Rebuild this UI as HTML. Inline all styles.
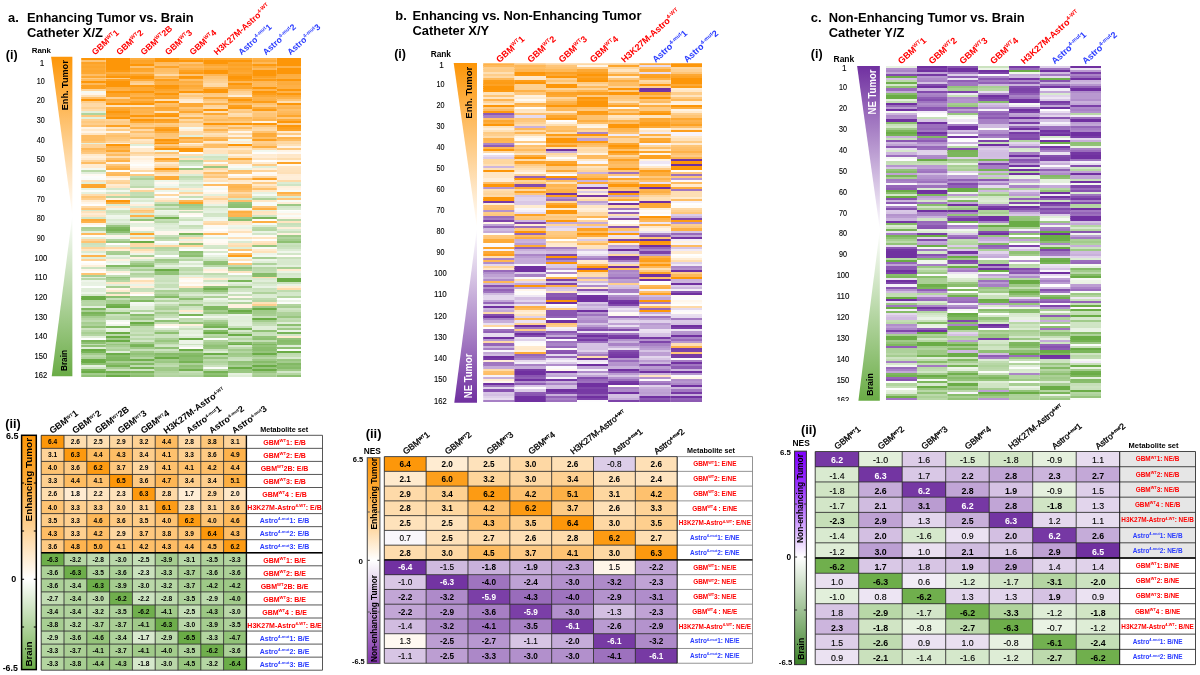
<!DOCTYPE html>
<html><head><meta charset="utf-8"><style>
html,body{margin:0;padding:0;background:#fff;width:1200px;height:675px;overflow:hidden}
#fig{position:absolute;left:0;top:0;filter:blur(0.35px)}
text{font-family:"Liberation Sans", sans-serif;font-weight:bold}
</style></head><body>
<svg id="fig" width="1200" height="675" viewBox="0 0 1200 675">
<svg x="81.20" y="57.80" width="24.67" height="319.20" viewBox="0 0 1 162" preserveAspectRatio="none" shape-rendering="crispEdges"><path d="M0 0h1v1.2H0z" fill="#fd9608"/><path d="M0 1h1v1.2H0z" fill="#fec576"/><path d="M0 2h1v1.2H0z" fill="#fda327"/><path d="M0 3h1v1.2H0z" fill="#fda934"/><path d="M0 4h1v1.2H0z" fill="#fda62d"/><path d="M0 5h1v1.2H0z" fill="#fda934"/><path d="M0 6h1v1.2H0z" fill="#fda62d"/><path d="M0 7h1v1.2H0z" fill="#fda831"/><path d="M0 8h1v1.2H0z" fill="#febd65"/><path d="M0 9h1v1.2H0z" fill="#fda832"/><path d="M0 10h1v1.2H0z" fill="#feca83"/><path d="M0 11h1v1.2H0z" fill="#feba5c"/><path d="M0 12h1v1.2H0z" fill="#fd9608"/><path d="M0 13h1v1.2H0z" fill="#feb95b"/><path d="M0 14h1v1.2H0z" fill="#fda020"/><path d="M0 15h1v1.2H0z" fill="#fda123"/><path d="M0 16h1v1.2H0z" fill="#fed59c"/><path d="M0 17h1v1.2H0z" fill="#f5f9f3"/><path d="M0 18h1v1.2H0z" fill="#fff6eb"/><path d="M0 19h1v1.2H0z" fill="#fee2bb"/><path d="M0 20h1v1.2H0z" fill="#fec06b"/><path d="M0 21h1v1.2H0z" fill="#fd9608"/><path d="M0 22h1v1.2H0z" fill="#fece8b"/><path d="M0 23h1v1.2H0z" fill="#fed9a6"/><path d="M0 24h1v1.2H0z" fill="#fedaa8"/><path d="M0 25h1v1.2H0z" fill="#fed192"/><path d="M0 26h1v1.2H0z" fill="#fedbab"/><path d="M0 27h1v1.2H0z" fill="#e2efdb"/><path d="M0 28h1v1.2H0z" fill="#afd39c"/><path d="M0 29h1v1.2H0z" fill="#fec87e"/><path d="M0 30h1v1.2H0z" fill="#e3f0dd"/><path d="M0 31h1v1.2H0z" fill="#fed192"/><path d="M0 32h1v1.2H0z" fill="#fec97f"/><path d="M0 33h1v1.2H0z" fill="#fece8c"/><path d="M0 34h1v1.2H0z" fill="#fec16e"/><path d="M0 35h1v1.2H0z" fill="#fff4e5"/><path d="M0 36h1v1.2H0z" fill="#ffe9cb"/><path d="M0 37h1v1.2H0z" fill="#fff5e7"/><path d="M0 38h1v1.2H0z" fill="#ffe6c4"/><path d="M0 39h1v1.2H0z" fill="#febd64"/><path d="M0 40h1v1.2H0z" fill="#febe66"/><path d="M0 41h1v1.2H0z" fill="#febd63"/><path d="M0 42h1v1.2H0z" fill="#fec678"/><path d="M0 43h1v1.2H0z" fill="#e4f0de"/><path d="M0 44h1v1.2H0z" fill="#fed49b"/><path d="M0 45h1v1.2H0z" fill="#fed398"/><path d="M0 46h1v1.2H0z" fill="#feb959"/><path d="M0 47h1v1.2H0z" fill="#fec16e"/><path d="M0 48h1v1.2H0z" fill="#fec980"/><path d="M0 49h1v1.2H0z" fill="#ffeacd"/><path d="M0 50h1v1.2H0z" fill="#fff1dd"/><path d="M0 51h1v1.2H0z" fill="#ffeace"/><path d="M0 52h1v1.2H0z" fill="#fed59c"/><path d="M0 53h1v1.2H0z" fill="#febc61"/><path d="M0 54h1v1.2H0z" fill="#ffecd2"/><path d="M0 55h1v1.2H0z" fill="#ffebd1"/><path d="M0 56h1v1.2H0z" fill="#f5f9f2"/><path d="M0 57h1v1.2H0z" fill="#bad9a9"/><path d="M0 58h1v1.2H0z" fill="#e3efdc"/><path d="M0 59h1v1.2H0z" fill="#fffaf3"/><path d="M0 60h1v1.2H0z" fill="#fcfdfc"/><path d="M0 61h1v1.2H0z" fill="#fafcf9"/><path d="M0 62h1v1.2H0z" fill="#fee2bc"/><path d="M0 63h1v1.2H0z" fill="#e1eeda"/><path d="M0 64h1v1.2H0z" fill="#fda62d"/><path d="M0 65h1v1.2H0z" fill="#fda42a"/><path d="M0 66h1v1.2H0z" fill="#e9f3e3"/><path d="M0 67h1v1.2H0z" fill="#fbfdfa"/><path d="M0 68h1v1.2H0z" fill="#e6f1e0"/><path d="M0 69h1v1.2H0z" fill="#fedcac"/><path d="M0 70h1v1.2H0z" fill="#fec678"/><path d="M0 71h1v1.2H0z" fill="#fecf8f"/><path d="M0 72h1v1.2H0z" fill="#ffecd2"/><path d="M0 73h1v1.2H0z" fill="#fff5e8"/><path d="M0 74h1v1.2H0z" fill="#fffefd"/><path d="M0 75h1v1.2H0z" fill="#fedaa7"/><path d="M0 76h1v1.2H0z" fill="#fec679"/><path d="M0 77h1v1.2H0z" fill="#d4e7ca"/><path d="M0 78h1v1.2H0z" fill="#fee1ba"/><path d="M0 79h1v1.2H0z" fill="#ffecd3"/><path d="M0 80h1v1.2H0z" fill="#ffe5c3"/><path d="M0 81h1v1.2H0z" fill="#d3e6c8"/><path d="M0 82h1v1.2H0z" fill="#fdab39"/><path d="M0 83h1v1.2H0z" fill="#feb24b"/><path d="M0 84h1v1.2H0z" fill="#fff4e4"/><path d="M0 85h1v1.2H0z" fill="#fcfdfb"/><path d="M0 86h1v1.2H0z" fill="#a9cf95"/><path d="M0 87h1v1.2H0z" fill="#b0d39d"/><path d="M0 88h1v1.2H0z" fill="#e3f0dd"/><path d="M0 89h1v1.2H0z" fill="#feb95b"/><path d="M0 90h1v1.2H0z" fill="#fffcf8"/><path d="M0 91h1v1.2H0z" fill="#e3efdc"/><path d="M0 92h1v1.2H0z" fill="#fed49b"/><path d="M0 93h1v1.2H0z" fill="#fec372"/><path d="M0 94h1v1.2H0z" fill="#cbe2bf"/><path d="M0 95h1v1.2H0z" fill="#cfe4c4"/><path d="M0 96h1v1.2H0z" fill="#fed59b"/><path d="M0 97h1v1.2H0z" fill="#ffe6c4"/><path d="M0 98h1v1.2H0z" fill="#dbebd2"/><path d="M0 99h1v1.2H0z" fill="#eff6eb"/><path d="M0 100h1v1.2H0z" fill="#feb34d"/><path d="M0 101h1v1.2H0z" fill="#e1eeda"/><path d="M0 102h1v1.2H0z" fill="#fed398"/><path d="M0 103h1v1.2H0z" fill="#fffffe"/><path d="M0 104h1v1.2H0z" fill="#fffbf5"/><path d="M0 105h1v1.2H0z" fill="#fff0db"/><path d="M0 106h1v1.2H0z" fill="#cde3c0"/><path d="M0 107h1v1.2H0z" fill="#fff6ea"/><path d="M0 108h1v1.2H0z" fill="#fffdfa"/><path d="M0 109h1v1.2H0z" fill="#fec473"/><path d="M0 110h1v1.2H0z" fill="#aad096"/><path d="M0 111h1v1.2H0z" fill="#e3efdc"/><path d="M0 112h1v1.2H0z" fill="#b9d8a8"/><path d="M0 113h1v1.2H0z" fill="#eef5ea"/><path d="M0 114h1v1.2H0z" fill="#e7f1e1"/><path d="M0 115h1v1.2H0z" fill="#e8f2e3"/><path d="M0 116h1v1.2H0z" fill="#fdfefc"/><path d="M0 117h1v1.2H0z" fill="#dfedd8"/><path d="M0 118h1v1.2H0z" fill="#dfedd8"/><path d="M0 119h1v1.2H0z" fill="#edf5e8"/><path d="M0 120h1v1.2H0z" fill="#d5e8cb"/><path d="M0 121h1v1.2H0z" fill="#6aac46"/><path d="M0 122h1v1.2H0z" fill="#6aac46"/><path d="M0 123h1v1.2H0z" fill="#b4d5a2"/><path d="M0 124h1v1.2H0z" fill="#b8d7a7"/><path d="M0 125h1v1.2H0z" fill="#b6d6a4"/><path d="M0 126h1v1.2H0z" fill="#e3efdc"/><path d="M0 127h1v1.2H0z" fill="#7cb65d"/><path d="M0 128h1v1.2H0z" fill="#abd097"/><path d="M0 129h1v1.2H0z" fill="#79b458"/><path d="M0 130h1v1.2H0z" fill="#84ba66"/><path d="M0 131h1v1.2H0z" fill="#a6ce91"/><path d="M0 132h1v1.2H0z" fill="#b6d6a4"/><path d="M0 133h1v1.2H0z" fill="#bfdbb0"/><path d="M0 134h1v1.2H0z" fill="#a6ce91"/><path d="M0 135h1v1.2H0z" fill="#aed29b"/><path d="M0 136h1v1.2H0z" fill="#91c176"/><path d="M0 137h1v1.2H0z" fill="#cde3c0"/><path d="M0 138h1v1.2H0z" fill="#b8d7a7"/><path d="M0 139h1v1.2H0z" fill="#a8cf93"/><path d="M0 140h1v1.2H0z" fill="#b4d5a2"/><path d="M0 141h1v1.2H0z" fill="#e1eed9"/><path d="M0 142h1v1.2H0z" fill="#fdfefd"/><path d="M0 143h1v1.2H0z" fill="#7bb55b"/><path d="M0 144h1v1.2H0z" fill="#8ec073"/><path d="M0 145h1v1.2H0z" fill="#c2ddb3"/><path d="M0 146h1v1.2H0z" fill="#92c278"/><path d="M0 147h1v1.2H0z" fill="#e1efda"/><path d="M0 148h1v1.2H0z" fill="#6aac46"/><path d="M0 149h1v1.2H0z" fill="#78b458"/><path d="M0 150h1v1.2H0z" fill="#a2cb8b"/><path d="M0 151h1v1.2H0z" fill="#bbd9aa"/><path d="M0 152h1v1.2H0z" fill="#afd29c"/><path d="M0 153h1v1.2H0z" fill="#6aac46"/><path d="M0 154h1v1.2H0z" fill="#6aac46"/><path d="M0 155h1v1.2H0z" fill="#8dc072"/><path d="M0 156h1v1.2H0z" fill="#e6f1e0"/><path d="M0 157h1v1.2H0z" fill="#cee4c3"/><path d="M0 158h1v1.2H0z" fill="#78b458"/><path d="M0 159h1v1.2H0z" fill="#6aac46"/><path d="M0 160h1v1.2H0z" fill="#a3cc8d"/><path d="M0 161h1v1.2H0z" fill="#91c277"/></svg><svg x="105.62" y="57.80" width="24.67" height="319.20" viewBox="0 0 1 162" preserveAspectRatio="none" shape-rendering="crispEdges"><path d="M0 0h1v1.2H0z" fill="#fd9608"/><path d="M0 1h1v1.2H0z" fill="#fd9608"/><path d="M0 2h1v1.2H0z" fill="#fd9608"/><path d="M0 3h1v1.2H0z" fill="#fd9608"/><path d="M0 4h1v1.2H0z" fill="#fd9608"/><path d="M0 5h1v1.2H0z" fill="#fd9608"/><path d="M0 6h1v1.2H0z" fill="#fd9a11"/><path d="M0 7h1v1.2H0z" fill="#fdae41"/><path d="M0 8h1v1.2H0z" fill="#fda325"/><path d="M0 9h1v1.2H0z" fill="#fd9608"/><path d="M0 10h1v1.2H0z" fill="#fece8c"/><path d="M0 11h1v1.2H0z" fill="#fda123"/><path d="M0 12h1v1.2H0z" fill="#fd9608"/><path d="M0 13h1v1.2H0z" fill="#fd9608"/><path d="M0 14h1v1.2H0z" fill="#fd9608"/><path d="M0 15h1v1.2H0z" fill="#fdaf43"/><path d="M0 16h1v1.2H0z" fill="#feb24b"/><path d="M0 17h1v1.2H0z" fill="#fd9608"/><path d="M0 18h1v1.2H0z" fill="#fda326"/><path d="M0 19h1v1.2H0z" fill="#fda428"/><path d="M0 20h1v1.2H0z" fill="#fed194"/><path d="M0 21h1v1.2H0z" fill="#fdae41"/><path d="M0 22h1v1.2H0z" fill="#feb148"/><path d="M0 23h1v1.2H0z" fill="#fd9608"/><path d="M0 24h1v1.2H0z" fill="#fee4bf"/><path d="M0 25h1v1.2H0z" fill="#fdaa37"/><path d="M0 26h1v1.2H0z" fill="#fda52b"/><path d="M0 27h1v1.2H0z" fill="#fd970a"/><path d="M0 28h1v1.2H0z" fill="#fda122"/><path d="M0 29h1v1.2H0z" fill="#fda62e"/><path d="M0 30h1v1.2H0z" fill="#fd9608"/><path d="M0 31h1v1.2H0z" fill="#fed398"/><path d="M0 32h1v1.2H0z" fill="#fecc87"/><path d="M0 33h1v1.2H0z" fill="#fece8c"/><path d="M0 34h1v1.2H0z" fill="#fda020"/><path d="M0 35h1v1.2H0z" fill="#fee2ba"/><path d="M0 36h1v1.2H0z" fill="#fecc86"/><path d="M0 37h1v1.2H0z" fill="#fff5e8"/><path d="M0 38h1v1.2H0z" fill="#fec97f"/><path d="M0 39h1v1.2H0z" fill="#fec06b"/><path d="M0 40h1v1.2H0z" fill="#fec77a"/><path d="M0 41h1v1.2H0z" fill="#feca82"/><path d="M0 42h1v1.2H0z" fill="#fed69e"/><path d="M0 43h1v1.2H0z" fill="#ffeed7"/><path d="M0 44h1v1.2H0z" fill="#fd970a"/><path d="M0 45h1v1.2H0z" fill="#feb148"/><path d="M0 46h1v1.2H0z" fill="#feb755"/><path d="M0 47h1v1.2H0z" fill="#fda72f"/><path d="M0 48h1v1.2H0z" fill="#fecb86"/><path d="M0 49h1v1.2H0z" fill="#febb60"/><path d="M0 50h1v1.2H0z" fill="#fedeb2"/><path d="M0 51h1v1.2H0z" fill="#fec06c"/><path d="M0 52h1v1.2H0z" fill="#feb148"/><path d="M0 53h1v1.2H0z" fill="#fff3e4"/><path d="M0 54h1v1.2H0z" fill="#fec87e"/><path d="M0 55h1v1.2H0z" fill="#feb857"/><path d="M0 56h1v1.2H0z" fill="#fdae40"/><path d="M0 57h1v1.2H0z" fill="#fffdfa"/><path d="M0 58h1v1.2H0z" fill="#febd64"/><path d="M0 59h1v1.2H0z" fill="#feb858"/><path d="M0 60h1v1.2H0z" fill="#ffecd2"/><path d="M0 61h1v1.2H0z" fill="#fff6eb"/><path d="M0 62h1v1.2H0z" fill="#fed7a0"/><path d="M0 63h1v1.2H0z" fill="#fed295"/><path d="M0 64h1v1.2H0z" fill="#ffecd2"/><path d="M0 65h1v1.2H0z" fill="#ffe6c5"/><path d="M0 66h1v1.2H0z" fill="#d5e8cb"/><path d="M0 67h1v1.2H0z" fill="#f2f8ef"/><path d="M0 68h1v1.2H0z" fill="#d2e6c7"/><path d="M0 69h1v1.2H0z" fill="#fedfb3"/><path d="M0 70h1v1.2H0z" fill="#b5d6a3"/><path d="M0 71h1v1.2H0z" fill="#fff4e4"/><path d="M0 72h1v1.2H0z" fill="#fd9608"/><path d="M0 73h1v1.2H0z" fill="#fdac3b"/><path d="M0 74h1v1.2H0z" fill="#daebd1"/><path d="M0 75h1v1.2H0z" fill="#ffe7c7"/><path d="M0 76h1v1.2H0z" fill="#eef6ea"/><path d="M0 77h1v1.2H0z" fill="#cbe2be"/><path d="M0 78h1v1.2H0z" fill="#c8e0ba"/><path d="M0 79h1v1.2H0z" fill="#d6e8cc"/><path d="M0 80h1v1.2H0z" fill="#f0f7ec"/><path d="M0 81h1v1.2H0z" fill="#edf5e9"/><path d="M0 82h1v1.2H0z" fill="#dbebd3"/><path d="M0 83h1v1.2H0z" fill="#e4f0de"/><path d="M0 84h1v1.2H0z" fill="#d1e5c6"/><path d="M0 85h1v1.2H0z" fill="#99c681"/><path d="M0 86h1v1.2H0z" fill="#7eb75f"/><path d="M0 87h1v1.2H0z" fill="#77b356"/><path d="M0 88h1v1.2H0z" fill="#8dc072"/><path d="M0 89h1v1.2H0z" fill="#c1ddb3"/><path d="M0 90h1v1.2H0z" fill="#fff6eb"/><path d="M0 91h1v1.2H0z" fill="#f1f7ed"/><path d="M0 92h1v1.2H0z" fill="#b4d5a2"/><path d="M0 93h1v1.2H0z" fill="#99c680"/><path d="M0 94h1v1.2H0z" fill="#ffffff"/><path d="M0 95h1v1.2H0z" fill="#ddecd4"/><path d="M0 96h1v1.2H0z" fill="#fedaa9"/><path d="M0 97h1v1.2H0z" fill="#ffefd9"/><path d="M0 98h1v1.2H0z" fill="#a9cf94"/><path d="M0 99h1v1.2H0z" fill="#a5cd8f"/><path d="M0 100h1v1.2H0z" fill="#eaf3e5"/><path d="M0 101h1v1.2H0z" fill="#d9ead0"/><path d="M0 102h1v1.2H0z" fill="#fff0dc"/><path d="M0 103h1v1.2H0z" fill="#ecf5e8"/><path d="M0 104h1v1.2H0z" fill="#f5faf3"/><path d="M0 105h1v1.2H0z" fill="#84bb66"/><path d="M0 106h1v1.2H0z" fill="#b2d49f"/><path d="M0 107h1v1.2H0z" fill="#cbe2bf"/><path d="M0 108h1v1.2H0z" fill="#fff0db"/><path d="M0 109h1v1.2H0z" fill="#fffbf6"/><path d="M0 110h1v1.2H0z" fill="#c2ddb3"/><path d="M0 111h1v1.2H0z" fill="#98c67f"/><path d="M0 112h1v1.2H0z" fill="#a7ce92"/><path d="M0 113h1v1.2H0z" fill="#b7d7a6"/><path d="M0 114h1v1.2H0z" fill="#ffe7c6"/><path d="M0 115h1v1.2H0z" fill="#e2efdb"/><path d="M0 116h1v1.2H0z" fill="#a5cd8f"/><path d="M0 117h1v1.2H0z" fill="#fff5e8"/><path d="M0 118h1v1.2H0z" fill="#ffebd1"/><path d="M0 119h1v1.2H0z" fill="#afd29c"/><path d="M0 120h1v1.2H0z" fill="#ffeacd"/><path d="M0 121h1v1.2H0z" fill="#8abe6e"/><path d="M0 122h1v1.2H0z" fill="#c7e0ba"/><path d="M0 123h1v1.2H0z" fill="#a7ce92"/><path d="M0 124h1v1.2H0z" fill="#a7ce92"/><path d="M0 125h1v1.2H0z" fill="#75b253"/><path d="M0 126h1v1.2H0z" fill="#6aac46"/><path d="M0 127h1v1.2H0z" fill="#d5e8cb"/><path d="M0 128h1v1.2H0z" fill="#cde3c0"/><path d="M0 129h1v1.2H0z" fill="#84bb67"/><path d="M0 130h1v1.2H0z" fill="#cbe2be"/><path d="M0 131h1v1.2H0z" fill="#bddaad"/><path d="M0 132h1v1.2H0z" fill="#bbd9ab"/><path d="M0 133h1v1.2H0z" fill="#f3f8f0"/><path d="M0 134h1v1.2H0z" fill="#fffdfa"/><path d="M0 135h1v1.2H0z" fill="#edf5e9"/><path d="M0 136h1v1.2H0z" fill="#79b559"/><path d="M0 137h1v1.2H0z" fill="#ebf4e6"/><path d="M0 138h1v1.2H0z" fill="#e7f2e1"/><path d="M0 139h1v1.2H0z" fill="#6aac46"/><path d="M0 140h1v1.2H0z" fill="#bcd9ab"/><path d="M0 141h1v1.2H0z" fill="#6aac46"/><path d="M0 142h1v1.2H0z" fill="#a2cb8c"/><path d="M0 143h1v1.2H0z" fill="#6aac46"/><path d="M0 144h1v1.2H0z" fill="#aed29a"/><path d="M0 145h1v1.2H0z" fill="#97c57e"/><path d="M0 146h1v1.2H0z" fill="#a8ce93"/><path d="M0 147h1v1.2H0z" fill="#b8d8a7"/><path d="M0 148h1v1.2H0z" fill="#acd198"/><path d="M0 149h1v1.2H0z" fill="#e1eeda"/><path d="M0 150h1v1.2H0z" fill="#6cad49"/><path d="M0 151h1v1.2H0z" fill="#87bc6a"/><path d="M0 152h1v1.2H0z" fill="#7fb860"/><path d="M0 153h1v1.2H0z" fill="#7cb65d"/><path d="M0 154h1v1.2H0z" fill="#a6ce91"/><path d="M0 155h1v1.2H0z" fill="#8dbf71"/><path d="M0 156h1v1.2H0z" fill="#77b356"/><path d="M0 157h1v1.2H0z" fill="#a9cf95"/><path d="M0 158h1v1.2H0z" fill="#cce2bf"/><path d="M0 159h1v1.2H0z" fill="#71b04e"/><path d="M0 160h1v1.2H0z" fill="#8fc174"/><path d="M0 161h1v1.2H0z" fill="#6aac46"/></svg><svg x="130.04" y="57.80" width="24.67" height="319.20" viewBox="0 0 1 162" preserveAspectRatio="none" shape-rendering="crispEdges"><path d="M0 0h1v1.2H0z" fill="#fdae40"/><path d="M0 1h1v1.2H0z" fill="#fda428"/><path d="M0 2h1v1.2H0z" fill="#fda52c"/><path d="M0 3h1v1.2H0z" fill="#fd9608"/><path d="M0 4h1v1.2H0z" fill="#fec372"/><path d="M0 5h1v1.2H0z" fill="#fda428"/><path d="M0 6h1v1.2H0z" fill="#fda72f"/><path d="M0 7h1v1.2H0z" fill="#feba5d"/><path d="M0 8h1v1.2H0z" fill="#fda428"/><path d="M0 9h1v1.2H0z" fill="#fd9608"/><path d="M0 10h1v1.2H0z" fill="#fd9608"/><path d="M0 11h1v1.2H0z" fill="#fdaa38"/><path d="M0 12h1v1.2H0z" fill="#feca83"/><path d="M0 13h1v1.2H0z" fill="#fed49b"/><path d="M0 14h1v1.2H0z" fill="#fd9b14"/><path d="M0 15h1v1.2H0z" fill="#fda833"/><path d="M0 16h1v1.2H0z" fill="#fda935"/><path d="M0 17h1v1.2H0z" fill="#fd9608"/><path d="M0 18h1v1.2H0z" fill="#fdae40"/><path d="M0 19h1v1.2H0z" fill="#feb34d"/><path d="M0 20h1v1.2H0z" fill="#fda224"/><path d="M0 21h1v1.2H0z" fill="#feb34d"/><path d="M0 22h1v1.2H0z" fill="#fda52b"/><path d="M0 23h1v1.2H0z" fill="#fd9608"/><path d="M0 24h1v1.2H0z" fill="#fee4bf"/><path d="M0 25h1v1.2H0z" fill="#fdae41"/><path d="M0 26h1v1.2H0z" fill="#feb551"/><path d="M0 27h1v1.2H0z" fill="#feb34b"/><path d="M0 28h1v1.2H0z" fill="#feb757"/><path d="M0 29h1v1.2H0z" fill="#fd9608"/><path d="M0 30h1v1.2H0z" fill="#febc62"/><path d="M0 31h1v1.2H0z" fill="#fd9608"/><path d="M0 32h1v1.2H0z" fill="#fda62d"/><path d="M0 33h1v1.2H0z" fill="#fec77a"/><path d="M0 34h1v1.2H0z" fill="#fecd89"/><path d="M0 35h1v1.2H0z" fill="#feb148"/><path d="M0 36h1v1.2H0z" fill="#fedaa9"/><path d="M0 37h1v1.2H0z" fill="#fec06c"/><path d="M0 38h1v1.2H0z" fill="#fed499"/><path d="M0 39h1v1.2H0z" fill="#fed090"/><path d="M0 40h1v1.2H0z" fill="#febc62"/><path d="M0 41h1v1.2H0z" fill="#ffe8c9"/><path d="M0 42h1v1.2H0z" fill="#fee2bb"/><path d="M0 43h1v1.2H0z" fill="#fedaa9"/><path d="M0 44h1v1.2H0z" fill="#e0eed9"/><path d="M0 45h1v1.2H0z" fill="#fffbf5"/><path d="M0 46h1v1.2H0z" fill="#ffeace"/><path d="M0 47h1v1.2H0z" fill="#ffeacd"/><path d="M0 48h1v1.2H0z" fill="#fed398"/><path d="M0 49h1v1.2H0z" fill="#fedeb2"/><path d="M0 50h1v1.2H0z" fill="#fff6e9"/><path d="M0 51h1v1.2H0z" fill="#fff0dc"/><path d="M0 52h1v1.2H0z" fill="#fff5e8"/><path d="M0 53h1v1.2H0z" fill="#fff9f0"/><path d="M0 54h1v1.2H0z" fill="#fdfefc"/><path d="M0 55h1v1.2H0z" fill="#fff7ed"/><path d="M0 56h1v1.2H0z" fill="#ffefda"/><path d="M0 57h1v1.2H0z" fill="#fed8a3"/><path d="M0 58h1v1.2H0z" fill="#fefffe"/><path d="M0 59h1v1.2H0z" fill="#fec97f"/><path d="M0 60h1v1.2H0z" fill="#bfdbb0"/><path d="M0 61h1v1.2H0z" fill="#add199"/><path d="M0 62h1v1.2H0z" fill="#cee4c3"/><path d="M0 63h1v1.2H0z" fill="#cfe5c4"/><path d="M0 64h1v1.2H0z" fill="#cde3c1"/><path d="M0 65h1v1.2H0z" fill="#bddaad"/><path d="M0 66h1v1.2H0z" fill="#fff6ea"/><path d="M0 67h1v1.2H0z" fill="#fed59c"/><path d="M0 68h1v1.2H0z" fill="#c1ddb2"/><path d="M0 69h1v1.2H0z" fill="#c4deb6"/><path d="M0 70h1v1.2H0z" fill="#b4d5a2"/><path d="M0 71h1v1.2H0z" fill="#e6f1e0"/><path d="M0 72h1v1.2H0z" fill="#daead1"/><path d="M0 73h1v1.2H0z" fill="#f3f8f0"/><path d="M0 74h1v1.2H0z" fill="#ffefda"/><path d="M0 75h1v1.2H0z" fill="#dbebd3"/><path d="M0 76h1v1.2H0z" fill="#fedba9"/><path d="M0 77h1v1.2H0z" fill="#fec372"/><path d="M0 78h1v1.2H0z" fill="#fecb85"/><path d="M0 79h1v1.2H0z" fill="#d9ead0"/><path d="M0 80h1v1.2H0z" fill="#feb147"/><path d="M0 81h1v1.2H0z" fill="#cde3c1"/><path d="M0 82h1v1.2H0z" fill="#93c378"/><path d="M0 83h1v1.2H0z" fill="#fff7ed"/><path d="M0 84h1v1.2H0z" fill="#e2efdb"/><path d="M0 85h1v1.2H0z" fill="#e4f0dd"/><path d="M0 86h1v1.2H0z" fill="#fffaf2"/><path d="M0 87h1v1.2H0z" fill="#fff8ee"/><path d="M0 88h1v1.2H0z" fill="#d4e7c9"/><path d="M0 89h1v1.2H0z" fill="#fda429"/><path d="M0 90h1v1.2H0z" fill="#e7f1e1"/><path d="M0 91h1v1.2H0z" fill="#fed090"/><path d="M0 92h1v1.2H0z" fill="#f3f8f0"/><path d="M0 93h1v1.2H0z" fill="#6bac47"/><path d="M0 94h1v1.2H0z" fill="#fedaa8"/><path d="M0 95h1v1.2H0z" fill="#fedaa9"/><path d="M0 96h1v1.2H0z" fill="#bedbae"/><path d="M0 97h1v1.2H0z" fill="#feddae"/><path d="M0 98h1v1.2H0z" fill="#ffebd0"/><path d="M0 99h1v1.2H0z" fill="#edf5e8"/><path d="M0 100h1v1.2H0z" fill="#a7ce92"/><path d="M0 101h1v1.2H0z" fill="#fff2e1"/><path d="M0 102h1v1.2H0z" fill="#deedd6"/><path d="M0 103h1v1.2H0z" fill="#b3d5a1"/><path d="M0 104h1v1.2H0z" fill="#9dc885"/><path d="M0 105h1v1.2H0z" fill="#84bb67"/><path d="M0 106h1v1.2H0z" fill="#c4deb6"/><path d="M0 107h1v1.2H0z" fill="#aad096"/><path d="M0 108h1v1.2H0z" fill="#d7e9cd"/><path d="M0 109h1v1.2H0z" fill="#b1d39e"/><path d="M0 110h1v1.2H0z" fill="#bbd9aa"/><path d="M0 111h1v1.2H0z" fill="#d4e7c9"/><path d="M0 112h1v1.2H0z" fill="#fff6ea"/><path d="M0 113h1v1.2H0z" fill="#fedfb4"/><path d="M0 114h1v1.2H0z" fill="#ffedd6"/><path d="M0 115h1v1.2H0z" fill="#ebf4e7"/><path d="M0 116h1v1.2H0z" fill="#ffeed7"/><path d="M0 117h1v1.2H0z" fill="#c6dfb8"/><path d="M0 118h1v1.2H0z" fill="#c9e1bc"/><path d="M0 119h1v1.2H0z" fill="#fff1dd"/><path d="M0 120h1v1.2H0z" fill="#fffefc"/><path d="M0 121h1v1.2H0z" fill="#a7ce92"/><path d="M0 122h1v1.2H0z" fill="#aed29a"/><path d="M0 123h1v1.2H0z" fill="#80b861"/><path d="M0 124h1v1.2H0z" fill="#f4f9f2"/><path d="M0 125h1v1.2H0z" fill="#eff6ec"/><path d="M0 126h1v1.2H0z" fill="#e2efda"/><path d="M0 127h1v1.2H0z" fill="#e0eed8"/><path d="M0 128h1v1.2H0z" fill="#b3d5a1"/><path d="M0 129h1v1.2H0z" fill="#e7f1e1"/><path d="M0 130h1v1.2H0z" fill="#88bd6c"/><path d="M0 131h1v1.2H0z" fill="#abd096"/><path d="M0 132h1v1.2H0z" fill="#9dc885"/><path d="M0 133h1v1.2H0z" fill="#cae2bd"/><path d="M0 134h1v1.2H0z" fill="#6aac46"/><path d="M0 135h1v1.2H0z" fill="#8cbf70"/><path d="M0 136h1v1.2H0z" fill="#c0dcb0"/><path d="M0 137h1v1.2H0z" fill="#c4deb6"/><path d="M0 138h1v1.2H0z" fill="#c0dcb1"/><path d="M0 139h1v1.2H0z" fill="#cae1bd"/><path d="M0 140h1v1.2H0z" fill="#b7d7a5"/><path d="M0 141h1v1.2H0z" fill="#d1e5c6"/><path d="M0 142h1v1.2H0z" fill="#bad9aa"/><path d="M0 143h1v1.2H0z" fill="#d2e6c7"/><path d="M0 144h1v1.2H0z" fill="#a5cd8f"/><path d="M0 145h1v1.2H0z" fill="#7eb75f"/><path d="M0 146h1v1.2H0z" fill="#77b357"/><path d="M0 147h1v1.2H0z" fill="#a0ca89"/><path d="M0 148h1v1.2H0z" fill="#c8e0bb"/><path d="M0 149h1v1.2H0z" fill="#a0ca88"/><path d="M0 150h1v1.2H0z" fill="#91c277"/><path d="M0 151h1v1.2H0z" fill="#9dc986"/><path d="M0 152h1v1.2H0z" fill="#b4d5a2"/><path d="M0 153h1v1.2H0z" fill="#70af4d"/><path d="M0 154h1v1.2H0z" fill="#afd29c"/><path d="M0 155h1v1.2H0z" fill="#81b963"/><path d="M0 156h1v1.2H0z" fill="#bfdbb0"/><path d="M0 157h1v1.2H0z" fill="#73b151"/><path d="M0 158h1v1.2H0z" fill="#d0e5c5"/><path d="M0 159h1v1.2H0z" fill="#7db65d"/><path d="M0 160h1v1.2H0z" fill="#98c67f"/><path d="M0 161h1v1.2H0z" fill="#8bbe6e"/></svg><svg x="154.47" y="57.80" width="24.67" height="319.20" viewBox="0 0 1 162" preserveAspectRatio="none" shape-rendering="crispEdges"><path d="M0 0h1v1.2H0z" fill="#fd9a12"/><path d="M0 1h1v1.2H0z" fill="#fd9608"/><path d="M0 2h1v1.2H0z" fill="#febb60"/><path d="M0 3h1v1.2H0z" fill="#febf69"/><path d="M0 4h1v1.2H0z" fill="#fda327"/><path d="M0 5h1v1.2H0z" fill="#febd64"/><path d="M0 6h1v1.2H0z" fill="#febe65"/><path d="M0 7h1v1.2H0z" fill="#fec371"/><path d="M0 8h1v1.2H0z" fill="#fedaa8"/><path d="M0 9h1v1.2H0z" fill="#feb550"/><path d="M0 10h1v1.2H0z" fill="#febf68"/><path d="M0 11h1v1.2H0z" fill="#fd9e1a"/><path d="M0 12h1v1.2H0z" fill="#fdad3e"/><path d="M0 13h1v1.2H0z" fill="#fdae40"/><path d="M0 14h1v1.2H0z" fill="#fd9608"/><path d="M0 15h1v1.2H0z" fill="#fd990e"/><path d="M0 16h1v1.2H0z" fill="#fda52b"/><path d="M0 17h1v1.2H0z" fill="#fdac3b"/><path d="M0 18h1v1.2H0z" fill="#fd9608"/><path d="M0 19h1v1.2H0z" fill="#fda832"/><path d="M0 20h1v1.2H0z" fill="#fda327"/><path d="M0 21h1v1.2H0z" fill="#fee0b6"/><path d="M0 22h1v1.2H0z" fill="#fd9608"/><path d="M0 23h1v1.2H0z" fill="#fec16d"/><path d="M0 24h1v1.2H0z" fill="#febb5f"/><path d="M0 25h1v1.2H0z" fill="#fda833"/><path d="M0 26h1v1.2H0z" fill="#fdab3a"/><path d="M0 27h1v1.2H0z" fill="#fee1b8"/><path d="M0 28h1v1.2H0z" fill="#fd9c16"/><path d="M0 29h1v1.2H0z" fill="#fd9608"/><path d="M0 30h1v1.2H0z" fill="#fecc86"/><path d="M0 31h1v1.2H0z" fill="#fd9d1a"/><path d="M0 32h1v1.2H0z" fill="#fda52c"/><path d="M0 33h1v1.2H0z" fill="#fecd88"/><path d="M0 34h1v1.2H0z" fill="#fec77a"/><path d="M0 35h1v1.2H0z" fill="#fda327"/><path d="M0 36h1v1.2H0z" fill="#fd9a12"/><path d="M0 37h1v1.2H0z" fill="#fdac3c"/><path d="M0 38h1v1.2H0z" fill="#fec371"/><path d="M0 39h1v1.2H0z" fill="#fec576"/><path d="M0 40h1v1.2H0z" fill="#fec87e"/><path d="M0 41h1v1.2H0z" fill="#fd9608"/><path d="M0 42h1v1.2H0z" fill="#fda42a"/><path d="M0 43h1v1.2H0z" fill="#fd9608"/><path d="M0 44h1v1.2H0z" fill="#fecb85"/><path d="M0 45h1v1.2H0z" fill="#feb653"/><path d="M0 46h1v1.2H0z" fill="#fd9608"/><path d="M0 47h1v1.2H0z" fill="#f0f7ec"/><path d="M0 48h1v1.2H0z" fill="#fec473"/><path d="M0 49h1v1.2H0z" fill="#fedcad"/><path d="M0 50h1v1.2H0z" fill="#ffe5c3"/><path d="M0 51h1v1.2H0z" fill="#fda121"/><path d="M0 52h1v1.2H0z" fill="#febb5e"/><path d="M0 53h1v1.2H0z" fill="#ffecd2"/><path d="M0 54h1v1.2H0z" fill="#fee0b7"/><path d="M0 55h1v1.2H0z" fill="#fed49a"/><path d="M0 56h1v1.2H0z" fill="#fd9608"/><path d="M0 57h1v1.2H0z" fill="#fec06a"/><path d="M0 58h1v1.2H0z" fill="#feddb0"/><path d="M0 59h1v1.2H0z" fill="#ffe8c8"/><path d="M0 60h1v1.2H0z" fill="#fdaa37"/><path d="M0 61h1v1.2H0z" fill="#fda934"/><path d="M0 62h1v1.2H0z" fill="#eef6ea"/><path d="M0 63h1v1.2H0z" fill="#fff9f1"/><path d="M0 64h1v1.2H0z" fill="#f3f9f1"/><path d="M0 65h1v1.2H0z" fill="#eaf3e5"/><path d="M0 66h1v1.2H0z" fill="#fed296"/><path d="M0 67h1v1.2H0z" fill="#edf5e9"/><path d="M0 68h1v1.2H0z" fill="#fffdfb"/><path d="M0 69h1v1.2H0z" fill="#fed7a0"/><path d="M0 70h1v1.2H0z" fill="#fafcf9"/><path d="M0 71h1v1.2H0z" fill="#ffecd3"/><path d="M0 72h1v1.2H0z" fill="#fee0b6"/><path d="M0 73h1v1.2H0z" fill="#c6dfb8"/><path d="M0 74h1v1.2H0z" fill="#a1cb8a"/><path d="M0 75h1v1.2H0z" fill="#cfe4c4"/><path d="M0 76h1v1.2H0z" fill="#b4d5a2"/><path d="M0 77h1v1.2H0z" fill="#f0f6ec"/><path d="M0 78h1v1.2H0z" fill="#e9f3e3"/><path d="M0 79h1v1.2H0z" fill="#e8f2e2"/><path d="M0 80h1v1.2H0z" fill="#c6dfb8"/><path d="M0 81h1v1.2H0z" fill="#73b151"/><path d="M0 82h1v1.2H0z" fill="#c5dfb7"/><path d="M0 83h1v1.2H0z" fill="#bad8a9"/><path d="M0 84h1v1.2H0z" fill="#d9ead0"/><path d="M0 85h1v1.2H0z" fill="#e1eeda"/><path d="M0 86h1v1.2H0z" fill="#ddecd5"/><path d="M0 87h1v1.2H0z" fill="#e4f0de"/><path d="M0 88h1v1.2H0z" fill="#fff7ed"/><path d="M0 89h1v1.2H0z" fill="#fff7ec"/><path d="M0 90h1v1.2H0z" fill="#c8e0bb"/><path d="M0 91h1v1.2H0z" fill="#b2d4a0"/><path d="M0 92h1v1.2H0z" fill="#c1dcb2"/><path d="M0 93h1v1.2H0z" fill="#fefefe"/><path d="M0 94h1v1.2H0z" fill="#eff6ec"/><path d="M0 95h1v1.2H0z" fill="#fed8a2"/><path d="M0 96h1v1.2H0z" fill="#b2d49f"/><path d="M0 97h1v1.2H0z" fill="#b9d8a8"/><path d="M0 98h1v1.2H0z" fill="#cfe4c4"/><path d="M0 99h1v1.2H0z" fill="#cce3c0"/><path d="M0 100h1v1.2H0z" fill="#fdfefd"/><path d="M0 101h1v1.2H0z" fill="#d9ead0"/><path d="M0 102h1v1.2H0z" fill="#9dc885"/><path d="M0 103h1v1.2H0z" fill="#a9cf95"/><path d="M0 104h1v1.2H0z" fill="#cae2bd"/><path d="M0 105h1v1.2H0z" fill="#e5f1df"/><path d="M0 106h1v1.2H0z" fill="#cfe5c4"/><path d="M0 107h1v1.2H0z" fill="#6aac46"/><path d="M0 108h1v1.2H0z" fill="#93c379"/><path d="M0 109h1v1.2H0z" fill="#91c277"/><path d="M0 110h1v1.2H0z" fill="#cee3c2"/><path d="M0 111h1v1.2H0z" fill="#cee4c2"/><path d="M0 112h1v1.2H0z" fill="#cde3c1"/><path d="M0 113h1v1.2H0z" fill="#c8e0bb"/><path d="M0 114h1v1.2H0z" fill="#d4e7ca"/><path d="M0 115h1v1.2H0z" fill="#c5dfb7"/><path d="M0 116h1v1.2H0z" fill="#c6dfb8"/><path d="M0 117h1v1.2H0z" fill="#e1eeda"/><path d="M0 118h1v1.2H0z" fill="#aad095"/><path d="M0 119h1v1.2H0z" fill="#bad8a9"/><path d="M0 120h1v1.2H0z" fill="#a6ce91"/><path d="M0 121h1v1.2H0z" fill="#83ba65"/><path d="M0 122h1v1.2H0z" fill="#d8e9ce"/><path d="M0 123h1v1.2H0z" fill="#b4d5a2"/><path d="M0 124h1v1.2H0z" fill="#e0eed8"/><path d="M0 125h1v1.2H0z" fill="#c6dfb8"/><path d="M0 126h1v1.2H0z" fill="#b0d39d"/><path d="M0 127h1v1.2H0z" fill="#a9cf94"/><path d="M0 128h1v1.2H0z" fill="#c8e0ba"/><path d="M0 129h1v1.2H0z" fill="#a4cc8e"/><path d="M0 130h1v1.2H0z" fill="#bcdaac"/><path d="M0 131h1v1.2H0z" fill="#c7e0ba"/><path d="M0 132h1v1.2H0z" fill="#eaf3e5"/><path d="M0 133h1v1.2H0z" fill="#8dc072"/><path d="M0 134h1v1.2H0z" fill="#bfdbaf"/><path d="M0 135h1v1.2H0z" fill="#fff4e4"/><path d="M0 136h1v1.2H0z" fill="#fffefc"/><path d="M0 137h1v1.2H0z" fill="#dbebd2"/><path d="M0 138h1v1.2H0z" fill="#b8d7a7"/><path d="M0 139h1v1.2H0z" fill="#8cbf70"/><path d="M0 140h1v1.2H0z" fill="#cae2bd"/><path d="M0 141h1v1.2H0z" fill="#cbe2bf"/><path d="M0 142h1v1.2H0z" fill="#abd097"/><path d="M0 143h1v1.2H0z" fill="#98c67f"/><path d="M0 144h1v1.2H0z" fill="#aed29a"/><path d="M0 145h1v1.2H0z" fill="#c8e0bb"/><path d="M0 146h1v1.2H0z" fill="#d2e6c7"/><path d="M0 147h1v1.2H0z" fill="#8fc175"/><path d="M0 148h1v1.2H0z" fill="#cee4c2"/><path d="M0 149h1v1.2H0z" fill="#b7d7a6"/><path d="M0 150h1v1.2H0z" fill="#85bb67"/><path d="M0 151h1v1.2H0z" fill="#8fc174"/><path d="M0 152h1v1.2H0z" fill="#6aac46"/><path d="M0 153h1v1.2H0z" fill="#a3cc8d"/><path d="M0 154h1v1.2H0z" fill="#9bc883"/><path d="M0 155h1v1.2H0z" fill="#b7d7a5"/><path d="M0 156h1v1.2H0z" fill="#c0dcb1"/><path d="M0 157h1v1.2H0z" fill="#a0ca89"/><path d="M0 158h1v1.2H0z" fill="#9ec986"/><path d="M0 159h1v1.2H0z" fill="#afd39c"/><path d="M0 160h1v1.2H0z" fill="#b7d7a6"/><path d="M0 161h1v1.2H0z" fill="#b2d49f"/></svg><svg x="178.89" y="57.80" width="24.67" height="319.20" viewBox="0 0 1 162" preserveAspectRatio="none" shape-rendering="crispEdges"><path d="M0 0h1v1.2H0z" fill="#fda833"/><path d="M0 1h1v1.2H0z" fill="#fd970a"/><path d="M0 2h1v1.2H0z" fill="#fec372"/><path d="M0 3h1v1.2H0z" fill="#feb249"/><path d="M0 4h1v1.2H0z" fill="#feba5e"/><path d="M0 5h1v1.2H0z" fill="#fdb045"/><path d="M0 6h1v1.2H0z" fill="#fda223"/><path d="M0 7h1v1.2H0z" fill="#fd9b14"/><path d="M0 8h1v1.2H0z" fill="#fec474"/><path d="M0 9h1v1.2H0z" fill="#fd9608"/><path d="M0 10h1v1.2H0z" fill="#fd9b14"/><path d="M0 11h1v1.2H0z" fill="#febf68"/><path d="M0 12h1v1.2H0z" fill="#fdae41"/><path d="M0 13h1v1.2H0z" fill="#feb44f"/><path d="M0 14h1v1.2H0z" fill="#fda935"/><path d="M0 15h1v1.2H0z" fill="#fdae40"/><path d="M0 16h1v1.2H0z" fill="#feb755"/><path d="M0 17h1v1.2H0z" fill="#fd9608"/><path d="M0 18h1v1.2H0z" fill="#fed59b"/><path d="M0 19h1v1.2H0z" fill="#fec87d"/><path d="M0 20h1v1.2H0z" fill="#fed59d"/><path d="M0 21h1v1.2H0z" fill="#ffeace"/><path d="M0 22h1v1.2H0z" fill="#ffefda"/><path d="M0 23h1v1.2H0z" fill="#fda935"/><path d="M0 24h1v1.2H0z" fill="#fda935"/><path d="M0 25h1v1.2H0z" fill="#fec77c"/><path d="M0 26h1v1.2H0z" fill="#febb60"/><path d="M0 27h1v1.2H0z" fill="#fda730"/><path d="M0 28h1v1.2H0z" fill="#fecd8a"/><path d="M0 29h1v1.2H0z" fill="#fed9a5"/><path d="M0 30h1v1.2H0z" fill="#fdaf42"/><path d="M0 31h1v1.2H0z" fill="#fed8a3"/><path d="M0 32h1v1.2H0z" fill="#fec77a"/><path d="M0 33h1v1.2H0z" fill="#fedaa9"/><path d="M0 34h1v1.2H0z" fill="#fed9a6"/><path d="M0 35h1v1.2H0z" fill="#f5f9f3"/><path d="M0 36h1v1.2H0z" fill="#fff0db"/><path d="M0 37h1v1.2H0z" fill="#fedcac"/><path d="M0 38h1v1.2H0z" fill="#fedbab"/><path d="M0 39h1v1.2H0z" fill="#e4f0dd"/><path d="M0 40h1v1.2H0z" fill="#fda935"/><path d="M0 41h1v1.2H0z" fill="#febe67"/><path d="M0 42h1v1.2H0z" fill="#feb551"/><path d="M0 43h1v1.2H0z" fill="#fff2e0"/><path d="M0 44h1v1.2H0z" fill="#fee1b7"/><path d="M0 45h1v1.2H0z" fill="#fec77b"/><path d="M0 46h1v1.2H0z" fill="#fd9608"/><path d="M0 47h1v1.2H0z" fill="#fd990f"/><path d="M0 48h1v1.2H0z" fill="#fffdfb"/><path d="M0 49h1v1.2H0z" fill="#fedeb0"/><path d="M0 50h1v1.2H0z" fill="#d4e7ca"/><path d="M0 51h1v1.2H0z" fill="#fee4bf"/><path d="M0 52h1v1.2H0z" fill="#b1d49e"/><path d="M0 53h1v1.2H0z" fill="#cbe2bf"/><path d="M0 54h1v1.2H0z" fill="#d4e7ca"/><path d="M0 55h1v1.2H0z" fill="#fbfdfa"/><path d="M0 56h1v1.2H0z" fill="#98c67f"/><path d="M0 57h1v1.2H0z" fill="#ffe5c3"/><path d="M0 58h1v1.2H0z" fill="#ffe6c5"/><path d="M0 59h1v1.2H0z" fill="#deedd7"/><path d="M0 60h1v1.2H0z" fill="#bddaad"/><path d="M0 61h1v1.2H0z" fill="#c8e0bb"/><path d="M0 62h1v1.2H0z" fill="#dcebd3"/><path d="M0 63h1v1.2H0z" fill="#e9f3e4"/><path d="M0 64h1v1.2H0z" fill="#d4e7c9"/><path d="M0 65h1v1.2H0z" fill="#ddecd5"/><path d="M0 66h1v1.2H0z" fill="#ffecd3"/><path d="M0 67h1v1.2H0z" fill="#e5f1df"/><path d="M0 68h1v1.2H0z" fill="#fed69f"/><path d="M0 69h1v1.2H0z" fill="#fff0dd"/><path d="M0 70h1v1.2H0z" fill="#c4deb6"/><path d="M0 71h1v1.2H0z" fill="#f4f9f1"/><path d="M0 72h1v1.2H0z" fill="#feb857"/><path d="M0 73h1v1.2H0z" fill="#fda225"/><path d="M0 74h1v1.2H0z" fill="#9dc986"/><path d="M0 75h1v1.2H0z" fill="#a8ce93"/><path d="M0 76h1v1.2H0z" fill="#b1d49f"/><path d="M0 77h1v1.2H0z" fill="#fff1de"/><path d="M0 78h1v1.2H0z" fill="#c7e0ba"/><path d="M0 79h1v1.2H0z" fill="#fff8ee"/><path d="M0 80h1v1.2H0z" fill="#fffdfa"/><path d="M0 81h1v1.2H0z" fill="#dbebd2"/><path d="M0 82h1v1.2H0z" fill="#cbe2be"/><path d="M0 83h1v1.2H0z" fill="#eff6ec"/><path d="M0 84h1v1.2H0z" fill="#f0f7ed"/><path d="M0 85h1v1.2H0z" fill="#c5dfb7"/><path d="M0 86h1v1.2H0z" fill="#cfe4c3"/><path d="M0 87h1v1.2H0z" fill="#edf5e8"/><path d="M0 88h1v1.2H0z" fill="#fff5e8"/><path d="M0 89h1v1.2H0z" fill="#7ab55a"/><path d="M0 90h1v1.2H0z" fill="#c2ddb3"/><path d="M0 91h1v1.2H0z" fill="#fedeb2"/><path d="M0 92h1v1.2H0z" fill="#e8f2e3"/><path d="M0 93h1v1.2H0z" fill="#ffedd5"/><path d="M0 94h1v1.2H0z" fill="#93c379"/><path d="M0 95h1v1.2H0z" fill="#fed499"/><path d="M0 96h1v1.2H0z" fill="#eff6eb"/><path d="M0 97h1v1.2H0z" fill="#fdfefc"/><path d="M0 98h1v1.2H0z" fill="#8cbf70"/><path d="M0 99h1v1.2H0z" fill="#99c680"/><path d="M0 100h1v1.2H0z" fill="#8cbf70"/><path d="M0 101h1v1.2H0z" fill="#cbe2be"/><path d="M0 102h1v1.2H0z" fill="#b6d7a5"/><path d="M0 103h1v1.2H0z" fill="#eff6eb"/><path d="M0 104h1v1.2H0z" fill="#dbebd3"/><path d="M0 105h1v1.2H0z" fill="#f0f7ec"/><path d="M0 106h1v1.2H0z" fill="#bfdbaf"/><path d="M0 107h1v1.2H0z" fill="#bad9a9"/><path d="M0 108h1v1.2H0z" fill="#cde3c1"/><path d="M0 109h1v1.2H0z" fill="#bedbae"/><path d="M0 110h1v1.2H0z" fill="#e4f0de"/><path d="M0 111h1v1.2H0z" fill="#ffe9cb"/><path d="M0 112h1v1.2H0z" fill="#fff9f0"/><path d="M0 113h1v1.2H0z" fill="#fffcf8"/><path d="M0 114h1v1.2H0z" fill="#fff4e4"/><path d="M0 115h1v1.2H0z" fill="#fffbf5"/><path d="M0 116h1v1.2H0z" fill="#fee4c0"/><path d="M0 117h1v1.2H0z" fill="#aad096"/><path d="M0 118h1v1.2H0z" fill="#a8cf94"/><path d="M0 119h1v1.2H0z" fill="#cde3c1"/><path d="M0 120h1v1.2H0z" fill="#dcebd3"/><path d="M0 121h1v1.2H0z" fill="#bddaad"/><path d="M0 122h1v1.2H0z" fill="#8bbe6f"/><path d="M0 123h1v1.2H0z" fill="#c5dfb7"/><path d="M0 124h1v1.2H0z" fill="#cde3c0"/><path d="M0 125h1v1.2H0z" fill="#99c681"/><path d="M0 126h1v1.2H0z" fill="#cce2bf"/><path d="M0 127h1v1.2H0z" fill="#d5e7ca"/><path d="M0 128h1v1.2H0z" fill="#ffe9cb"/><path d="M0 129h1v1.2H0z" fill="#e8f2e3"/><path d="M0 130h1v1.2H0z" fill="#79b458"/><path d="M0 131h1v1.2H0z" fill="#fbfdfa"/><path d="M0 132h1v1.2H0z" fill="#bedbae"/><path d="M0 133h1v1.2H0z" fill="#c3deb5"/><path d="M0 134h1v1.2H0z" fill="#95c47b"/><path d="M0 135h1v1.2H0z" fill="#fff0dc"/><path d="M0 136h1v1.2H0z" fill="#e0eed9"/><path d="M0 137h1v1.2H0z" fill="#c8e0bb"/><path d="M0 138h1v1.2H0z" fill="#e5f1df"/><path d="M0 139h1v1.2H0z" fill="#e2efdb"/><path d="M0 140h1v1.2H0z" fill="#edf5e9"/><path d="M0 141h1v1.2H0z" fill="#dcecd4"/><path d="M0 142h1v1.2H0z" fill="#6aac46"/><path d="M0 143h1v1.2H0z" fill="#ecf4e7"/><path d="M0 144h1v1.2H0z" fill="#ebf4e6"/><path d="M0 145h1v1.2H0z" fill="#cbe2bf"/><path d="M0 146h1v1.2H0z" fill="#eaf3e5"/><path d="M0 147h1v1.2H0z" fill="#fffdfa"/><path d="M0 148h1v1.2H0z" fill="#6aac46"/><path d="M0 149h1v1.2H0z" fill="#a7ce92"/><path d="M0 150h1v1.2H0z" fill="#87bc69"/><path d="M0 151h1v1.2H0z" fill="#80b861"/><path d="M0 152h1v1.2H0z" fill="#8abe6e"/><path d="M0 153h1v1.2H0z" fill="#8bbe6f"/><path d="M0 154h1v1.2H0z" fill="#76b355"/><path d="M0 155h1v1.2H0z" fill="#add199"/><path d="M0 156h1v1.2H0z" fill="#90c175"/><path d="M0 157h1v1.2H0z" fill="#99c680"/><path d="M0 158h1v1.2H0z" fill="#72b04f"/><path d="M0 159h1v1.2H0z" fill="#c5dfb7"/><path d="M0 160h1v1.2H0z" fill="#bad9aa"/><path d="M0 161h1v1.2H0z" fill="#aed29b"/></svg><svg x="203.31" y="57.80" width="24.67" height="319.20" viewBox="0 0 1 162" preserveAspectRatio="none" shape-rendering="crispEdges"><path d="M0 0h1v1.2H0z" fill="#fda833"/><path d="M0 1h1v1.2H0z" fill="#fd9608"/><path d="M0 2h1v1.2H0z" fill="#fd9608"/><path d="M0 3h1v1.2H0z" fill="#fda730"/><path d="M0 4h1v1.2H0z" fill="#feb147"/><path d="M0 5h1v1.2H0z" fill="#fdaa36"/><path d="M0 6h1v1.2H0z" fill="#fd9608"/><path d="M0 7h1v1.2H0z" fill="#fd9608"/><path d="M0 8h1v1.2H0z" fill="#feb654"/><path d="M0 9h1v1.2H0z" fill="#fec577"/><path d="M0 10h1v1.2H0z" fill="#fec67a"/><path d="M0 11h1v1.2H0z" fill="#fecd88"/><path d="M0 12h1v1.2H0z" fill="#fed194"/><path d="M0 13h1v1.2H0z" fill="#fedcac"/><path d="M0 14h1v1.2H0z" fill="#fed9a5"/><path d="M0 15h1v1.2H0z" fill="#feb046"/><path d="M0 16h1v1.2H0z" fill="#fd970b"/><path d="M0 17h1v1.2H0z" fill="#fd9608"/><path d="M0 18h1v1.2H0z" fill="#fec87e"/><path d="M0 19h1v1.2H0z" fill="#fecc87"/><path d="M0 20h1v1.2H0z" fill="#fda935"/><path d="M0 21h1v1.2H0z" fill="#fec578"/><path d="M0 22h1v1.2H0z" fill="#fed192"/><path d="M0 23h1v1.2H0z" fill="#feb148"/><path d="M0 24h1v1.2H0z" fill="#fed59c"/><path d="M0 25h1v1.2H0z" fill="#fedaa9"/><path d="M0 26h1v1.2H0z" fill="#fd9608"/><path d="M0 27h1v1.2H0z" fill="#fee1b9"/><path d="M0 28h1v1.2H0z" fill="#fda832"/><path d="M0 29h1v1.2H0z" fill="#fec980"/><path d="M0 30h1v1.2H0z" fill="#fec576"/><path d="M0 31h1v1.2H0z" fill="#febb5e"/><path d="M0 32h1v1.2H0z" fill="#fecb85"/><path d="M0 33h1v1.2H0z" fill="#fd9608"/><path d="M0 34h1v1.2H0z" fill="#fec475"/><path d="M0 35h1v1.2H0z" fill="#fed090"/><path d="M0 36h1v1.2H0z" fill="#feb44f"/><path d="M0 37h1v1.2H0z" fill="#fecb85"/><path d="M0 38h1v1.2H0z" fill="#fee2ba"/><path d="M0 39h1v1.2H0z" fill="#fedcac"/><path d="M0 40h1v1.2H0z" fill="#feba5d"/><path d="M0 41h1v1.2H0z" fill="#fdaf43"/><path d="M0 42h1v1.2H0z" fill="#ffe9ca"/><path d="M0 43h1v1.2H0z" fill="#fed7a2"/><path d="M0 44h1v1.2H0z" fill="#febd63"/><path d="M0 45h1v1.2H0z" fill="#febe66"/><path d="M0 46h1v1.2H0z" fill="#ffe8c8"/><path d="M0 47h1v1.2H0z" fill="#fee3be"/><path d="M0 48h1v1.2H0z" fill="#fee4c0"/><path d="M0 49h1v1.2H0z" fill="#e3f0dd"/><path d="M0 50h1v1.2H0z" fill="#cee4c3"/><path d="M0 51h1v1.2H0z" fill="#d3e7c9"/><path d="M0 52h1v1.2H0z" fill="#fed499"/><path d="M0 53h1v1.2H0z" fill="#f8fbf6"/><path d="M0 54h1v1.2H0z" fill="#fedaa8"/><path d="M0 55h1v1.2H0z" fill="#9bc782"/><path d="M0 56h1v1.2H0z" fill="#fedbaa"/><path d="M0 57h1v1.2H0z" fill="#ffe7c6"/><path d="M0 58h1v1.2H0z" fill="#febe66"/><path d="M0 59h1v1.2H0z" fill="#fed295"/><path d="M0 60h1v1.2H0z" fill="#fec77c"/><path d="M0 61h1v1.2H0z" fill="#ffe6c4"/><path d="M0 62h1v1.2H0z" fill="#fee2ba"/><path d="M0 63h1v1.2H0z" fill="#f7faf4"/><path d="M0 64h1v1.2H0z" fill="#febc61"/><path d="M0 65h1v1.2H0z" fill="#fff9f2"/><path d="M0 66h1v1.2H0z" fill="#f5faf3"/><path d="M0 67h1v1.2H0z" fill="#fffcf9"/><path d="M0 68h1v1.2H0z" fill="#fff5e7"/><path d="M0 69h1v1.2H0z" fill="#e4f0dd"/><path d="M0 70h1v1.2H0z" fill="#fee2bb"/><path d="M0 71h1v1.2H0z" fill="#fed193"/><path d="M0 72h1v1.2H0z" fill="#ffe8c9"/><path d="M0 73h1v1.2H0z" fill="#ffedd5"/><path d="M0 74h1v1.2H0z" fill="#e9f3e4"/><path d="M0 75h1v1.2H0z" fill="#c8e0bb"/><path d="M0 76h1v1.2H0z" fill="#e1eed9"/><path d="M0 77h1v1.2H0z" fill="#e3f0dd"/><path d="M0 78h1v1.2H0z" fill="#e7f2e2"/><path d="M0 79h1v1.2H0z" fill="#d1e5c6"/><path d="M0 80h1v1.2H0z" fill="#d3e6c8"/><path d="M0 81h1v1.2H0z" fill="#eef6ea"/><path d="M0 82h1v1.2H0z" fill="#f3f8f0"/><path d="M0 83h1v1.2H0z" fill="#fedfb3"/><path d="M0 84h1v1.2H0z" fill="#fed8a3"/><path d="M0 85h1v1.2H0z" fill="#fffaf3"/><path d="M0 86h1v1.2H0z" fill="#f8fbf6"/><path d="M0 87h1v1.2H0z" fill="#fffefd"/><path d="M0 88h1v1.2H0z" fill="#fff5e7"/><path d="M0 89h1v1.2H0z" fill="#febb5f"/><path d="M0 90h1v1.2H0z" fill="#f8fbf7"/><path d="M0 91h1v1.2H0z" fill="#e7f2e1"/><path d="M0 92h1v1.2H0z" fill="#fffbf6"/><path d="M0 93h1v1.2H0z" fill="#fffbf5"/><path d="M0 94h1v1.2H0z" fill="#fff6eb"/><path d="M0 95h1v1.2H0z" fill="#d5e8cb"/><path d="M0 96h1v1.2H0z" fill="#d2e6c8"/><path d="M0 97h1v1.2H0z" fill="#fffbf5"/><path d="M0 98h1v1.2H0z" fill="#d6e8cc"/><path d="M0 99h1v1.2H0z" fill="#fafcf9"/><path d="M0 100h1v1.2H0z" fill="#e9f3e4"/><path d="M0 101h1v1.2H0z" fill="#daead1"/><path d="M0 102h1v1.2H0z" fill="#cde3c1"/><path d="M0 103h1v1.2H0z" fill="#92c277"/><path d="M0 104h1v1.2H0z" fill="#8ec073"/><path d="M0 105h1v1.2H0z" fill="#b9d8a8"/><path d="M0 106h1v1.2H0z" fill="#ebf4e6"/><path d="M0 107h1v1.2H0z" fill="#ffeed8"/><path d="M0 108h1v1.2H0z" fill="#fff6e9"/><path d="M0 109h1v1.2H0z" fill="#bedbaf"/><path d="M0 110h1v1.2H0z" fill="#d0e5c4"/><path d="M0 111h1v1.2H0z" fill="#daebd2"/><path d="M0 112h1v1.2H0z" fill="#ffebcf"/><path d="M0 113h1v1.2H0z" fill="#cee3c2"/><path d="M0 114h1v1.2H0z" fill="#ebf4e6"/><path d="M0 115h1v1.2H0z" fill="#fff4e4"/><path d="M0 116h1v1.2H0z" fill="#90c176"/><path d="M0 117h1v1.2H0z" fill="#71b04f"/><path d="M0 118h1v1.2H0z" fill="#93c379"/><path d="M0 119h1v1.2H0z" fill="#b9d8a9"/><path d="M0 120h1v1.2H0z" fill="#e2efdb"/><path d="M0 121h1v1.2H0z" fill="#abd096"/><path d="M0 122h1v1.2H0z" fill="#edf5e9"/><path d="M0 123h1v1.2H0z" fill="#e0eed8"/><path d="M0 124h1v1.2H0z" fill="#cbe2bf"/><path d="M0 125h1v1.2H0z" fill="#d7e9cd"/><path d="M0 126h1v1.2H0z" fill="#81b962"/><path d="M0 127h1v1.2H0z" fill="#80b862"/><path d="M0 128h1v1.2H0z" fill="#a5cd8f"/><path d="M0 129h1v1.2H0z" fill="#95c47c"/><path d="M0 130h1v1.2H0z" fill="#d5e8cb"/><path d="M0 131h1v1.2H0z" fill="#eef5e9"/><path d="M0 132h1v1.2H0z" fill="#d5e7ca"/><path d="M0 133h1v1.2H0z" fill="#acd198"/><path d="M0 134h1v1.2H0z" fill="#9ac781"/><path d="M0 135h1v1.2H0z" fill="#87bc6a"/><path d="M0 136h1v1.2H0z" fill="#75b254"/><path d="M0 137h1v1.2H0z" fill="#dcecd4"/><path d="M0 138h1v1.2H0z" fill="#86bc69"/><path d="M0 139h1v1.2H0z" fill="#6aac46"/><path d="M0 140h1v1.2H0z" fill="#b8d7a6"/><path d="M0 141h1v1.2H0z" fill="#acd198"/><path d="M0 142h1v1.2H0z" fill="#fcfdfb"/><path d="M0 143h1v1.2H0z" fill="#b1d39e"/><path d="M0 144h1v1.2H0z" fill="#a4cc8e"/><path d="M0 145h1v1.2H0z" fill="#9dc885"/><path d="M0 146h1v1.2H0z" fill="#90c176"/><path d="M0 147h1v1.2H0z" fill="#97c57e"/><path d="M0 148h1v1.2H0z" fill="#c8e0ba"/><path d="M0 149h1v1.2H0z" fill="#deedd6"/><path d="M0 150h1v1.2H0z" fill="#6aac46"/><path d="M0 151h1v1.2H0z" fill="#b8d8a7"/><path d="M0 152h1v1.2H0z" fill="#97c57e"/><path d="M0 153h1v1.2H0z" fill="#bcd9ab"/><path d="M0 154h1v1.2H0z" fill="#add29a"/><path d="M0 155h1v1.2H0z" fill="#b9d8a8"/><path d="M0 156h1v1.2H0z" fill="#cce2bf"/><path d="M0 157h1v1.2H0z" fill="#fafcf8"/><path d="M0 158h1v1.2H0z" fill="#b6d7a5"/><path d="M0 159h1v1.2H0z" fill="#75b254"/><path d="M0 160h1v1.2H0z" fill="#8fc174"/><path d="M0 161h1v1.2H0z" fill="#83ba65"/></svg><svg x="227.73" y="57.80" width="24.67" height="319.20" viewBox="0 0 1 162" preserveAspectRatio="none" shape-rendering="crispEdges"><path d="M0 0h1v1.2H0z" fill="#fdaa36"/><path d="M0 1h1v1.2H0z" fill="#fd9608"/><path d="M0 2h1v1.2H0z" fill="#fda62d"/><path d="M0 3h1v1.2H0z" fill="#fda224"/><path d="M0 4h1v1.2H0z" fill="#fda831"/><path d="M0 5h1v1.2H0z" fill="#fda225"/><path d="M0 6h1v1.2H0z" fill="#fda52b"/><path d="M0 7h1v1.2H0z" fill="#fda935"/><path d="M0 8h1v1.2H0z" fill="#fda01f"/><path d="M0 9h1v1.2H0z" fill="#fd9608"/><path d="M0 10h1v1.2H0z" fill="#fd9608"/><path d="M0 11h1v1.2H0z" fill="#fd9b13"/><path d="M0 12h1v1.2H0z" fill="#feb858"/><path d="M0 13h1v1.2H0z" fill="#fd9609"/><path d="M0 14h1v1.2H0z" fill="#fda62e"/><path d="M0 15h1v1.2H0z" fill="#fda52c"/><path d="M0 16h1v1.2H0z" fill="#fec16e"/><path d="M0 17h1v1.2H0z" fill="#fed194"/><path d="M0 18h1v1.2H0z" fill="#fed69f"/><path d="M0 19h1v1.2H0z" fill="#ffeed6"/><path d="M0 20h1v1.2H0z" fill="#fdad3e"/><path d="M0 21h1v1.2H0z" fill="#fd9608"/><path d="M0 22h1v1.2H0z" fill="#fdab39"/><path d="M0 23h1v1.2H0z" fill="#febf69"/><path d="M0 24h1v1.2H0z" fill="#fd9f1d"/><path d="M0 25h1v1.2H0z" fill="#fd9a10"/><path d="M0 26h1v1.2H0z" fill="#fecf8f"/><path d="M0 27h1v1.2H0z" fill="#fec87f"/><path d="M0 28h1v1.2H0z" fill="#fedfb4"/><path d="M0 29h1v1.2H0z" fill="#fedbaa"/><path d="M0 30h1v1.2H0z" fill="#feb858"/><path d="M0 31h1v1.2H0z" fill="#febf69"/><path d="M0 32h1v1.2H0z" fill="#fecc86"/><path d="M0 33h1v1.2H0z" fill="#fd9608"/><path d="M0 34h1v1.2H0z" fill="#fed69e"/><path d="M0 35h1v1.2H0z" fill="#feb95b"/><path d="M0 36h1v1.2H0z" fill="#fed59c"/><path d="M0 37h1v1.2H0z" fill="#fff6ea"/><path d="M0 38h1v1.2H0z" fill="#fedaa8"/><path d="M0 39h1v1.2H0z" fill="#fff1df"/><path d="M0 40h1v1.2H0z" fill="#fec87e"/><path d="M0 41h1v1.2H0z" fill="#f2f8ef"/><path d="M0 42h1v1.2H0z" fill="#ffecd2"/><path d="M0 43h1v1.2H0z" fill="#f0f7ed"/><path d="M0 44h1v1.2H0z" fill="#fd9608"/><path d="M0 45h1v1.2H0z" fill="#fed7a1"/><path d="M0 46h1v1.2H0z" fill="#ffe8c9"/><path d="M0 47h1v1.2H0z" fill="#fedaa7"/><path d="M0 48h1v1.2H0z" fill="#fed69f"/><path d="M0 49h1v1.2H0z" fill="#fff2e1"/><path d="M0 50h1v1.2H0z" fill="#fee2ba"/><path d="M0 51h1v1.2H0z" fill="#fdab39"/><path d="M0 52h1v1.2H0z" fill="#fed396"/><path d="M0 53h1v1.2H0z" fill="#fece8d"/><path d="M0 54h1v1.2H0z" fill="#fff5e8"/><path d="M0 55h1v1.2H0z" fill="#f8fbf6"/><path d="M0 56h1v1.2H0z" fill="#e9f3e4"/><path d="M0 57h1v1.2H0z" fill="#febf68"/><path d="M0 58h1v1.2H0z" fill="#fec678"/><path d="M0 59h1v1.2H0z" fill="#fffcf8"/><path d="M0 60h1v1.2H0z" fill="#ffeed8"/><path d="M0 61h1v1.2H0z" fill="#fec474"/><path d="M0 62h1v1.2H0z" fill="#ffe9cb"/><path d="M0 63h1v1.2H0z" fill="#ffedd4"/><path d="M0 64h1v1.2H0z" fill="#feb858"/><path d="M0 65h1v1.2H0z" fill="#feb44e"/><path d="M0 66h1v1.2H0z" fill="#feb95a"/><path d="M0 67h1v1.2H0z" fill="#fec16e"/><path d="M0 68h1v1.2H0z" fill="#fed9a5"/><path d="M0 69h1v1.2H0z" fill="#feca83"/><path d="M0 70h1v1.2H0z" fill="#fec475"/><path d="M0 71h1v1.2H0z" fill="#d3e7c9"/><path d="M0 72h1v1.2H0z" fill="#fec06c"/><path d="M0 73h1v1.2H0z" fill="#97c57e"/><path d="M0 74h1v1.2H0z" fill="#90c175"/><path d="M0 75h1v1.2H0z" fill="#8cbf71"/><path d="M0 76h1v1.2H0z" fill="#f5f9f3"/><path d="M0 77h1v1.2H0z" fill="#fedcac"/><path d="M0 78h1v1.2H0z" fill="#fdaf42"/><path d="M0 79h1v1.2H0z" fill="#feb654"/><path d="M0 80h1v1.2H0z" fill="#feb44f"/><path d="M0 81h1v1.2H0z" fill="#a2cb8c"/><path d="M0 82h1v1.2H0z" fill="#8abe6e"/><path d="M0 83h1v1.2H0z" fill="#fee5c1"/><path d="M0 84h1v1.2H0z" fill="#ffebcf"/><path d="M0 85h1v1.2H0z" fill="#eff6eb"/><path d="M0 86h1v1.2H0z" fill="#e9f3e4"/><path d="M0 87h1v1.2H0z" fill="#fff1de"/><path d="M0 88h1v1.2H0z" fill="#fee2bb"/><path d="M0 89h1v1.2H0z" fill="#fff9f0"/><path d="M0 90h1v1.2H0z" fill="#f9fcf8"/><path d="M0 91h1v1.2H0z" fill="#fee0b7"/><path d="M0 92h1v1.2H0z" fill="#f6faf4"/><path d="M0 93h1v1.2H0z" fill="#daead1"/><path d="M0 94h1v1.2H0z" fill="#fee4bf"/><path d="M0 95h1v1.2H0z" fill="#feddae"/><path d="M0 96h1v1.2H0z" fill="#deedd6"/><path d="M0 97h1v1.2H0z" fill="#fec475"/><path d="M0 98h1v1.2H0z" fill="#fefffe"/><path d="M0 99h1v1.2H0z" fill="#febc60"/><path d="M0 100h1v1.2H0z" fill="#fd9e1b"/><path d="M0 101h1v1.2H0z" fill="#eff6eb"/><path d="M0 102h1v1.2H0z" fill="#fee3bc"/><path d="M0 103h1v1.2H0z" fill="#fffefd"/><path d="M0 104h1v1.2H0z" fill="#fec679"/><path d="M0 105h1v1.2H0z" fill="#bddaad"/><path d="M0 106h1v1.2H0z" fill="#95c47c"/><path d="M0 107h1v1.2H0z" fill="#add199"/><path d="M0 108h1v1.2H0z" fill="#fee4bf"/><path d="M0 109h1v1.2H0z" fill="#fcfdfb"/><path d="M0 110h1v1.2H0z" fill="#cfe4c4"/><path d="M0 111h1v1.2H0z" fill="#dcebd3"/><path d="M0 112h1v1.2H0z" fill="#ddecd4"/><path d="M0 113h1v1.2H0z" fill="#79b559"/><path d="M0 114h1v1.2H0z" fill="#e5f0df"/><path d="M0 115h1v1.2H0z" fill="#d6e8cc"/><path d="M0 116h1v1.2H0z" fill="#99c680"/><path d="M0 117h1v1.2H0z" fill="#cbe2be"/><path d="M0 118h1v1.2H0z" fill="#d1e5c6"/><path d="M0 119h1v1.2H0z" fill="#eff6eb"/><path d="M0 120h1v1.2H0z" fill="#c6dfb9"/><path d="M0 121h1v1.2H0z" fill="#fff7ed"/><path d="M0 122h1v1.2H0z" fill="#bedbaf"/><path d="M0 123h1v1.2H0z" fill="#ecf5e8"/><path d="M0 124h1v1.2H0z" fill="#afd39c"/><path d="M0 125h1v1.2H0z" fill="#fff1de"/><path d="M0 126h1v1.2H0z" fill="#fff1df"/><path d="M0 127h1v1.2H0z" fill="#a0ca89"/><path d="M0 128h1v1.2H0z" fill="#6aac46"/><path d="M0 129h1v1.2H0z" fill="#81b963"/><path d="M0 130h1v1.2H0z" fill="#ebf4e6"/><path d="M0 131h1v1.2H0z" fill="#e1eed9"/><path d="M0 132h1v1.2H0z" fill="#e1efda"/><path d="M0 133h1v1.2H0z" fill="#e0edd8"/><path d="M0 134h1v1.2H0z" fill="#e4f0dd"/><path d="M0 135h1v1.2H0z" fill="#e6f1e0"/><path d="M0 136h1v1.2H0z" fill="#c6dfb8"/><path d="M0 137h1v1.2H0z" fill="#79b559"/><path d="M0 138h1v1.2H0z" fill="#d8e9ce"/><path d="M0 139h1v1.2H0z" fill="#b8d7a7"/><path d="M0 140h1v1.2H0z" fill="#6aac46"/><path d="M0 141h1v1.2H0z" fill="#cee4c2"/><path d="M0 142h1v1.2H0z" fill="#b7d7a6"/><path d="M0 143h1v1.2H0z" fill="#cce3c0"/><path d="M0 144h1v1.2H0z" fill="#7fb860"/><path d="M0 145h1v1.2H0z" fill="#6cad49"/><path d="M0 146h1v1.2H0z" fill="#d8e9ce"/><path d="M0 147h1v1.2H0z" fill="#bddaad"/><path d="M0 148h1v1.2H0z" fill="#a2cb8c"/><path d="M0 149h1v1.2H0z" fill="#b3d5a1"/><path d="M0 150h1v1.2H0z" fill="#9ec987"/><path d="M0 151h1v1.2H0z" fill="#a4cc8e"/><path d="M0 152h1v1.2H0z" fill="#c6dfb9"/><path d="M0 153h1v1.2H0z" fill="#cbe2bf"/><path d="M0 154h1v1.2H0z" fill="#92c278"/><path d="M0 155h1v1.2H0z" fill="#98c67f"/><path d="M0 156h1v1.2H0z" fill="#a9cf94"/><path d="M0 157h1v1.2H0z" fill="#6aac46"/><path d="M0 158h1v1.2H0z" fill="#98c67f"/><path d="M0 159h1v1.2H0z" fill="#9ac782"/><path d="M0 160h1v1.2H0z" fill="#e6f1df"/><path d="M0 161h1v1.2H0z" fill="#deedd6"/></svg><svg x="252.16" y="57.80" width="24.67" height="319.20" viewBox="0 0 1 162" preserveAspectRatio="none" shape-rendering="crispEdges"><path d="M0 0h1v1.2H0z" fill="#feb24a"/><path d="M0 1h1v1.2H0z" fill="#fdaa37"/><path d="M0 2h1v1.2H0z" fill="#feb95a"/><path d="M0 3h1v1.2H0z" fill="#fd990e"/><path d="M0 4h1v1.2H0z" fill="#fdac3b"/><path d="M0 5h1v1.2H0z" fill="#feb757"/><path d="M0 6h1v1.2H0z" fill="#fd9608"/><path d="M0 7h1v1.2H0z" fill="#fd9608"/><path d="M0 8h1v1.2H0z" fill="#fd9608"/><path d="M0 9h1v1.2H0z" fill="#fda224"/><path d="M0 10h1v1.2H0z" fill="#fdac3c"/><path d="M0 11h1v1.2H0z" fill="#fd9b14"/><path d="M0 12h1v1.2H0z" fill="#feb756"/><path d="M0 13h1v1.2H0z" fill="#feba5d"/><path d="M0 14h1v1.2H0z" fill="#feb95a"/><path d="M0 15h1v1.2H0z" fill="#fd9608"/><path d="M0 16h1v1.2H0z" fill="#feb552"/><path d="M0 17h1v1.2H0z" fill="#fd9608"/><path d="M0 18h1v1.2H0z" fill="#fd9d19"/><path d="M0 19h1v1.2H0z" fill="#fda934"/><path d="M0 20h1v1.2H0z" fill="#feb24a"/><path d="M0 21h1v1.2H0z" fill="#fdb045"/><path d="M0 22h1v1.2H0z" fill="#fd9d18"/><path d="M0 23h1v1.2H0z" fill="#fec371"/><path d="M0 24h1v1.2H0z" fill="#fecc88"/><path d="M0 25h1v1.2H0z" fill="#fdac3b"/><path d="M0 26h1v1.2H0z" fill="#fd9b13"/><path d="M0 27h1v1.2H0z" fill="#fecb85"/><path d="M0 28h1v1.2H0z" fill="#fec577"/><path d="M0 29h1v1.2H0z" fill="#fec577"/><path d="M0 30h1v1.2H0z" fill="#febc61"/><path d="M0 31h1v1.2H0z" fill="#feb34d"/><path d="M0 32h1v1.2H0z" fill="#fff2e1"/><path d="M0 33h1v1.2H0z" fill="#fd9608"/><path d="M0 34h1v1.2H0z" fill="#fec372"/><path d="M0 35h1v1.2H0z" fill="#fed59d"/><path d="M0 36h1v1.2H0z" fill="#fedaa9"/><path d="M0 37h1v1.2H0z" fill="#fec372"/><path d="M0 38h1v1.2H0z" fill="#fdaa38"/><path d="M0 39h1v1.2H0z" fill="#fdab39"/><path d="M0 40h1v1.2H0z" fill="#febe66"/><path d="M0 41h1v1.2H0z" fill="#fd9f1e"/><path d="M0 42h1v1.2H0z" fill="#fecf8f"/><path d="M0 43h1v1.2H0z" fill="#fecc88"/><path d="M0 44h1v1.2H0z" fill="#fec87d"/><path d="M0 45h1v1.2H0z" fill="#fdaf43"/><path d="M0 46h1v1.2H0z" fill="#fedba9"/><path d="M0 47h1v1.2H0z" fill="#f2f8ef"/><path d="M0 48h1v1.2H0z" fill="#fffdfb"/><path d="M0 49h1v1.2H0z" fill="#ffecd1"/><path d="M0 50h1v1.2H0z" fill="#ffedd6"/><path d="M0 51h1v1.2H0z" fill="#fee3be"/><path d="M0 52h1v1.2H0z" fill="#fffefd"/><path d="M0 53h1v1.2H0z" fill="#ffecd2"/><path d="M0 54h1v1.2H0z" fill="#fecb84"/><path d="M0 55h1v1.2H0z" fill="#e0eed8"/><path d="M0 56h1v1.2H0z" fill="#fff0db"/><path d="M0 57h1v1.2H0z" fill="#fed398"/><path d="M0 58h1v1.2H0z" fill="#fffaf3"/><path d="M0 59h1v1.2H0z" fill="#fff7ec"/><path d="M0 60h1v1.2H0z" fill="#fed69e"/><path d="M0 61h1v1.2H0z" fill="#fda225"/><path d="M0 62h1v1.2H0z" fill="#fff3e2"/><path d="M0 63h1v1.2H0z" fill="#fecb85"/><path d="M0 64h1v1.2H0z" fill="#ffe9cb"/><path d="M0 65h1v1.2H0z" fill="#fed9a5"/><path d="M0 66h1v1.2H0z" fill="#fec06a"/><path d="M0 67h1v1.2H0z" fill="#ffe8c8"/><path d="M0 68h1v1.2H0z" fill="#e7f2e2"/><path d="M0 69h1v1.2H0z" fill="#f6faf3"/><path d="M0 70h1v1.2H0z" fill="#d5e8cb"/><path d="M0 71h1v1.2H0z" fill="#add199"/><path d="M0 72h1v1.2H0z" fill="#ffe6c4"/><path d="M0 73h1v1.2H0z" fill="#f8fbf6"/><path d="M0 74h1v1.2H0z" fill="#f7fbf5"/><path d="M0 75h1v1.2H0z" fill="#fec67a"/><path d="M0 76h1v1.2H0z" fill="#fdb044"/><path d="M0 77h1v1.2H0z" fill="#e2efdb"/><path d="M0 78h1v1.2H0z" fill="#fee4bf"/><path d="M0 79h1v1.2H0z" fill="#ffe6c4"/><path d="M0 80h1v1.2H0z" fill="#d0e5c5"/><path d="M0 81h1v1.2H0z" fill="#7bb65c"/><path d="M0 82h1v1.2H0z" fill="#fffcf8"/><path d="M0 83h1v1.2H0z" fill="#fdaf43"/><path d="M0 84h1v1.2H0z" fill="#f6faf4"/><path d="M0 85h1v1.2H0z" fill="#ddecd5"/><path d="M0 86h1v1.2H0z" fill="#b8d8a7"/><path d="M0 87h1v1.2H0z" fill="#b4d5a1"/><path d="M0 88h1v1.2H0z" fill="#e9f3e4"/><path d="M0 89h1v1.2H0z" fill="#d2e6c7"/><path d="M0 90h1v1.2H0z" fill="#fffbf5"/><path d="M0 91h1v1.2H0z" fill="#fee4c0"/><path d="M0 92h1v1.2H0z" fill="#fdfefc"/><path d="M0 93h1v1.2H0z" fill="#ffe5c3"/><path d="M0 94h1v1.2H0z" fill="#fedfb4"/><path d="M0 95h1v1.2H0z" fill="#95c47b"/><path d="M0 96h1v1.2H0z" fill="#f7fbf6"/><path d="M0 97h1v1.2H0z" fill="#ffeacd"/><path d="M0 98h1v1.2H0z" fill="#fee2ba"/><path d="M0 99h1v1.2H0z" fill="#edf5e9"/><path d="M0 100h1v1.2H0z" fill="#f4f9f1"/><path d="M0 101h1v1.2H0z" fill="#a7ce92"/><path d="M0 102h1v1.2H0z" fill="#ecf4e7"/><path d="M0 103h1v1.2H0z" fill="#dfedd7"/><path d="M0 104h1v1.2H0z" fill="#add29a"/><path d="M0 105h1v1.2H0z" fill="#e0eed9"/><path d="M0 106h1v1.2H0z" fill="#b7d7a6"/><path d="M0 107h1v1.2H0z" fill="#bddaad"/><path d="M0 108h1v1.2H0z" fill="#c2ddb3"/><path d="M0 109h1v1.2H0z" fill="#87bc6a"/><path d="M0 110h1v1.2H0z" fill="#89bd6c"/><path d="M0 111h1v1.2H0z" fill="#feddae"/><path d="M0 112h1v1.2H0z" fill="#d9ead0"/><path d="M0 113h1v1.2H0z" fill="#e1eeda"/><path d="M0 114h1v1.2H0z" fill="#cee3c2"/><path d="M0 115h1v1.2H0z" fill="#daebd1"/><path d="M0 116h1v1.2H0z" fill="#e8f2e3"/><path d="M0 117h1v1.2H0z" fill="#c7e0ba"/><path d="M0 118h1v1.2H0z" fill="#cbe2be"/><path d="M0 119h1v1.2H0z" fill="#afd29b"/><path d="M0 120h1v1.2H0z" fill="#dbebd2"/><path d="M0 121h1v1.2H0z" fill="#ddecd4"/><path d="M0 122h1v1.2H0z" fill="#bedbae"/><path d="M0 123h1v1.2H0z" fill="#b6d6a4"/><path d="M0 124h1v1.2H0z" fill="#fee2ba"/><path d="M0 125h1v1.2H0z" fill="#fecf8f"/><path d="M0 126h1v1.2H0z" fill="#a2cb8b"/><path d="M0 127h1v1.2H0z" fill="#6aac46"/><path d="M0 128h1v1.2H0z" fill="#a0ca89"/><path d="M0 129h1v1.2H0z" fill="#a2cb8b"/><path d="M0 130h1v1.2H0z" fill="#a8ce93"/><path d="M0 131h1v1.2H0z" fill="#c7e0b9"/><path d="M0 132h1v1.2H0z" fill="#6aac46"/><path d="M0 133h1v1.2H0z" fill="#a3cc8d"/><path d="M0 134h1v1.2H0z" fill="#bddaad"/><path d="M0 135h1v1.2H0z" fill="#c6dfb8"/><path d="M0 136h1v1.2H0z" fill="#e0eed8"/><path d="M0 137h1v1.2H0z" fill="#e0edd8"/><path d="M0 138h1v1.2H0z" fill="#90c175"/><path d="M0 139h1v1.2H0z" fill="#c7e0b9"/><path d="M0 140h1v1.2H0z" fill="#cae2be"/><path d="M0 141h1v1.2H0z" fill="#93c379"/><path d="M0 142h1v1.2H0z" fill="#8dc072"/><path d="M0 143h1v1.2H0z" fill="#c1ddb2"/><path d="M0 144h1v1.2H0z" fill="#97c57e"/><path d="M0 145h1v1.2H0z" fill="#7fb860"/><path d="M0 146h1v1.2H0z" fill="#94c37a"/><path d="M0 147h1v1.2H0z" fill="#8abe6d"/><path d="M0 148h1v1.2H0z" fill="#88bd6c"/><path d="M0 149h1v1.2H0z" fill="#96c47d"/><path d="M0 150h1v1.2H0z" fill="#6aac46"/><path d="M0 151h1v1.2H0z" fill="#a0ca89"/><path d="M0 152h1v1.2H0z" fill="#b5d6a3"/><path d="M0 153h1v1.2H0z" fill="#9dc885"/><path d="M0 154h1v1.2H0z" fill="#87bc6a"/><path d="M0 155h1v1.2H0z" fill="#9ac781"/><path d="M0 156h1v1.2H0z" fill="#6aac46"/><path d="M0 157h1v1.2H0z" fill="#95c47b"/><path d="M0 158h1v1.2H0z" fill="#6aac46"/><path d="M0 159h1v1.2H0z" fill="#98c57f"/><path d="M0 160h1v1.2H0z" fill="#aed29a"/><path d="M0 161h1v1.2H0z" fill="#a6cd90"/></svg><svg x="276.58" y="57.80" width="24.67" height="319.20" viewBox="0 0 1 162" preserveAspectRatio="none" shape-rendering="crispEdges"><path d="M0 0h1v1.2H0z" fill="#fd9608"/><path d="M0 1h1v1.2H0z" fill="#fd9608"/><path d="M0 2h1v1.2H0z" fill="#fd9608"/><path d="M0 3h1v1.2H0z" fill="#fd9608"/><path d="M0 4h1v1.2H0z" fill="#feb147"/><path d="M0 5h1v1.2H0z" fill="#fd9608"/><path d="M0 6h1v1.2H0z" fill="#fd9608"/><path d="M0 7h1v1.2H0z" fill="#fd9608"/><path d="M0 8h1v1.2H0z" fill="#fdad3f"/><path d="M0 9h1v1.2H0z" fill="#fdaf42"/><path d="M0 10h1v1.2H0z" fill="#fdb045"/><path d="M0 11h1v1.2H0z" fill="#fd9608"/><path d="M0 12h1v1.2H0z" fill="#fdad3f"/><path d="M0 13h1v1.2H0z" fill="#fdac3c"/><path d="M0 14h1v1.2H0z" fill="#feb046"/><path d="M0 15h1v1.2H0z" fill="#feb147"/><path d="M0 16h1v1.2H0z" fill="#fd9608"/><path d="M0 17h1v1.2H0z" fill="#feb34c"/><path d="M0 18h1v1.2H0z" fill="#fd970b"/><path d="M0 19h1v1.2H0z" fill="#fda934"/><path d="M0 20h1v1.2H0z" fill="#feb249"/><path d="M0 21h1v1.2H0z" fill="#fec474"/><path d="M0 22h1v1.2H0z" fill="#fee0b6"/><path d="M0 23h1v1.2H0z" fill="#fd9608"/><path d="M0 24h1v1.2H0z" fill="#feb95b"/><path d="M0 25h1v1.2H0z" fill="#feb44f"/><path d="M0 26h1v1.2H0z" fill="#fec06b"/><path d="M0 27h1v1.2H0z" fill="#feba5d"/><path d="M0 28h1v1.2H0z" fill="#feb654"/><path d="M0 29h1v1.2H0z" fill="#fda62d"/><path d="M0 30h1v1.2H0z" fill="#fec981"/><path d="M0 31h1v1.2H0z" fill="#fdaa37"/><path d="M0 32h1v1.2H0z" fill="#fd9608"/><path d="M0 33h1v1.2H0z" fill="#fed296"/><path d="M0 34h1v1.2H0z" fill="#fd9608"/><path d="M0 35h1v1.2H0z" fill="#fd9e1a"/><path d="M0 36h1v1.2H0z" fill="#fda326"/><path d="M0 37h1v1.2H0z" fill="#ffe9cc"/><path d="M0 38h1v1.2H0z" fill="#feca83"/><path d="M0 39h1v1.2H0z" fill="#fff1df"/><path d="M0 40h1v1.2H0z" fill="#feb249"/><path d="M0 41h1v1.2H0z" fill="#febc60"/><path d="M0 42h1v1.2H0z" fill="#fed8a2"/><path d="M0 43h1v1.2H0z" fill="#fed69e"/><path d="M0 44h1v1.2H0z" fill="#fee0b5"/><path d="M0 45h1v1.2H0z" fill="#fff4e6"/><path d="M0 46h1v1.2H0z" fill="#fec87d"/><path d="M0 47h1v1.2H0z" fill="#fff4e5"/><path d="M0 48h1v1.2H0z" fill="#fffaf4"/><path d="M0 49h1v1.2H0z" fill="#ffe7c8"/><path d="M0 50h1v1.2H0z" fill="#ffe8c9"/><path d="M0 51h1v1.2H0z" fill="#feddaf"/><path d="M0 52h1v1.2H0z" fill="#fff6eb"/><path d="M0 53h1v1.2H0z" fill="#fda428"/><path d="M0 54h1v1.2H0z" fill="#fffaf3"/><path d="M0 55h1v1.2H0z" fill="#ffe6c5"/><path d="M0 56h1v1.2H0z" fill="#fee4c0"/><path d="M0 57h1v1.2H0z" fill="#fee2bb"/><path d="M0 58h1v1.2H0z" fill="#fee0b7"/><path d="M0 59h1v1.2H0z" fill="#ffedd6"/><path d="M0 60h1v1.2H0z" fill="#ffefd9"/><path d="M0 61h1v1.2H0z" fill="#ffeed8"/><path d="M0 62h1v1.2H0z" fill="#fedaa7"/><path d="M0 63h1v1.2H0z" fill="#dcecd4"/><path d="M0 64h1v1.2H0z" fill="#cfe4c4"/><path d="M0 65h1v1.2H0z" fill="#fff0db"/><path d="M0 66h1v1.2H0z" fill="#fff3e4"/><path d="M0 67h1v1.2H0z" fill="#f8fbf6"/><path d="M0 68h1v1.2H0z" fill="#feb147"/><path d="M0 69h1v1.2H0z" fill="#fec372"/><path d="M0 70h1v1.2H0z" fill="#dcebd4"/><path d="M0 71h1v1.2H0z" fill="#fec77a"/><path d="M0 72h1v1.2H0z" fill="#f7fbf5"/><path d="M0 73h1v1.2H0z" fill="#ffeed8"/><path d="M0 74h1v1.2H0z" fill="#9cc884"/><path d="M0 75h1v1.2H0z" fill="#d3e6c8"/><path d="M0 76h1v1.2H0z" fill="#d9eacf"/><path d="M0 77h1v1.2H0z" fill="#fffefc"/><path d="M0 78h1v1.2H0z" fill="#f8fbf6"/><path d="M0 79h1v1.2H0z" fill="#fff3e3"/><path d="M0 80h1v1.2H0z" fill="#f9fcf8"/><path d="M0 81h1v1.2H0z" fill="#fff5e8"/><path d="M0 82h1v1.2H0z" fill="#b7d7a6"/><path d="M0 83h1v1.2H0z" fill="#ffe5c1"/><path d="M0 84h1v1.2H0z" fill="#c7e0b9"/><path d="M0 85h1v1.2H0z" fill="#cce3c0"/><path d="M0 86h1v1.2H0z" fill="#ffefd9"/><path d="M0 87h1v1.2H0z" fill="#dcecd4"/><path d="M0 88h1v1.2H0z" fill="#c9e1bb"/><path d="M0 89h1v1.2H0z" fill="#fff1df"/><path d="M0 90h1v1.2H0z" fill="#9dc986"/><path d="M0 91h1v1.2H0z" fill="#b1d49f"/><path d="M0 92h1v1.2H0z" fill="#a3cc8d"/><path d="M0 93h1v1.2H0z" fill="#8ec072"/><path d="M0 94h1v1.2H0z" fill="#cae2be"/><path d="M0 95h1v1.2H0z" fill="#c4deb6"/><path d="M0 96h1v1.2H0z" fill="#cbe2bf"/><path d="M0 97h1v1.2H0z" fill="#dcebd3"/><path d="M0 98h1v1.2H0z" fill="#eff6eb"/><path d="M0 99h1v1.2H0z" fill="#d2e6c7"/><path d="M0 100h1v1.2H0z" fill="#fffbf6"/><path d="M0 101h1v1.2H0z" fill="#c8e0ba"/><path d="M0 102h1v1.2H0z" fill="#d8e9cf"/><path d="M0 103h1v1.2H0z" fill="#d7e8cd"/><path d="M0 104h1v1.2H0z" fill="#d7e9cd"/><path d="M0 105h1v1.2H0z" fill="#e4f0dd"/><path d="M0 106h1v1.2H0z" fill="#a7ce91"/><path d="M0 107h1v1.2H0z" fill="#ffeace"/><path d="M0 108h1v1.2H0z" fill="#e9f3e3"/><path d="M0 109h1v1.2H0z" fill="#d3e7c9"/><path d="M0 110h1v1.2H0z" fill="#d8eacf"/><path d="M0 111h1v1.2H0z" fill="#dbebd2"/><path d="M0 112h1v1.2H0z" fill="#6aac46"/><path d="M0 113h1v1.2H0z" fill="#6aac46"/><path d="M0 114h1v1.2H0z" fill="#cbe2bf"/><path d="M0 115h1v1.2H0z" fill="#eaf3e4"/><path d="M0 116h1v1.2H0z" fill="#ffeed7"/><path d="M0 117h1v1.2H0z" fill="#fedbab"/><path d="M0 118h1v1.2H0z" fill="#bedbaf"/><path d="M0 119h1v1.2H0z" fill="#d4e7ca"/><path d="M0 120h1v1.2H0z" fill="#d5e8cb"/><path d="M0 121h1v1.2H0z" fill="#b3d5a0"/><path d="M0 122h1v1.2H0z" fill="#fcfdfb"/><path d="M0 123h1v1.2H0z" fill="#eaf3e5"/><path d="M0 124h1v1.2H0z" fill="#fcfdfb"/><path d="M0 125h1v1.2H0z" fill="#b2d49f"/><path d="M0 126h1v1.2H0z" fill="#a6cd91"/><path d="M0 127h1v1.2H0z" fill="#d0e5c5"/><path d="M0 128h1v1.2H0z" fill="#c8e0ba"/><path d="M0 129h1v1.2H0z" fill="#afd29b"/><path d="M0 130h1v1.2H0z" fill="#add19a"/><path d="M0 131h1v1.2H0z" fill="#99c680"/><path d="M0 132h1v1.2H0z" fill="#c2ddb3"/><path d="M0 133h1v1.2H0z" fill="#bbd9aa"/><path d="M0 134h1v1.2H0z" fill="#dfedd8"/><path d="M0 135h1v1.2H0z" fill="#8cbf70"/><path d="M0 136h1v1.2H0z" fill="#cee4c2"/><path d="M0 137h1v1.2H0z" fill="#9fca88"/><path d="M0 138h1v1.2H0z" fill="#ebf4e6"/><path d="M0 139h1v1.2H0z" fill="#78b458"/><path d="M0 140h1v1.2H0z" fill="#d3e6c8"/><path d="M0 141h1v1.2H0z" fill="#ffebcf"/><path d="M0 142h1v1.2H0z" fill="#94c37a"/><path d="M0 143h1v1.2H0z" fill="#87bc6a"/><path d="M0 144h1v1.2H0z" fill="#8abe6e"/><path d="M0 145h1v1.2H0z" fill="#92c278"/><path d="M0 146h1v1.2H0z" fill="#dfedd7"/><path d="M0 147h1v1.2H0z" fill="#8ec073"/><path d="M0 148h1v1.2H0z" fill="#f8fbf6"/><path d="M0 149h1v1.2H0z" fill="#6aac46"/><path d="M0 150h1v1.2H0z" fill="#bedbaf"/><path d="M0 151h1v1.2H0z" fill="#c4deb5"/><path d="M0 152h1v1.2H0z" fill="#d9ead0"/><path d="M0 153h1v1.2H0z" fill="#98c67f"/><path d="M0 154h1v1.2H0z" fill="#a4cc8e"/><path d="M0 155h1v1.2H0z" fill="#82b964"/><path d="M0 156h1v1.2H0z" fill="#8dbf71"/><path d="M0 157h1v1.2H0z" fill="#86bc69"/><path d="M0 158h1v1.2H0z" fill="#9ec986"/><path d="M0 159h1v1.2H0z" fill="#d3e7c9"/><path d="M0 160h1v1.2H0z" fill="#b5d6a3"/><path d="M0 161h1v1.2H0z" fill="#8ec073"/></svg>
<svg x="483.20" y="63.20" width="31.48" height="338.80" viewBox="0 0 1 162" preserveAspectRatio="none" shape-rendering="crispEdges"><path d="M0 0h1v1.2H0z" fill="#feb149"/><path d="M0 1h1v1.2H0z" fill="#feb95b"/><path d="M0 2h1v1.2H0z" fill="#fece8c"/><path d="M0 3h1v1.2H0z" fill="#fecc87"/><path d="M0 4h1v1.2H0z" fill="#fedfb3"/><path d="M0 5h1v1.2H0z" fill="#fecd8a"/><path d="M0 6h1v1.2H0z" fill="#fed8a3"/><path d="M0 7h1v1.2H0z" fill="#feb858"/><path d="M0 8h1v1.2H0z" fill="#fd9e1a"/><path d="M0 9h1v1.2H0z" fill="#fd9c16"/><path d="M0 10h1v1.2H0z" fill="#fda225"/><path d="M0 11h1v1.2H0z" fill="#fd9608"/><path d="M0 12h1v1.2H0z" fill="#fd9608"/><path d="M0 13h1v1.2H0z" fill="#fd9a11"/><path d="M0 14h1v1.2H0z" fill="#fee2ba"/><path d="M0 15h1v1.2H0z" fill="#fec576"/><path d="M0 16h1v1.2H0z" fill="#ffe5c3"/><path d="M0 17h1v1.2H0z" fill="#feb44f"/><path d="M0 18h1v1.2H0z" fill="#fed398"/><path d="M0 19h1v1.2H0z" fill="#fee5c1"/><path d="M0 20h1v1.2H0z" fill="#fd9608"/><path d="M0 21h1v1.2H0z" fill="#fecb85"/><path d="M0 22h1v1.2H0z" fill="#febc62"/><path d="M0 23h1v1.2H0z" fill="#fd9910"/><path d="M0 24h1v1.2H0z" fill="#8d5ab3"/><path d="M0 25h1v1.2H0z" fill="#a780c5"/><path d="M0 26h1v1.2H0z" fill="#fec06c"/><path d="M0 27h1v1.2H0z" fill="#fda730"/><path d="M0 28h1v1.2H0z" fill="#fdae40"/><path d="M0 29h1v1.2H0z" fill="#fd9608"/><path d="M0 30h1v1.2H0z" fill="#fee3bc"/><path d="M0 31h1v1.2H0z" fill="#ffeed8"/><path d="M0 32h1v1.2H0z" fill="#fee2ba"/><path d="M0 33h1v1.2H0z" fill="#fecb84"/><path d="M0 34h1v1.2H0z" fill="#fecf8e"/><path d="M0 35h1v1.2H0z" fill="#fedba9"/><path d="M0 36h1v1.2H0z" fill="#feb44f"/><path d="M0 37h1v1.2H0z" fill="#feb756"/><path d="M0 38h1v1.2H0z" fill="#ab86c7"/><path d="M0 39h1v1.2H0z" fill="#8f5db5"/><path d="M0 40h1v1.2H0z" fill="#feb755"/><path d="M0 41h1v1.2H0z" fill="#fd9608"/><path d="M0 42h1v1.2H0z" fill="#fed9a6"/><path d="M0 43h1v1.2H0z" fill="#fdfcfe"/><path d="M0 44h1v1.2H0z" fill="#e6dbee"/><path d="M0 45h1v1.2H0z" fill="#dbcbe7"/><path d="M0 46h1v1.2H0z" fill="#fed7a0"/><path d="M0 47h1v1.2H0z" fill="#fed69e"/><path d="M0 48h1v1.2H0z" fill="#fedfb5"/><path d="M0 49h1v1.2H0z" fill="#cdb6de"/><path d="M0 50h1v1.2H0z" fill="#fee2bb"/><path d="M0 51h1v1.2H0z" fill="#fd9608"/><path d="M0 52h1v1.2H0z" fill="#ffe6c4"/><path d="M0 53h1v1.2H0z" fill="#ffe6c5"/><path d="M0 54h1v1.2H0z" fill="#ffe6c5"/><path d="M0 55h1v1.2H0z" fill="#ffefda"/><path d="M0 56h1v1.2H0z" fill="#ffeed8"/><path d="M0 57h1v1.2H0z" fill="#febe66"/><path d="M0 58h1v1.2H0z" fill="#fd9608"/><path d="M0 59h1v1.2H0z" fill="#b695ce"/><path d="M0 60h1v1.2H0z" fill="#fedfb5"/><path d="M0 61h1v1.2H0z" fill="#fed8a3"/><path d="M0 62h1v1.2H0z" fill="#fed49a"/><path d="M0 63h1v1.2H0z" fill="#fedaa9"/><path d="M0 64h1v1.2H0z" fill="#fd9608"/><path d="M0 65h1v1.2H0z" fill="#fd9608"/><path d="M0 66h1v1.2H0z" fill="#783ba5"/><path d="M0 67h1v1.2H0z" fill="#ffefda"/><path d="M0 68h1v1.2H0z" fill="#fec475"/><path d="M0 69h1v1.2H0z" fill="#fec16d"/><path d="M0 70h1v1.2H0z" fill="#b493cd"/><path d="M0 71h1v1.2H0z" fill="#fecc86"/><path d="M0 72h1v1.2H0z" fill="#fec87d"/><path d="M0 73h1v1.2H0z" fill="#9a6dbc"/><path d="M0 74h1v1.2H0z" fill="#a67ec4"/><path d="M0 75h1v1.2H0z" fill="#7c41a8"/><path d="M0 76h1v1.2H0z" fill="#fff5e6"/><path d="M0 77h1v1.2H0z" fill="#bea1d4"/><path d="M0 78h1v1.2H0z" fill="#9464b8"/><path d="M0 79h1v1.2H0z" fill="#cfbadf"/><path d="M0 80h1v1.2H0z" fill="#c3a8d7"/><path d="M0 81h1v1.2H0z" fill="#fffcf8"/><path d="M0 82h1v1.2H0z" fill="#fec87e"/><path d="M0 83h1v1.2H0z" fill="#fec678"/><path d="M0 84h1v1.2H0z" fill="#fdac3b"/><path d="M0 85h1v1.2H0z" fill="#fdab39"/><path d="M0 86h1v1.2H0z" fill="#fffcf8"/><path d="M0 87h1v1.2H0z" fill="#fbf9fc"/><path d="M0 88h1v1.2H0z" fill="#fda225"/><path d="M0 89h1v1.2H0z" fill="#f5f1f8"/><path d="M0 90h1v1.2H0z" fill="#fda935"/><path d="M0 91h1v1.2H0z" fill="#fd9e1c"/><path d="M0 92h1v1.2H0z" fill="#fee2bb"/><path d="M0 93h1v1.2H0z" fill="#a983c6"/><path d="M0 94h1v1.2H0z" fill="#feb552"/><path d="M0 95h1v1.2H0z" fill="#af8cca"/><path d="M0 96h1v1.2H0z" fill="#e4d8ed"/><path d="M0 97h1v1.2H0z" fill="#fed49a"/><path d="M0 98h1v1.2H0z" fill="#ffe7c7"/><path d="M0 99h1v1.2H0z" fill="#9769ba"/><path d="M0 100h1v1.2H0z" fill="#b18fcb"/><path d="M0 101h1v1.2H0z" fill="#bfa2d4"/><path d="M0 102h1v1.2H0z" fill="#cab3dc"/><path d="M0 103h1v1.2H0z" fill="#af8cca"/><path d="M0 104h1v1.2H0z" fill="#feb858"/><path d="M0 105h1v1.2H0z" fill="#cbb3dc"/><path d="M0 106h1v1.2H0z" fill="#8751af"/><path d="M0 107h1v1.2H0z" fill="#b290cc"/><path d="M0 108h1v1.2H0z" fill="#9261b6"/><path d="M0 109h1v1.2H0z" fill="#9f74bf"/><path d="M0 110h1v1.2H0z" fill="#cfbadf"/><path d="M0 111h1v1.2H0z" fill="#e3d7ed"/><path d="M0 112h1v1.2H0z" fill="#e4d7ed"/><path d="M0 113h1v1.2H0z" fill="#c1a5d6"/><path d="M0 114h1v1.2H0z" fill="#9566b9"/><path d="M0 115h1v1.2H0z" fill="#decfe9"/><path d="M0 116h1v1.2H0z" fill="#7030a0"/><path d="M0 117h1v1.2H0z" fill="#ceb8de"/><path d="M0 118h1v1.2H0z" fill="#c4a9d8"/><path d="M0 119h1v1.2H0z" fill="#fedbab"/><path d="M0 120h1v1.2H0z" fill="#864fae"/><path d="M0 121h1v1.2H0z" fill="#7030a0"/><path d="M0 122h1v1.2H0z" fill="#a982c6"/><path d="M0 123h1v1.2H0z" fill="#c6add9"/><path d="M0 124h1v1.2H0z" fill="#eae0f1"/><path d="M0 125h1v1.2H0z" fill="#fed7a1"/><path d="M0 126h1v1.2H0z" fill="#ffffff"/><path d="M0 127h1v1.2H0z" fill="#9c70bd"/><path d="M0 128h1v1.2H0z" fill="#9261b7"/><path d="M0 129h1v1.2H0z" fill="#e8ddf0"/><path d="M0 130h1v1.2H0z" fill="#e6daee"/><path d="M0 131h1v1.2H0z" fill="#7030a0"/><path d="M0 132h1v1.2H0z" fill="#b99ad1"/><path d="M0 133h1v1.2H0z" fill="#fed9a6"/><path d="M0 134h1v1.2H0z" fill="#9565b8"/><path d="M0 135h1v1.2H0z" fill="#c9b2db"/><path d="M0 136h1v1.2H0z" fill="#a67ec4"/><path d="M0 137h1v1.2H0z" fill="#fbf9fc"/><path d="M0 138h1v1.2H0z" fill="#c3a9d7"/><path d="M0 139h1v1.2H0z" fill="#d0bbe0"/><path d="M0 140h1v1.2H0z" fill="#7030a0"/><path d="M0 141h1v1.2H0z" fill="#7538a4"/><path d="M0 142h1v1.2H0z" fill="#ffeed8"/><path d="M0 143h1v1.2H0z" fill="#9f75bf"/><path d="M0 144h1v1.2H0z" fill="#a177c1"/><path d="M0 145h1v1.2H0z" fill="#c5aad8"/><path d="M0 146h1v1.2H0z" fill="#fedbaa"/><path d="M0 147h1v1.2H0z" fill="#fec16c"/><path d="M0 148h1v1.2H0z" fill="#febe66"/><path d="M0 149h1v1.2H0z" fill="#f6f2f9"/><path d="M0 150h1v1.2H0z" fill="#c8afda"/><path d="M0 151h1v1.2H0z" fill="#ffedd4"/><path d="M0 152h1v1.2H0z" fill="#fff8ef"/><path d="M0 153h1v1.2H0z" fill="#7030a0"/><path d="M0 154h1v1.2H0z" fill="#a075c0"/><path d="M0 155h1v1.2H0z" fill="#e1d3eb"/><path d="M0 156h1v1.2H0z" fill="#8853b0"/><path d="M0 157h1v1.2H0z" fill="#d8c6e5"/><path d="M0 158h1v1.2H0z" fill="#d3bfe2"/><path d="M0 159h1v1.2H0z" fill="#decfe9"/><path d="M0 160h1v1.2H0z" fill="#e7dcef"/><path d="M0 161h1v1.2H0z" fill="#a780c5"/></svg><svg x="514.43" y="63.20" width="31.48" height="338.80" viewBox="0 0 1 162" preserveAspectRatio="none" shape-rendering="crispEdges"><path d="M0 0h1v1.2H0z" fill="#fecd8a"/><path d="M0 1h1v1.2H0z" fill="#feb858"/><path d="M0 2h1v1.2H0z" fill="#febd63"/><path d="M0 3h1v1.2H0z" fill="#feb654"/><path d="M0 4h1v1.2H0z" fill="#fd9608"/><path d="M0 5h1v1.2H0z" fill="#fd9910"/><path d="M0 6h1v1.2H0z" fill="#ffe9cb"/><path d="M0 7h1v1.2H0z" fill="#ffe7c7"/><path d="M0 8h1v1.2H0z" fill="#fd9d19"/><path d="M0 9h1v1.2H0z" fill="#fd9608"/><path d="M0 10h1v1.2H0z" fill="#fed192"/><path d="M0 11h1v1.2H0z" fill="#fed192"/><path d="M0 12h1v1.2H0z" fill="#fed08f"/><path d="M0 13h1v1.2H0z" fill="#feb148"/><path d="M0 14h1v1.2H0z" fill="#fec578"/><path d="M0 15h1v1.2H0z" fill="#fff2e0"/><path d="M0 16h1v1.2H0z" fill="#ffebcf"/><path d="M0 17h1v1.2H0z" fill="#fffaf3"/><path d="M0 18h1v1.2H0z" fill="#ffebd0"/><path d="M0 19h1v1.2H0z" fill="#fdb045"/><path d="M0 20h1v1.2H0z" fill="#feb95b"/><path d="M0 21h1v1.2H0z" fill="#fffcf8"/><path d="M0 22h1v1.2H0z" fill="#fee4c0"/><path d="M0 23h1v1.2H0z" fill="#ffe7c7"/><path d="M0 24h1v1.2H0z" fill="#fec06c"/><path d="M0 25h1v1.2H0z" fill="#e5daee"/><path d="M0 26h1v1.2H0z" fill="#fec577"/><path d="M0 27h1v1.2H0z" fill="#fec77c"/><path d="M0 28h1v1.2H0z" fill="#fed194"/><path d="M0 29h1v1.2H0z" fill="#feddb0"/><path d="M0 30h1v1.2H0z" fill="#c9b1db"/><path d="M0 31h1v1.2H0z" fill="#feb858"/><path d="M0 32h1v1.2H0z" fill="#fedaa7"/><path d="M0 33h1v1.2H0z" fill="#feb552"/><path d="M0 34h1v1.2H0z" fill="#fedba9"/><path d="M0 35h1v1.2H0z" fill="#fff4e4"/><path d="M0 36h1v1.2H0z" fill="#fffcf8"/><path d="M0 37h1v1.2H0z" fill="#fec981"/><path d="M0 38h1v1.2H0z" fill="#fff7ed"/><path d="M0 39h1v1.2H0z" fill="#fec16e"/><path d="M0 40h1v1.2H0z" fill="#fec981"/><path d="M0 41h1v1.2H0z" fill="#febb5f"/><path d="M0 42h1v1.2H0z" fill="#fecf8d"/><path d="M0 43h1v1.2H0z" fill="#fee4c0"/><path d="M0 44h1v1.2H0z" fill="#fdae40"/><path d="M0 45h1v1.2H0z" fill="#fd9608"/><path d="M0 46h1v1.2H0z" fill="#fedcac"/><path d="M0 47h1v1.2H0z" fill="#fda42a"/><path d="M0 48h1v1.2H0z" fill="#feca82"/><path d="M0 49h1v1.2H0z" fill="#fed7a1"/><path d="M0 50h1v1.2H0z" fill="#fee1b8"/><path d="M0 51h1v1.2H0z" fill="#ffe8ca"/><path d="M0 52h1v1.2H0z" fill="#fff6eb"/><path d="M0 53h1v1.2H0z" fill="#fed193"/><path d="M0 54h1v1.2H0z" fill="#9362b7"/><path d="M0 55h1v1.2H0z" fill="#fd9608"/><path d="M0 56h1v1.2H0z" fill="#fed49a"/><path d="M0 57h1v1.2H0z" fill="#fec97f"/><path d="M0 58h1v1.2H0z" fill="#834bac"/><path d="M0 59h1v1.2H0z" fill="#fda833"/><path d="M0 60h1v1.2H0z" fill="#fed69e"/><path d="M0 61h1v1.2H0z" fill="#fda123"/><path d="M0 62h1v1.2H0z" fill="#fec67a"/><path d="M0 63h1v1.2H0z" fill="#d7c5e4"/><path d="M0 64h1v1.2H0z" fill="#e1d3eb"/><path d="M0 65h1v1.2H0z" fill="#e2d4eb"/><path d="M0 66h1v1.2H0z" fill="#d9c7e5"/><path d="M0 67h1v1.2H0z" fill="#dac9e6"/><path d="M0 68h1v1.2H0z" fill="#ffecd1"/><path d="M0 69h1v1.2H0z" fill="#f9f6fb"/><path d="M0 70h1v1.2H0z" fill="#f4eff8"/><path d="M0 71h1v1.2H0z" fill="#e4d8ed"/><path d="M0 72h1v1.2H0z" fill="#fda225"/><path d="M0 73h1v1.2H0z" fill="#fec87e"/><path d="M0 74h1v1.2H0z" fill="#fec578"/><path d="M0 75h1v1.2H0z" fill="#ceb8df"/><path d="M0 76h1v1.2H0z" fill="#8047aa"/><path d="M0 77h1v1.2H0z" fill="#ffedd5"/><path d="M0 78h1v1.2H0z" fill="#9b6fbd"/><path d="M0 79h1v1.2H0z" fill="#fec77c"/><path d="M0 80h1v1.2H0z" fill="#fd9608"/><path d="M0 81h1v1.2H0z" fill="#9667b9"/><path d="M0 82h1v1.2H0z" fill="#febd63"/><path d="M0 83h1v1.2H0z" fill="#fdae41"/><path d="M0 84h1v1.2H0z" fill="#c7afda"/><path d="M0 85h1v1.2H0z" fill="#cbb4dd"/><path d="M0 86h1v1.2H0z" fill="#bb9cd2"/><path d="M0 87h1v1.2H0z" fill="#fda935"/><path d="M0 88h1v1.2H0z" fill="#9363b7"/><path d="M0 89h1v1.2H0z" fill="#c8afda"/><path d="M0 90h1v1.2H0z" fill="#d4c1e3"/><path d="M0 91h1v1.2H0z" fill="#ab86c7"/><path d="M0 92h1v1.2H0z" fill="#bb9dd2"/><path d="M0 93h1v1.2H0z" fill="#c6acd9"/><path d="M0 94h1v1.2H0z" fill="#c4a9d8"/><path d="M0 95h1v1.2H0z" fill="#c5abd8"/><path d="M0 96h1v1.2H0z" fill="#f9f6fb"/><path d="M0 97h1v1.2H0z" fill="#7030a0"/><path d="M0 98h1v1.2H0z" fill="#7030a0"/><path d="M0 99h1v1.2H0z" fill="#7030a0"/><path d="M0 100h1v1.2H0z" fill="#ddcee8"/><path d="M0 101h1v1.2H0z" fill="#a77fc4"/><path d="M0 102h1v1.2H0z" fill="#fbf9fc"/><path d="M0 103h1v1.2H0z" fill="#fedeb1"/><path d="M0 104h1v1.2H0z" fill="#e4d8ed"/><path d="M0 105h1v1.2H0z" fill="#c1a5d6"/><path d="M0 106h1v1.2H0z" fill="#fd9608"/><path d="M0 107h1v1.2H0z" fill="#c0a4d5"/><path d="M0 108h1v1.2H0z" fill="#fff6e9"/><path d="M0 109h1v1.2H0z" fill="#fdfcfd"/><path d="M0 110h1v1.2H0z" fill="#fffcf8"/><path d="M0 111h1v1.2H0z" fill="#eee7f4"/><path d="M0 112h1v1.2H0z" fill="#d4c0e2"/><path d="M0 113h1v1.2H0z" fill="#e2d5ec"/><path d="M0 114h1v1.2H0z" fill="#bfa3d5"/><path d="M0 115h1v1.2H0z" fill="#ebe3f2"/><path d="M0 116h1v1.2H0z" fill="#fdb045"/><path d="M0 117h1v1.2H0z" fill="#feba5c"/><path d="M0 118h1v1.2H0z" fill="#ffe9ca"/><path d="M0 119h1v1.2H0z" fill="#ffefda"/><path d="M0 120h1v1.2H0z" fill="#fee1b8"/><path d="M0 121h1v1.2H0z" fill="#dfd1ea"/><path d="M0 122h1v1.2H0z" fill="#feb857"/><path d="M0 123h1v1.2H0z" fill="#ebe2f2"/><path d="M0 124h1v1.2H0z" fill="#fed194"/><path d="M0 125h1v1.2H0z" fill="#7030a0"/><path d="M0 126h1v1.2H0z" fill="#a278c1"/><path d="M0 127h1v1.2H0z" fill="#fecc88"/><path d="M0 128h1v1.2H0z" fill="#9d72be"/><path d="M0 129h1v1.2H0z" fill="#7030a0"/><path d="M0 130h1v1.2H0z" fill="#844dad"/><path d="M0 131h1v1.2H0z" fill="#eae1f1"/><path d="M0 132h1v1.2H0z" fill="#ded0e9"/><path d="M0 133h1v1.2H0z" fill="#fbf9fc"/><path d="M0 134h1v1.2H0z" fill="#fffdfb"/><path d="M0 135h1v1.2H0z" fill="#ffeace"/><path d="M0 136h1v1.2H0z" fill="#ffe9cb"/><path d="M0 137h1v1.2H0z" fill="#fff1de"/><path d="M0 138h1v1.2H0z" fill="#fdab38"/><path d="M0 139h1v1.2H0z" fill="#9667b9"/><path d="M0 140h1v1.2H0z" fill="#a076c0"/><path d="M0 141h1v1.2H0z" fill="#ad89c9"/><path d="M0 142h1v1.2H0z" fill="#e5d9ed"/><path d="M0 143h1v1.2H0z" fill="#f4f0f8"/><path d="M0 144h1v1.2H0z" fill="#a982c6"/><path d="M0 145h1v1.2H0z" fill="#c4aad8"/><path d="M0 146h1v1.2H0z" fill="#793da6"/><path d="M0 147h1v1.2H0z" fill="#7030a0"/><path d="M0 148h1v1.2H0z" fill="#7030a0"/><path d="M0 149h1v1.2H0z" fill="#8a55b1"/><path d="M0 150h1v1.2H0z" fill="#9160b6"/><path d="M0 151h1v1.2H0z" fill="#7030a0"/><path d="M0 152h1v1.2H0z" fill="#b28fcc"/><path d="M0 153h1v1.2H0z" fill="#8e5cb4"/><path d="M0 154h1v1.2H0z" fill="#d9c7e6"/><path d="M0 155h1v1.2H0z" fill="#fcfbfd"/><path d="M0 156h1v1.2H0z" fill="#dbcbe7"/><path d="M0 157h1v1.2H0z" fill="#8d5ab3"/><path d="M0 158h1v1.2H0z" fill="#8955b1"/><path d="M0 159h1v1.2H0z" fill="#7030a0"/><path d="M0 160h1v1.2H0z" fill="#7030a0"/><path d="M0 161h1v1.2H0z" fill="#7030a0"/></svg><svg x="545.66" y="63.20" width="31.48" height="338.80" viewBox="0 0 1 162" preserveAspectRatio="none" shape-rendering="crispEdges"><path d="M0 0h1v1.2H0z" fill="#fedaa8"/><path d="M0 1h1v1.2H0z" fill="#fec67a"/><path d="M0 2h1v1.2H0z" fill="#fec371"/><path d="M0 3h1v1.2H0z" fill="#feb959"/><path d="M0 4h1v1.2H0z" fill="#fda021"/><path d="M0 5h1v1.2H0z" fill="#fda833"/><path d="M0 6h1v1.2H0z" fill="#fd9608"/><path d="M0 7h1v1.2H0z" fill="#fed192"/><path d="M0 8h1v1.2H0z" fill="#fec473"/><path d="M0 9h1v1.2H0z" fill="#fed49a"/><path d="M0 10h1v1.2H0z" fill="#fd9608"/><path d="M0 11h1v1.2H0z" fill="#fd9608"/><path d="M0 12h1v1.2H0z" fill="#fed49a"/><path d="M0 13h1v1.2H0z" fill="#fec270"/><path d="M0 14h1v1.2H0z" fill="#fda328"/><path d="M0 15h1v1.2H0z" fill="#fda934"/><path d="M0 16h1v1.2H0z" fill="#fed6a0"/><path d="M0 17h1v1.2H0z" fill="#fec97f"/><path d="M0 18h1v1.2H0z" fill="#feb44f"/><path d="M0 19h1v1.2H0z" fill="#fdae40"/><path d="M0 20h1v1.2H0z" fill="#fd9608"/><path d="M0 21h1v1.2H0z" fill="#febc62"/><path d="M0 22h1v1.2H0z" fill="#feb95a"/><path d="M0 23h1v1.2H0z" fill="#ffe7c6"/><path d="M0 24h1v1.2H0z" fill="#fec16d"/><path d="M0 25h1v1.2H0z" fill="#fda730"/><path d="M0 26h1v1.2H0z" fill="#fd9a11"/><path d="M0 27h1v1.2H0z" fill="#fefdfe"/><path d="M0 28h1v1.2H0z" fill="#fff3e2"/><path d="M0 29h1v1.2H0z" fill="#fedeb0"/><path d="M0 30h1v1.2H0z" fill="#fec16c"/><path d="M0 31h1v1.2H0z" fill="#fec26f"/><path d="M0 32h1v1.2H0z" fill="#feba5d"/><path d="M0 33h1v1.2H0z" fill="#fedeb0"/><path d="M0 34h1v1.2H0z" fill="#fd9d17"/><path d="M0 35h1v1.2H0z" fill="#fec16e"/><path d="M0 36h1v1.2H0z" fill="#fd9608"/><path d="M0 37h1v1.2H0z" fill="#fd9608"/><path d="M0 38h1v1.2H0z" fill="#feb44e"/><path d="M0 39h1v1.2H0z" fill="#fd9e1a"/><path d="M0 40h1v1.2H0z" fill="#fee1b8"/><path d="M0 41h1v1.2H0z" fill="#7030a0"/><path d="M0 42h1v1.2H0z" fill="#c7aeda"/><path d="M0 43h1v1.2H0z" fill="#fed8a4"/><path d="M0 44h1v1.2H0z" fill="#fee2ba"/><path d="M0 45h1v1.2H0z" fill="#fffdfb"/><path d="M0 46h1v1.2H0z" fill="#ffecd3"/><path d="M0 47h1v1.2H0z" fill="#fda62f"/><path d="M0 48h1v1.2H0z" fill="#fd9b14"/><path d="M0 49h1v1.2H0z" fill="#feca82"/><path d="M0 50h1v1.2H0z" fill="#fecc87"/><path d="M0 51h1v1.2H0z" fill="#fda833"/><path d="M0 52h1v1.2H0z" fill="#fee5c1"/><path d="M0 53h1v1.2H0z" fill="#fffdfa"/><path d="M0 54h1v1.2H0z" fill="#fd9608"/><path d="M0 55h1v1.2H0z" fill="#9f74bf"/><path d="M0 56h1v1.2H0z" fill="#febc61"/><path d="M0 57h1v1.2H0z" fill="#fee2ba"/><path d="M0 58h1v1.2H0z" fill="#feb551"/><path d="M0 59h1v1.2H0z" fill="#febd64"/><path d="M0 60h1v1.2H0z" fill="#feb24a"/><path d="M0 61h1v1.2H0z" fill="#feb046"/><path d="M0 62h1v1.2H0z" fill="#7537a3"/><path d="M0 63h1v1.2H0z" fill="#fda122"/><path d="M0 64h1v1.2H0z" fill="#b28fcc"/><path d="M0 65h1v1.2H0z" fill="#9d71be"/><path d="M0 66h1v1.2H0z" fill="#fed9a5"/><path d="M0 67h1v1.2H0z" fill="#fda832"/><path d="M0 68h1v1.2H0z" fill="#fd9a10"/><path d="M0 69h1v1.2H0z" fill="#ffedd4"/><path d="M0 70h1v1.2H0z" fill="#fd980e"/><path d="M0 71h1v1.2H0z" fill="#fd980d"/><path d="M0 72h1v1.2H0z" fill="#fed192"/><path d="M0 73h1v1.2H0z" fill="#fec77b"/><path d="M0 74h1v1.2H0z" fill="#fecc87"/><path d="M0 75h1v1.2H0z" fill="#fd9608"/><path d="M0 76h1v1.2H0z" fill="#c5abd8"/><path d="M0 77h1v1.2H0z" fill="#fed59b"/><path d="M0 78h1v1.2H0z" fill="#ddcee9"/><path d="M0 79h1v1.2H0z" fill="#e9dff0"/><path d="M0 80h1v1.2H0z" fill="#feca82"/><path d="M0 81h1v1.2H0z" fill="#feca82"/><path d="M0 82h1v1.2H0z" fill="#fec577"/><path d="M0 83h1v1.2H0z" fill="#febc61"/><path d="M0 84h1v1.2H0z" fill="#fffffe"/><path d="M0 85h1v1.2H0z" fill="#fed8a2"/><path d="M0 86h1v1.2H0z" fill="#ffe9cc"/><path d="M0 87h1v1.2H0z" fill="#ffebd1"/><path d="M0 88h1v1.2H0z" fill="#a57cc3"/><path d="M0 89h1v1.2H0z" fill="#c1a5d6"/><path d="M0 90h1v1.2H0z" fill="#d2bde1"/><path d="M0 91h1v1.2H0z" fill="#834bac"/><path d="M0 92h1v1.2H0z" fill="#fd9608"/><path d="M0 93h1v1.2H0z" fill="#8b57b2"/><path d="M0 94h1v1.2H0z" fill="#af8bca"/><path d="M0 95h1v1.2H0z" fill="#fd9608"/><path d="M0 96h1v1.2H0z" fill="#dccde8"/><path d="M0 97h1v1.2H0z" fill="#d9c7e5"/><path d="M0 98h1v1.2H0z" fill="#bc9ed3"/><path d="M0 99h1v1.2H0z" fill="#fbf9fc"/><path d="M0 100h1v1.2H0z" fill="#ae8aca"/><path d="M0 101h1v1.2H0z" fill="#fffaf2"/><path d="M0 102h1v1.2H0z" fill="#feb34b"/><path d="M0 103h1v1.2H0z" fill="#7c42a8"/><path d="M0 104h1v1.2H0z" fill="#cfbadf"/><path d="M0 105h1v1.2H0z" fill="#7e45aa"/><path d="M0 106h1v1.2H0z" fill="#feb046"/><path d="M0 107h1v1.2H0z" fill="#d2bee1"/><path d="M0 108h1v1.2H0z" fill="#dac9e6"/><path d="M0 109h1v1.2H0z" fill="#ffe6c5"/><path d="M0 110h1v1.2H0z" fill="#8c59b3"/><path d="M0 111h1v1.2H0z" fill="#8e5cb4"/><path d="M0 112h1v1.2H0z" fill="#854eae"/><path d="M0 113h1v1.2H0z" fill="#fd9608"/><path d="M0 114h1v1.2H0z" fill="#7030a0"/><path d="M0 115h1v1.2H0z" fill="#fffdfa"/><path d="M0 116h1v1.2H0z" fill="#f3edf7"/><path d="M0 117h1v1.2H0z" fill="#fec87e"/><path d="M0 118h1v1.2H0z" fill="#8b57b2"/><path d="M0 119h1v1.2H0z" fill="#8b57b2"/><path d="M0 120h1v1.2H0z" fill="#8a56b1"/><path d="M0 121h1v1.2H0z" fill="#9362b7"/><path d="M0 122h1v1.2H0z" fill="#fffffe"/><path d="M0 123h1v1.2H0z" fill="#7030a0"/><path d="M0 124h1v1.2H0z" fill="#fec578"/><path d="M0 125h1v1.2H0z" fill="#fecd8a"/><path d="M0 126h1v1.2H0z" fill="#f4f0f8"/><path d="M0 127h1v1.2H0z" fill="#eee7f4"/><path d="M0 128h1v1.2H0z" fill="#8b57b2"/><path d="M0 129h1v1.2H0z" fill="#a075c0"/><path d="M0 130h1v1.2H0z" fill="#c4aad8"/><path d="M0 131h1v1.2H0z" fill="#834bac"/><path d="M0 132h1v1.2H0z" fill="#fbf9fc"/><path d="M0 133h1v1.2H0z" fill="#a075c0"/><path d="M0 134h1v1.2H0z" fill="#aa85c7"/><path d="M0 135h1v1.2H0z" fill="#9668ba"/><path d="M0 136h1v1.2H0z" fill="#fffcf8"/><path d="M0 137h1v1.2H0z" fill="#8b56b2"/><path d="M0 138h1v1.2H0z" fill="#8853b0"/><path d="M0 139h1v1.2H0z" fill="#e4d8ed"/><path d="M0 140h1v1.2H0z" fill="#9667b9"/><path d="M0 141h1v1.2H0z" fill="#e4d8ed"/><path d="M0 142h1v1.2H0z" fill="#f5f0f8"/><path d="M0 143h1v1.2H0z" fill="#ddcee9"/><path d="M0 144h1v1.2H0z" fill="#b08dcb"/><path d="M0 145h1v1.2H0z" fill="#fcfbfd"/><path d="M0 146h1v1.2H0z" fill="#fff8ed"/><path d="M0 147h1v1.2H0z" fill="#7030a0"/><path d="M0 148h1v1.2H0z" fill="#c8b0db"/><path d="M0 149h1v1.2H0z" fill="#c1a5d6"/><path d="M0 150h1v1.2H0z" fill="#f6f2f9"/><path d="M0 151h1v1.2H0z" fill="#7638a4"/><path d="M0 152h1v1.2H0z" fill="#c8afda"/><path d="M0 153h1v1.2H0z" fill="#ac87c8"/><path d="M0 154h1v1.2H0z" fill="#d4c0e2"/><path d="M0 155h1v1.2H0z" fill="#d3bfe2"/><path d="M0 156h1v1.2H0z" fill="#7030a0"/><path d="M0 157h1v1.2H0z" fill="#7e45a9"/><path d="M0 158h1v1.2H0z" fill="#c9b0db"/><path d="M0 159h1v1.2H0z" fill="#9363b7"/><path d="M0 160h1v1.2H0z" fill="#a780c5"/><path d="M0 161h1v1.2H0z" fill="#9c6fbd"/></svg><svg x="576.89" y="63.20" width="31.48" height="338.80" viewBox="0 0 1 162" preserveAspectRatio="none" shape-rendering="crispEdges"><path d="M0 0h1v1.2H0z" fill="#fed9a5"/><path d="M0 1h1v1.2H0z" fill="#fff6e9"/><path d="M0 2h1v1.2H0z" fill="#fecc88"/><path d="M0 3h1v1.2H0z" fill="#fda935"/><path d="M0 4h1v1.2H0z" fill="#fda020"/><path d="M0 5h1v1.2H0z" fill="#fd9608"/><path d="M0 6h1v1.2H0z" fill="#fda225"/><path d="M0 7h1v1.2H0z" fill="#fd9b13"/><path d="M0 8h1v1.2H0z" fill="#fd9608"/><path d="M0 9h1v1.2H0z" fill="#fecb84"/><path d="M0 10h1v1.2H0z" fill="#fed7a1"/><path d="M0 11h1v1.2H0z" fill="#feb95a"/><path d="M0 12h1v1.2H0z" fill="#fed397"/><path d="M0 13h1v1.2H0z" fill="#feb652"/><path d="M0 14h1v1.2H0z" fill="#fd9f1e"/><path d="M0 15h1v1.2H0z" fill="#feca82"/><path d="M0 16h1v1.2H0z" fill="#fd9608"/><path d="M0 17h1v1.2H0z" fill="#fd9f1c"/><path d="M0 18h1v1.2H0z" fill="#fd9608"/><path d="M0 19h1v1.2H0z" fill="#fd9608"/><path d="M0 20h1v1.2H0z" fill="#fd9608"/><path d="M0 21h1v1.2H0z" fill="#fec270"/><path d="M0 22h1v1.2H0z" fill="#fec981"/><path d="M0 23h1v1.2H0z" fill="#fd9b15"/><path d="M0 24h1v1.2H0z" fill="#fd9d1a"/><path d="M0 25h1v1.2H0z" fill="#fec270"/><path d="M0 26h1v1.2H0z" fill="#fec26e"/><path d="M0 27h1v1.2H0z" fill="#fdad3f"/><path d="M0 28h1v1.2H0z" fill="#fec06a"/><path d="M0 29h1v1.2H0z" fill="#ffeed6"/><path d="M0 30h1v1.2H0z" fill="#fff5e7"/><path d="M0 31h1v1.2H0z" fill="#fecc88"/><path d="M0 32h1v1.2H0z" fill="#fed69e"/><path d="M0 33h1v1.2H0z" fill="#aa84c6"/><path d="M0 34h1v1.2H0z" fill="#fd9608"/><path d="M0 35h1v1.2H0z" fill="#fecc86"/><path d="M0 36h1v1.2H0z" fill="#c0a3d5"/><path d="M0 37h1v1.2H0z" fill="#fd990e"/><path d="M0 38h1v1.2H0z" fill="#feba5c"/><path d="M0 39h1v1.2H0z" fill="#fec16d"/><path d="M0 40h1v1.2H0z" fill="#feddb0"/><path d="M0 41h1v1.2H0z" fill="#fed9a6"/><path d="M0 42h1v1.2H0z" fill="#fedeb2"/><path d="M0 43h1v1.2H0z" fill="#fff3e3"/><path d="M0 44h1v1.2H0z" fill="#feba5e"/><path d="M0 45h1v1.2H0z" fill="#febb60"/><path d="M0 46h1v1.2H0z" fill="#ffe8c8"/><path d="M0 47h1v1.2H0z" fill="#f9f6fb"/><path d="M0 48h1v1.2H0z" fill="#feba5d"/><path d="M0 49h1v1.2H0z" fill="#fee4c0"/><path d="M0 50h1v1.2H0z" fill="#fedaa8"/><path d="M0 51h1v1.2H0z" fill="#fed397"/><path d="M0 52h1v1.2H0z" fill="#cab3dc"/><path d="M0 53h1v1.2H0z" fill="#febe66"/><path d="M0 54h1v1.2H0z" fill="#feb95a"/><path d="M0 55h1v1.2H0z" fill="#fd9f1d"/><path d="M0 56h1v1.2H0z" fill="#cbb4dd"/><path d="M0 57h1v1.2H0z" fill="#fda730"/><path d="M0 58h1v1.2H0z" fill="#e4d8ed"/><path d="M0 59h1v1.2H0z" fill="#7639a4"/><path d="M0 60h1v1.2H0z" fill="#ffeacd"/><path d="M0 61h1v1.2H0z" fill="#dbcbe7"/><path d="M0 62h1v1.2H0z" fill="#ffeed8"/><path d="M0 63h1v1.2H0z" fill="#7639a4"/><path d="M0 64h1v1.2H0z" fill="#ffe5c3"/><path d="M0 65h1v1.2H0z" fill="#fedaa7"/><path d="M0 66h1v1.2H0z" fill="#bc9ed3"/><path d="M0 67h1v1.2H0z" fill="#d1bce0"/><path d="M0 68h1v1.2H0z" fill="#ffe6c4"/><path d="M0 69h1v1.2H0z" fill="#fff0dc"/><path d="M0 70h1v1.2H0z" fill="#ffebd1"/><path d="M0 71h1v1.2H0z" fill="#fed8a4"/><path d="M0 72h1v1.2H0z" fill="#fed8a3"/><path d="M0 73h1v1.2H0z" fill="#feb550"/><path d="M0 74h1v1.2H0z" fill="#fff8ef"/><path d="M0 75h1v1.2H0z" fill="#fed59c"/><path d="M0 76h1v1.2H0z" fill="#c5abd8"/><path d="M0 77h1v1.2H0z" fill="#fec576"/><path d="M0 78h1v1.2H0z" fill="#dccde8"/><path d="M0 79h1v1.2H0z" fill="#fda122"/><path d="M0 80h1v1.2H0z" fill="#febc60"/><path d="M0 81h1v1.2H0z" fill="#fd9608"/><path d="M0 82h1v1.2H0z" fill="#fdac3b"/><path d="M0 83h1v1.2H0z" fill="#ffe6c4"/><path d="M0 84h1v1.2H0z" fill="#dbcbe7"/><path d="M0 85h1v1.2H0z" fill="#fed08f"/><path d="M0 86h1v1.2H0z" fill="#feb95a"/><path d="M0 87h1v1.2H0z" fill="#fee5c1"/><path d="M0 88h1v1.2H0z" fill="#fee3bd"/><path d="M0 89h1v1.2H0z" fill="#d7c5e5"/><path d="M0 90h1v1.2H0z" fill="#f4eff8"/><path d="M0 91h1v1.2H0z" fill="#e8def0"/><path d="M0 92h1v1.2H0z" fill="#b797cf"/><path d="M0 93h1v1.2H0z" fill="#a37ac2"/><path d="M0 94h1v1.2H0z" fill="#ffecd3"/><path d="M0 95h1v1.2H0z" fill="#ffe8ca"/><path d="M0 96h1v1.2H0z" fill="#feb858"/><path d="M0 97h1v1.2H0z" fill="#fd9608"/><path d="M0 98h1v1.2H0z" fill="#7d43a9"/><path d="M0 99h1v1.2H0z" fill="#fd9608"/><path d="M0 100h1v1.2H0z" fill="#fed9a6"/><path d="M0 101h1v1.2H0z" fill="#fedeb2"/><path d="M0 102h1v1.2H0z" fill="#c0a4d5"/><path d="M0 103h1v1.2H0z" fill="#fed59c"/><path d="M0 104h1v1.2H0z" fill="#d0badf"/><path d="M0 105h1v1.2H0z" fill="#eee7f4"/><path d="M0 106h1v1.2H0z" fill="#ae8ac9"/><path d="M0 107h1v1.2H0z" fill="#ffeacd"/><path d="M0 108h1v1.2H0z" fill="#8751af"/><path d="M0 109h1v1.2H0z" fill="#d8c7e5"/><path d="M0 110h1v1.2H0z" fill="#f6f2f9"/><path d="M0 111h1v1.2H0z" fill="#7334a2"/><path d="M0 112h1v1.2H0z" fill="#7030a0"/><path d="M0 113h1v1.2H0z" fill="#7030a0"/><path d="M0 114h1v1.2H0z" fill="#d8c6e5"/><path d="M0 115h1v1.2H0z" fill="#c3a9d7"/><path d="M0 116h1v1.2H0z" fill="#d6c4e4"/><path d="M0 117h1v1.2H0z" fill="#cdb6de"/><path d="M0 118h1v1.2H0z" fill="#7030a0"/><path d="M0 119h1v1.2H0z" fill="#b695ce"/><path d="M0 120h1v1.2H0z" fill="#9e73bf"/><path d="M0 121h1v1.2H0z" fill="#bda0d3"/><path d="M0 122h1v1.2H0z" fill="#b898d0"/><path d="M0 123h1v1.2H0z" fill="#ae8ac9"/><path d="M0 124h1v1.2H0z" fill="#d6c4e4"/><path d="M0 125h1v1.2H0z" fill="#bb9cd2"/><path d="M0 126h1v1.2H0z" fill="#9c70bd"/><path d="M0 127h1v1.2H0z" fill="#834cad"/><path d="M0 128h1v1.2H0z" fill="#ece3f2"/><path d="M0 129h1v1.2H0z" fill="#8f5db4"/><path d="M0 130h1v1.2H0z" fill="#7030a0"/><path d="M0 131h1v1.2H0z" fill="#8c59b3"/><path d="M0 132h1v1.2H0z" fill="#773aa5"/><path d="M0 133h1v1.2H0z" fill="#9b6fbd"/><path d="M0 134h1v1.2H0z" fill="#d6c3e4"/><path d="M0 135h1v1.2H0z" fill="#d5c2e3"/><path d="M0 136h1v1.2H0z" fill="#d4c1e2"/><path d="M0 137h1v1.2H0z" fill="#e0d2eb"/><path d="M0 138h1v1.2H0z" fill="#bc9dd2"/><path d="M0 139h1v1.2H0z" fill="#a278c1"/><path d="M0 140h1v1.2H0z" fill="#feddaf"/><path d="M0 141h1v1.2H0z" fill="#7030a0"/><path d="M0 142h1v1.2H0z" fill="#ede5f3"/><path d="M0 143h1v1.2H0z" fill="#f6f1f9"/><path d="M0 144h1v1.2H0z" fill="#7030a0"/><path d="M0 145h1v1.2H0z" fill="#c4aad8"/><path d="M0 146h1v1.2H0z" fill="#f5f1f9"/><path d="M0 147h1v1.2H0z" fill="#af8cca"/><path d="M0 148h1v1.2H0z" fill="#ddcee8"/><path d="M0 149h1v1.2H0z" fill="#c1a5d6"/><path d="M0 150h1v1.2H0z" fill="#844eae"/><path d="M0 151h1v1.2H0z" fill="#9768ba"/><path d="M0 152h1v1.2H0z" fill="#9d71be"/><path d="M0 153h1v1.2H0z" fill="#7030a0"/><path d="M0 154h1v1.2H0z" fill="#7030a0"/><path d="M0 155h1v1.2H0z" fill="#7e45a9"/><path d="M0 156h1v1.2H0z" fill="#7639a4"/><path d="M0 157h1v1.2H0z" fill="#773aa4"/><path d="M0 158h1v1.2H0z" fill="#8e5cb4"/><path d="M0 159h1v1.2H0z" fill="#7030a0"/><path d="M0 160h1v1.2H0z" fill="#7d43a9"/><path d="M0 161h1v1.2H0z" fill="#fdfcfe"/></svg><svg x="608.11" y="63.20" width="31.48" height="338.80" viewBox="0 0 1 162" preserveAspectRatio="none" shape-rendering="crispEdges"><path d="M0 0h1v1.2H0z" fill="#fed49a"/><path d="M0 1h1v1.2H0z" fill="#fda52b"/><path d="M0 2h1v1.2H0z" fill="#fed69e"/><path d="M0 3h1v1.2H0z" fill="#ffe5c2"/><path d="M0 4h1v1.2H0z" fill="#feca83"/><path d="M0 5h1v1.2H0z" fill="#fdab39"/><path d="M0 6h1v1.2H0z" fill="#ffeacd"/><path d="M0 7h1v1.2H0z" fill="#fec67a"/><path d="M0 8h1v1.2H0z" fill="#fdae41"/><path d="M0 9h1v1.2H0z" fill="#febe66"/><path d="M0 10h1v1.2H0z" fill="#febe65"/><path d="M0 11h1v1.2H0z" fill="#fed398"/><path d="M0 12h1v1.2H0z" fill="#fd9608"/><path d="M0 13h1v1.2H0z" fill="#fecb85"/><path d="M0 14h1v1.2H0z" fill="#fd9608"/><path d="M0 15h1v1.2H0z" fill="#fec67a"/><path d="M0 16h1v1.2H0z" fill="#fec679"/><path d="M0 17h1v1.2H0z" fill="#fecd88"/><path d="M0 18h1v1.2H0z" fill="#fee0b5"/><path d="M0 19h1v1.2H0z" fill="#feba5d"/><path d="M0 20h1v1.2H0z" fill="#fda01f"/><path d="M0 21h1v1.2H0z" fill="#fff7ec"/><path d="M0 22h1v1.2H0z" fill="#feb44f"/><path d="M0 23h1v1.2H0z" fill="#fec576"/><path d="M0 24h1v1.2H0z" fill="#fda731"/><path d="M0 25h1v1.2H0z" fill="#ffe6c4"/><path d="M0 26h1v1.2H0z" fill="#fedaa9"/><path d="M0 27h1v1.2H0z" fill="#feb44d"/><path d="M0 28h1v1.2H0z" fill="#fec06c"/><path d="M0 29h1v1.2H0z" fill="#fd9609"/><path d="M0 30h1v1.2H0z" fill="#fd9608"/><path d="M0 31h1v1.2H0z" fill="#feb44f"/><path d="M0 32h1v1.2H0z" fill="#feb755"/><path d="M0 33h1v1.2H0z" fill="#fec577"/><path d="M0 34h1v1.2H0z" fill="#f1ebf6"/><path d="M0 35h1v1.2H0z" fill="#febb5e"/><path d="M0 36h1v1.2H0z" fill="#fed399"/><path d="M0 37h1v1.2H0z" fill="#fed59d"/><path d="M0 38h1v1.2H0z" fill="#fda731"/><path d="M0 39h1v1.2H0z" fill="#fd9608"/><path d="M0 40h1v1.2H0z" fill="#fda223"/><path d="M0 41h1v1.2H0z" fill="#fec16c"/><path d="M0 42h1v1.2H0z" fill="#fd9608"/><path d="M0 43h1v1.2H0z" fill="#fdaa38"/><path d="M0 44h1v1.2H0z" fill="#fed69e"/><path d="M0 45h1v1.2H0z" fill="#fec16e"/><path d="M0 46h1v1.2H0z" fill="#fda225"/><path d="M0 47h1v1.2H0z" fill="#feb858"/><path d="M0 48h1v1.2H0z" fill="#febf68"/><path d="M0 49h1v1.2H0z" fill="#febc61"/><path d="M0 50h1v1.2H0z" fill="#fd9608"/><path d="M0 51h1v1.2H0z" fill="#fec87d"/><path d="M0 52h1v1.2H0z" fill="#9e73bf"/><path d="M0 53h1v1.2H0z" fill="#fec67a"/><path d="M0 54h1v1.2H0z" fill="#f2ecf6"/><path d="M0 55h1v1.2H0z" fill="#fda62d"/><path d="M0 56h1v1.2H0z" fill="#fecd8b"/><path d="M0 57h1v1.2H0z" fill="#feb249"/><path d="M0 58h1v1.2H0z" fill="#fd9608"/><path d="M0 59h1v1.2H0z" fill="#febf69"/><path d="M0 60h1v1.2H0z" fill="#fec679"/><path d="M0 61h1v1.2H0z" fill="#7030a0"/><path d="M0 62h1v1.2H0z" fill="#fd970b"/><path d="M0 63h1v1.2H0z" fill="#c0a4d5"/><path d="M0 64h1v1.2H0z" fill="#fec87d"/><path d="M0 65h1v1.2H0z" fill="#fda731"/><path d="M0 66h1v1.2H0z" fill="#f5f1f9"/><path d="M0 67h1v1.2H0z" fill="#7030a0"/><path d="M0 68h1v1.2H0z" fill="#fedcad"/><path d="M0 69h1v1.2H0z" fill="#9f75bf"/><path d="M0 70h1v1.2H0z" fill="#f6f2f9"/><path d="M0 71h1v1.2H0z" fill="#9160b6"/><path d="M0 72h1v1.2H0z" fill="#fee0b5"/><path d="M0 73h1v1.2H0z" fill="#e1d4eb"/><path d="M0 74h1v1.2H0z" fill="#844dad"/><path d="M0 75h1v1.2H0z" fill="#fffbf5"/><path d="M0 76h1v1.2H0z" fill="#ffffff"/><path d="M0 77h1v1.2H0z" fill="#ffecd3"/><path d="M0 78h1v1.2H0z" fill="#8853b0"/><path d="M0 79h1v1.2H0z" fill="#fec372"/><path d="M0 80h1v1.2H0z" fill="#d9c8e6"/><path d="M0 81h1v1.2H0z" fill="#fd990e"/><path d="M0 82h1v1.2H0z" fill="#eee6f4"/><path d="M0 83h1v1.2H0z" fill="#ffe6c4"/><path d="M0 84h1v1.2H0z" fill="#7f46aa"/><path d="M0 85h1v1.2H0z" fill="#fd9608"/><path d="M0 86h1v1.2H0z" fill="#ffedd5"/><path d="M0 87h1v1.2H0z" fill="#bfa2d4"/><path d="M0 88h1v1.2H0z" fill="#ccb5dd"/><path d="M0 89h1v1.2H0z" fill="#7030a0"/><path d="M0 90h1v1.2H0z" fill="#d5c3e3"/><path d="M0 91h1v1.2H0z" fill="#fed7a1"/><path d="M0 92h1v1.2H0z" fill="#7030a0"/><path d="M0 93h1v1.2H0z" fill="#773aa5"/><path d="M0 94h1v1.2H0z" fill="#a77fc4"/><path d="M0 95h1v1.2H0z" fill="#e1d3eb"/><path d="M0 96h1v1.2H0z" fill="#fedaa9"/><path d="M0 97h1v1.2H0z" fill="#7030a0"/><path d="M0 98h1v1.2H0z" fill="#febc61"/><path d="M0 99h1v1.2H0z" fill="#ab85c7"/><path d="M0 100h1v1.2H0z" fill="#b492cd"/><path d="M0 101h1v1.2H0z" fill="#ad88c9"/><path d="M0 102h1v1.2H0z" fill="#996bbb"/><path d="M0 103h1v1.2H0z" fill="#bea1d4"/><path d="M0 104h1v1.2H0z" fill="#ba9cd1"/><path d="M0 105h1v1.2H0z" fill="#fecf8e"/><path d="M0 106h1v1.2H0z" fill="#d7c6e5"/><path d="M0 107h1v1.2H0z" fill="#d1bce0"/><path d="M0 108h1v1.2H0z" fill="#a47cc3"/><path d="M0 109h1v1.2H0z" fill="#a67ec4"/><path d="M0 110h1v1.2H0z" fill="#f2edf7"/><path d="M0 111h1v1.2H0z" fill="#b28fcc"/><path d="M0 112h1v1.2H0z" fill="#a47bc2"/><path d="M0 113h1v1.2H0z" fill="#7436a3"/><path d="M0 114h1v1.2H0z" fill="#7030a0"/><path d="M0 115h1v1.2H0z" fill="#824aac"/><path d="M0 116h1v1.2H0z" fill="#c9b1db"/><path d="M0 117h1v1.2H0z" fill="#ece4f3"/><path d="M0 118h1v1.2H0z" fill="#dfd1ea"/><path d="M0 119h1v1.2H0z" fill="#fffbf6"/><path d="M0 120h1v1.2H0z" fill="#fff9f1"/><path d="M0 121h1v1.2H0z" fill="#9363b7"/><path d="M0 122h1v1.2H0z" fill="#c9b1db"/><path d="M0 123h1v1.2H0z" fill="#e4d8ed"/><path d="M0 124h1v1.2H0z" fill="#bfa2d4"/><path d="M0 125h1v1.2H0z" fill="#e9e0f1"/><path d="M0 126h1v1.2H0z" fill="#b695ce"/><path d="M0 127h1v1.2H0z" fill="#824bac"/><path d="M0 128h1v1.2H0z" fill="#ebe1f1"/><path d="M0 129h1v1.2H0z" fill="#a379c2"/><path d="M0 130h1v1.2H0z" fill="#793ea6"/><path d="M0 131h1v1.2H0z" fill="#7537a3"/><path d="M0 132h1v1.2H0z" fill="#b392cd"/><path d="M0 133h1v1.2H0z" fill="#c9b1db"/><path d="M0 134h1v1.2H0z" fill="#a982c6"/><path d="M0 135h1v1.2H0z" fill="#c9b1db"/><path d="M0 136h1v1.2H0z" fill="#e8ddf0"/><path d="M0 137h1v1.2H0z" fill="#8751af"/><path d="M0 138h1v1.2H0z" fill="#7c42a8"/><path d="M0 139h1v1.2H0z" fill="#783ba5"/><path d="M0 140h1v1.2H0z" fill="#7335a2"/><path d="M0 141h1v1.2H0z" fill="#b999d0"/><path d="M0 142h1v1.2H0z" fill="#996cbc"/><path d="M0 143h1v1.2H0z" fill="#b695ce"/><path d="M0 144h1v1.2H0z" fill="#b493cd"/><path d="M0 145h1v1.2H0z" fill="#c8b0db"/><path d="M0 146h1v1.2H0z" fill="#7030a0"/><path d="M0 147h1v1.2H0z" fill="#8e5bb4"/><path d="M0 148h1v1.2H0z" fill="#bc9ed3"/><path d="M0 149h1v1.2H0z" fill="#d8c6e5"/><path d="M0 150h1v1.2H0z" fill="#b594ce"/><path d="M0 151h1v1.2H0z" fill="#9d70be"/><path d="M0 152h1v1.2H0z" fill="#773aa4"/><path d="M0 153h1v1.2H0z" fill="#7030a0"/><path d="M0 154h1v1.2H0z" fill="#fffcf7"/><path d="M0 155h1v1.2H0z" fill="#a881c5"/><path d="M0 156h1v1.2H0z" fill="#ae8ac9"/><path d="M0 157h1v1.2H0z" fill="#7030a0"/><path d="M0 158h1v1.2H0z" fill="#d4c1e2"/><path d="M0 159h1v1.2H0z" fill="#d3bfe2"/><path d="M0 160h1v1.2H0z" fill="#c5acd9"/><path d="M0 161h1v1.2H0z" fill="#7d43a9"/></svg><svg x="639.34" y="63.20" width="31.48" height="338.80" viewBox="0 0 1 162" preserveAspectRatio="none" shape-rendering="crispEdges"><path d="M0 0h1v1.2H0z" fill="#fdac3d"/><path d="M0 1h1v1.2H0z" fill="#e8ddef"/><path d="M0 2h1v1.2H0z" fill="#fec16e"/><path d="M0 3h1v1.2H0z" fill="#fda934"/><path d="M0 4h1v1.2H0z" fill="#e7dcef"/><path d="M0 5h1v1.2H0z" fill="#fda327"/><path d="M0 6h1v1.2H0z" fill="#fda020"/><path d="M0 7h1v1.2H0z" fill="#feb148"/><path d="M0 8h1v1.2H0z" fill="#fedbaa"/><path d="M0 9h1v1.2H0z" fill="#fed397"/><path d="M0 10h1v1.2H0z" fill="#fd9910"/><path d="M0 11h1v1.2H0z" fill="#fed194"/><path d="M0 12h1v1.2H0z" fill="#7030a0"/><path d="M0 13h1v1.2H0z" fill="#7334a2"/><path d="M0 14h1v1.2H0z" fill="#fda52b"/><path d="M0 15h1v1.2H0z" fill="#feba5d"/><path d="M0 16h1v1.2H0z" fill="#fd9608"/><path d="M0 17h1v1.2H0z" fill="#fec371"/><path d="M0 18h1v1.2H0z" fill="#febb5f"/><path d="M0 19h1v1.2H0z" fill="#ffe6c4"/><path d="M0 20h1v1.2H0z" fill="#fdae41"/><path d="M0 21h1v1.2H0z" fill="#fec980"/><path d="M0 22h1v1.2H0z" fill="#feca83"/><path d="M0 23h1v1.2H0z" fill="#fda224"/><path d="M0 24h1v1.2H0z" fill="#fd9608"/><path d="M0 25h1v1.2H0z" fill="#fee5c1"/><path d="M0 26h1v1.2H0z" fill="#fda833"/><path d="M0 27h1v1.2H0z" fill="#fda934"/><path d="M0 28h1v1.2H0z" fill="#fd9f1d"/><path d="M0 29h1v1.2H0z" fill="#fd9b13"/><path d="M0 30h1v1.2H0z" fill="#fda934"/><path d="M0 31h1v1.2H0z" fill="#fff4e5"/><path d="M0 32h1v1.2H0z" fill="#ffe5c3"/><path d="M0 33h1v1.2H0z" fill="#f1ebf6"/><path d="M0 34h1v1.2H0z" fill="#fdb044"/><path d="M0 35h1v1.2H0z" fill="#fee1b9"/><path d="M0 36h1v1.2H0z" fill="#fdaa36"/><path d="M0 37h1v1.2H0z" fill="#fda42a"/><path d="M0 38h1v1.2H0z" fill="#f7f3fa"/><path d="M0 39h1v1.2H0z" fill="#fed7a0"/><path d="M0 40h1v1.2H0z" fill="#febe66"/><path d="M0 41h1v1.2H0z" fill="#ffe6c5"/><path d="M0 42h1v1.2H0z" fill="#fda52c"/><path d="M0 43h1v1.2H0z" fill="#fff6e9"/><path d="M0 44h1v1.2H0z" fill="#fda122"/><path d="M0 45h1v1.2H0z" fill="#fda121"/><path d="M0 46h1v1.2H0z" fill="#fff2e0"/><path d="M0 47h1v1.2H0z" fill="#eee6f4"/><path d="M0 48h1v1.2H0z" fill="#fbf9fc"/><path d="M0 49h1v1.2H0z" fill="#ffe9cc"/><path d="M0 50h1v1.2H0z" fill="#fecb85"/><path d="M0 51h1v1.2H0z" fill="#fd9d18"/><path d="M0 52h1v1.2H0z" fill="#fdad3d"/><path d="M0 53h1v1.2H0z" fill="#fdad3e"/><path d="M0 54h1v1.2H0z" fill="#fec87d"/><path d="M0 55h1v1.2H0z" fill="#feb34d"/><path d="M0 56h1v1.2H0z" fill="#fec06b"/><path d="M0 57h1v1.2H0z" fill="#eae0f1"/><path d="M0 58h1v1.2H0z" fill="#fd9608"/><path d="M0 59h1v1.2H0z" fill="#7030a0"/><path d="M0 60h1v1.2H0z" fill="#feb44e"/><path d="M0 61h1v1.2H0z" fill="#fdaf43"/><path d="M0 62h1v1.2H0z" fill="#febd64"/><path d="M0 63h1v1.2H0z" fill="#fed7a1"/><path d="M0 64h1v1.2H0z" fill="#fee1b9"/><path d="M0 65h1v1.2H0z" fill="#fee0b5"/><path d="M0 66h1v1.2H0z" fill="#7030a0"/><path d="M0 67h1v1.2H0z" fill="#fda832"/><path d="M0 68h1v1.2H0z" fill="#fdaa37"/><path d="M0 69h1v1.2H0z" fill="#fff0db"/><path d="M0 70h1v1.2H0z" fill="#fffbf6"/><path d="M0 71h1v1.2H0z" fill="#fff8ef"/><path d="M0 72h1v1.2H0z" fill="#fffffe"/><path d="M0 73h1v1.2H0z" fill="#fd9608"/><path d="M0 74h1v1.2H0z" fill="#fdb046"/><path d="M0 75h1v1.2H0z" fill="#feb756"/><path d="M0 76h1v1.2H0z" fill="#ede5f3"/><path d="M0 77h1v1.2H0z" fill="#feb24a"/><path d="M0 78h1v1.2H0z" fill="#ffe7c8"/><path d="M0 79h1v1.2H0z" fill="#fff4e4"/><path d="M0 80h1v1.2H0z" fill="#ede5f3"/><path d="M0 81h1v1.2H0z" fill="#af8cca"/><path d="M0 82h1v1.2H0z" fill="#864fae"/><path d="M0 83h1v1.2H0z" fill="#fec576"/><path d="M0 84h1v1.2H0z" fill="#7030a0"/><path d="M0 85h1v1.2H0z" fill="#fd9608"/><path d="M0 86h1v1.2H0z" fill="#fd9c16"/><path d="M0 87h1v1.2H0z" fill="#7030a0"/><path d="M0 88h1v1.2H0z" fill="#9667b9"/><path d="M0 89h1v1.2H0z" fill="#ad88c9"/><path d="M0 90h1v1.2H0z" fill="#7c42a8"/><path d="M0 91h1v1.2H0z" fill="#bb9cd2"/><path d="M0 92h1v1.2H0z" fill="#feb24a"/><path d="M0 93h1v1.2H0z" fill="#fda224"/><path d="M0 94h1v1.2H0z" fill="#fd9e1a"/><path d="M0 95h1v1.2H0z" fill="#feb95b"/><path d="M0 96h1v1.2H0z" fill="#fd9910"/><path d="M0 97h1v1.2H0z" fill="#feb859"/><path d="M0 98h1v1.2H0z" fill="#fee1b9"/><path d="M0 99h1v1.2H0z" fill="#feca81"/><path d="M0 100h1v1.2H0z" fill="#fda225"/><path d="M0 101h1v1.2H0z" fill="#7030a0"/><path d="M0 102h1v1.2H0z" fill="#febf68"/><path d="M0 103h1v1.2H0z" fill="#7030a0"/><path d="M0 104h1v1.2H0z" fill="#ffffff"/><path d="M0 105h1v1.2H0z" fill="#fffcf8"/><path d="M0 106h1v1.2H0z" fill="#feb756"/><path d="M0 107h1v1.2H0z" fill="#fdb046"/><path d="M0 108h1v1.2H0z" fill="#f4eff8"/><path d="M0 109h1v1.2H0z" fill="#fec270"/><path d="M0 110h1v1.2H0z" fill="#fda326"/><path d="M0 111h1v1.2H0z" fill="#d1bde1"/><path d="M0 112h1v1.2H0z" fill="#c1a5d6"/><path d="M0 113h1v1.2H0z" fill="#fd9609"/><path d="M0 114h1v1.2H0z" fill="#a780c5"/><path d="M0 115h1v1.2H0z" fill="#fff0dc"/><path d="M0 116h1v1.2H0z" fill="#febb5f"/><path d="M0 117h1v1.2H0z" fill="#9667b9"/><path d="M0 118h1v1.2H0z" fill="#fd970a"/><path d="M0 119h1v1.2H0z" fill="#c9b0db"/><path d="M0 120h1v1.2H0z" fill="#eae0f1"/><path d="M0 121h1v1.2H0z" fill="#9f75bf"/><path d="M0 122h1v1.2H0z" fill="#bd9fd3"/><path d="M0 123h1v1.2H0z" fill="#dfd0ea"/><path d="M0 124h1v1.2H0z" fill="#b899d0"/><path d="M0 125h1v1.2H0z" fill="#c2a7d6"/><path d="M0 126h1v1.2H0z" fill="#c1a6d6"/><path d="M0 127h1v1.2H0z" fill="#ece3f2"/><path d="M0 128h1v1.2H0z" fill="#e9dff0"/><path d="M0 129h1v1.2H0z" fill="#d7c5e5"/><path d="M0 130h1v1.2H0z" fill="#d4c1e3"/><path d="M0 131h1v1.2H0z" fill="#773aa4"/><path d="M0 132h1v1.2H0z" fill="#b492cd"/><path d="M0 133h1v1.2H0z" fill="#7e45aa"/><path d="M0 134h1v1.2H0z" fill="#a77fc4"/><path d="M0 135h1v1.2H0z" fill="#b493cd"/><path d="M0 136h1v1.2H0z" fill="#bda0d3"/><path d="M0 137h1v1.2H0z" fill="#d6c4e4"/><path d="M0 138h1v1.2H0z" fill="#bd9fd3"/><path d="M0 139h1v1.2H0z" fill="#bd9fd3"/><path d="M0 140h1v1.2H0z" fill="#e3d6ec"/><path d="M0 141h1v1.2H0z" fill="#d7c5e4"/><path d="M0 142h1v1.2H0z" fill="#bc9dd2"/><path d="M0 143h1v1.2H0z" fill="#ccb6dd"/><path d="M0 144h1v1.2H0z" fill="#7e44a9"/><path d="M0 145h1v1.2H0z" fill="#ba9bd1"/><path d="M0 146h1v1.2H0z" fill="#a983c6"/><path d="M0 147h1v1.2H0z" fill="#7030a0"/><path d="M0 148h1v1.2H0z" fill="#c9b1db"/><path d="M0 149h1v1.2H0z" fill="#ffe5c2"/><path d="M0 150h1v1.2H0z" fill="#b391cd"/><path d="M0 151h1v1.2H0z" fill="#fbf9fc"/><path d="M0 152h1v1.2H0z" fill="#a982c6"/><path d="M0 153h1v1.2H0z" fill="#986aba"/><path d="M0 154h1v1.2H0z" fill="#e0d2ea"/><path d="M0 155h1v1.2H0z" fill="#c8afda"/><path d="M0 156h1v1.2H0z" fill="#c0a4d5"/><path d="M0 157h1v1.2H0z" fill="#bc9ed2"/><path d="M0 158h1v1.2H0z" fill="#c2a7d7"/><path d="M0 159h1v1.2H0z" fill="#7030a0"/><path d="M0 160h1v1.2H0z" fill="#8b58b2"/><path d="M0 161h1v1.2H0z" fill="#824aac"/></svg><svg x="670.57" y="63.20" width="31.48" height="338.80" viewBox="0 0 1 162" preserveAspectRatio="none" shape-rendering="crispEdges"><path d="M0 0h1v1.2H0z" fill="#fd9608"/><path d="M0 1h1v1.2H0z" fill="#fd970b"/><path d="M0 2h1v1.2H0z" fill="#fed7a1"/><path d="M0 3h1v1.2H0z" fill="#fed194"/><path d="M0 4h1v1.2H0z" fill="#fec577"/><path d="M0 5h1v1.2H0z" fill="#fda833"/><path d="M0 6h1v1.2H0z" fill="#fda326"/><path d="M0 7h1v1.2H0z" fill="#fd9608"/><path d="M0 8h1v1.2H0z" fill="#fd9608"/><path d="M0 9h1v1.2H0z" fill="#fd9608"/><path d="M0 10h1v1.2H0z" fill="#fda936"/><path d="M0 11h1v1.2H0z" fill="#fd9c15"/><path d="M0 12h1v1.2H0z" fill="#ffecd2"/><path d="M0 13h1v1.2H0z" fill="#ffe7c6"/><path d="M0 14h1v1.2H0z" fill="#fecd8a"/><path d="M0 15h1v1.2H0z" fill="#fee4bf"/><path d="M0 16h1v1.2H0z" fill="#fec87d"/><path d="M0 17h1v1.2H0z" fill="#feb959"/><path d="M0 18h1v1.2H0z" fill="#ffefda"/><path d="M0 19h1v1.2H0z" fill="#fff2e1"/><path d="M0 20h1v1.2H0z" fill="#fd9608"/><path d="M0 21h1v1.2H0z" fill="#fdac3c"/><path d="M0 22h1v1.2H0z" fill="#fff3e3"/><path d="M0 23h1v1.2H0z" fill="#ffeacd"/><path d="M0 24h1v1.2H0z" fill="#fece8c"/><path d="M0 25h1v1.2H0z" fill="#fec576"/><path d="M0 26h1v1.2H0z" fill="#fda832"/><path d="M0 27h1v1.2H0z" fill="#feb24b"/><path d="M0 28h1v1.2H0z" fill="#fdae40"/><path d="M0 29h1v1.2H0z" fill="#fda224"/><path d="M0 30h1v1.2H0z" fill="#febe67"/><path d="M0 31h1v1.2H0z" fill="#ffe6c4"/><path d="M0 32h1v1.2H0z" fill="#fd9f1d"/><path d="M0 33h1v1.2H0z" fill="#f8f4fa"/><path d="M0 34h1v1.2H0z" fill="#f6f3f9"/><path d="M0 35h1v1.2H0z" fill="#ffe8c9"/><path d="M0 36h1v1.2H0z" fill="#fee1b9"/><path d="M0 37h1v1.2H0z" fill="#fecb85"/><path d="M0 38h1v1.2H0z" fill="#ffebd1"/><path d="M0 39h1v1.2H0z" fill="#fec678"/><path d="M0 40h1v1.2H0z" fill="#fec06c"/><path d="M0 41h1v1.2H0z" fill="#febd65"/><path d="M0 42h1v1.2H0z" fill="#feb24a"/><path d="M0 43h1v1.2H0z" fill="#fec271"/><path d="M0 44h1v1.2H0z" fill="#fecb86"/><path d="M0 45h1v1.2H0z" fill="#feb34d"/><path d="M0 46h1v1.2H0z" fill="#7233a1"/><path d="M0 47h1v1.2H0z" fill="#fd9608"/><path d="M0 48h1v1.2H0z" fill="#7030a0"/><path d="M0 49h1v1.2H0z" fill="#fd980c"/><path d="M0 50h1v1.2H0z" fill="#fd9608"/><path d="M0 51h1v1.2H0z" fill="#fffcf8"/><path d="M0 52h1v1.2H0z" fill="#fec87d"/><path d="M0 53h1v1.2H0z" fill="#9c70bd"/><path d="M0 54h1v1.2H0z" fill="#fec679"/><path d="M0 55h1v1.2H0z" fill="#b898d0"/><path d="M0 56h1v1.2H0z" fill="#fbf9fc"/><path d="M0 57h1v1.2H0z" fill="#febc61"/><path d="M0 58h1v1.2H0z" fill="#ffebd1"/><path d="M0 59h1v1.2H0z" fill="#fdae3f"/><path d="M0 60h1v1.2H0z" fill="#a177c0"/><path d="M0 61h1v1.2H0z" fill="#fedeb2"/><path d="M0 62h1v1.2H0z" fill="#fedfb5"/><path d="M0 63h1v1.2H0z" fill="#fedfb4"/><path d="M0 64h1v1.2H0z" fill="#ffecd1"/><path d="M0 65h1v1.2H0z" fill="#febe66"/><path d="M0 66h1v1.2H0z" fill="#f5f1f9"/><path d="M0 67h1v1.2H0z" fill="#ffffff"/><path d="M0 68h1v1.2H0z" fill="#fffcf7"/><path d="M0 69h1v1.2H0z" fill="#fed8a4"/><path d="M0 70h1v1.2H0z" fill="#fed192"/><path d="M0 71h1v1.2H0z" fill="#fec87c"/><path d="M0 72h1v1.2H0z" fill="#dccce7"/><path d="M0 73h1v1.2H0z" fill="#cbb4dc"/><path d="M0 74h1v1.2H0z" fill="#7e45aa"/><path d="M0 75h1v1.2H0z" fill="#fd9b14"/><path d="M0 76h1v1.2H0z" fill="#b594ce"/><path d="M0 77h1v1.2H0z" fill="#fecf8f"/><path d="M0 78h1v1.2H0z" fill="#fec981"/><path d="M0 79h1v1.2H0z" fill="#fdb045"/><path d="M0 80h1v1.2H0z" fill="#d5c3e3"/><path d="M0 81h1v1.2H0z" fill="#9768ba"/><path d="M0 82h1v1.2H0z" fill="#bfa3d5"/><path d="M0 83h1v1.2H0z" fill="#7435a3"/><path d="M0 84h1v1.2H0z" fill="#f4eff8"/><path d="M0 85h1v1.2H0z" fill="#fff3e2"/><path d="M0 86h1v1.2H0z" fill="#f7f4fa"/><path d="M0 87h1v1.2H0z" fill="#febb60"/><path d="M0 88h1v1.2H0z" fill="#d6c3e4"/><path d="M0 89h1v1.2H0z" fill="#f1eaf6"/><path d="M0 90h1v1.2H0z" fill="#ffebd0"/><path d="M0 91h1v1.2H0z" fill="#fffffe"/><path d="M0 92h1v1.2H0z" fill="#fffbf5"/><path d="M0 93h1v1.2H0z" fill="#ffedd4"/><path d="M0 94h1v1.2H0z" fill="#feddaf"/><path d="M0 95h1v1.2H0z" fill="#ded0e9"/><path d="M0 96h1v1.2H0z" fill="#f0eaf5"/><path d="M0 97h1v1.2H0z" fill="#aa85c7"/><path d="M0 98h1v1.2H0z" fill="#b391cc"/><path d="M0 99h1v1.2H0z" fill="#7030a0"/><path d="M0 100h1v1.2H0z" fill="#fecc88"/><path d="M0 101h1v1.2H0z" fill="#feb95b"/><path d="M0 102h1v1.2H0z" fill="#fd9608"/><path d="M0 103h1v1.2H0z" fill="#cab2dc"/><path d="M0 104h1v1.2H0z" fill="#ccb6dd"/><path d="M0 105h1v1.2H0z" fill="#7030a0"/><path d="M0 106h1v1.2H0z" fill="#ddcde8"/><path d="M0 107h1v1.2H0z" fill="#ceb8de"/><path d="M0 108h1v1.2H0z" fill="#f3eef7"/><path d="M0 109h1v1.2H0z" fill="#8955b1"/><path d="M0 110h1v1.2H0z" fill="#7030a0"/><path d="M0 111h1v1.2H0z" fill="#fffbf6"/><path d="M0 112h1v1.2H0z" fill="#fcfbfd"/><path d="M0 113h1v1.2H0z" fill="#fff6ea"/><path d="M0 114h1v1.2H0z" fill="#fffaf2"/><path d="M0 115h1v1.2H0z" fill="#fffffe"/><path d="M0 116h1v1.2H0z" fill="#fed9a6"/><path d="M0 117h1v1.2H0z" fill="#e5daee"/><path d="M0 118h1v1.2H0z" fill="#fbf9fc"/><path d="M0 119h1v1.2H0z" fill="#fffcf8"/><path d="M0 120h1v1.2H0z" fill="#e9dff0"/><path d="M0 121h1v1.2H0z" fill="#e6daee"/><path d="M0 122h1v1.2H0z" fill="#a37ac2"/><path d="M0 123h1v1.2H0z" fill="#d9c8e6"/><path d="M0 124h1v1.2H0z" fill="#d3c0e2"/><path d="M0 125h1v1.2H0z" fill="#7030a0"/><path d="M0 126h1v1.2H0z" fill="#7a3ea7"/><path d="M0 127h1v1.2H0z" fill="#ede5f3"/><path d="M0 128h1v1.2H0z" fill="#b797cf"/><path d="M0 129h1v1.2H0z" fill="#b392cd"/><path d="M0 130h1v1.2H0z" fill="#7030a0"/><path d="M0 131h1v1.2H0z" fill="#ab86c8"/><path d="M0 132h1v1.2H0z" fill="#996bbb"/><path d="M0 133h1v1.2H0z" fill="#b898d0"/><path d="M0 134h1v1.2H0z" fill="#fedfb5"/><path d="M0 135h1v1.2H0z" fill="#feb34c"/><path d="M0 136h1v1.2H0z" fill="#793da6"/><path d="M0 137h1v1.2H0z" fill="#7c42a8"/><path d="M0 138h1v1.2H0z" fill="#fec67a"/><path d="M0 139h1v1.2H0z" fill="#783ba5"/><path d="M0 140h1v1.2H0z" fill="#783ba5"/><path d="M0 141h1v1.2H0z" fill="#fbf9fc"/><path d="M0 142h1v1.2H0z" fill="#a77fc4"/><path d="M0 143h1v1.2H0z" fill="#7233a1"/><path d="M0 144h1v1.2H0z" fill="#a278c1"/><path d="M0 145h1v1.2H0z" fill="#8e5cb4"/><path d="M0 146h1v1.2H0z" fill="#ceb8de"/><path d="M0 147h1v1.2H0z" fill="#7131a1"/><path d="M0 148h1v1.2H0z" fill="#b594ce"/><path d="M0 149h1v1.2H0z" fill="#fbf9fc"/><path d="M0 150h1v1.2H0z" fill="#fff5e6"/><path d="M0 151h1v1.2H0z" fill="#b08cca"/><path d="M0 152h1v1.2H0z" fill="#b796cf"/><path d="M0 153h1v1.2H0z" fill="#ad88c8"/><path d="M0 154h1v1.2H0z" fill="#7030a0"/><path d="M0 155h1v1.2H0z" fill="#cdb6dd"/><path d="M0 156h1v1.2H0z" fill="#a278c1"/><path d="M0 157h1v1.2H0z" fill="#7739a4"/><path d="M0 158h1v1.2H0z" fill="#c8b0db"/><path d="M0 159h1v1.2H0z" fill="#7030a0"/><path d="M0 160h1v1.2H0z" fill="#9262b7"/><path d="M0 161h1v1.2H0z" fill="#8d5ab3"/></svg>
<svg x="886.00" y="65.80" width="30.96" height="334.20" viewBox="0 0 1 162" preserveAspectRatio="none" shape-rendering="crispEdges"><path d="M0 0h1v1.2H0z" fill="#e7f1e1"/><path d="M0 1h1v1.2H0z" fill="#b28fcc"/><path d="M0 2h1v1.2H0z" fill="#ab85c7"/><path d="M0 3h1v1.2H0z" fill="#c3a8d7"/><path d="M0 4h1v1.2H0z" fill="#834bac"/><path d="M0 5h1v1.2H0z" fill="#6faf4c"/><path d="M0 6h1v1.2H0z" fill="#d3c0e2"/><path d="M0 7h1v1.2H0z" fill="#bddaad"/><path d="M0 8h1v1.2H0z" fill="#6faf4d"/><path d="M0 9h1v1.2H0z" fill="#d3e7c9"/><path d="M0 10h1v1.2H0z" fill="#8fc174"/><path d="M0 11h1v1.2H0z" fill="#996bbb"/><path d="M0 12h1v1.2H0z" fill="#c4aad8"/><path d="M0 13h1v1.2H0z" fill="#87bc6a"/><path d="M0 14h1v1.2H0z" fill="#6aac46"/><path d="M0 15h1v1.2H0z" fill="#6aac46"/><path d="M0 16h1v1.2H0z" fill="#e3efdc"/><path d="M0 17h1v1.2H0z" fill="#c0dcb1"/><path d="M0 18h1v1.2H0z" fill="#7030a0"/><path d="M0 19h1v1.2H0z" fill="#996cbb"/><path d="M0 20h1v1.2H0z" fill="#ba9cd1"/><path d="M0 21h1v1.2H0z" fill="#7030a0"/><path d="M0 22h1v1.2H0z" fill="#f3f8f0"/><path d="M0 23h1v1.2H0z" fill="#ccb5dd"/><path d="M0 24h1v1.2H0z" fill="#af8bca"/><path d="M0 25h1v1.2H0z" fill="#b28fcc"/><path d="M0 26h1v1.2H0z" fill="#7030a0"/><path d="M0 27h1v1.2H0z" fill="#8bbe6f"/><path d="M0 28h1v1.2H0z" fill="#c8e0ba"/><path d="M0 29h1v1.2H0z" fill="#d2e6c7"/><path d="M0 30h1v1.2H0z" fill="#a0ca89"/><path d="M0 31h1v1.2H0z" fill="#7db75d"/><path d="M0 32h1v1.2H0z" fill="#6aac46"/><path d="M0 33h1v1.2H0z" fill="#76b355"/><path d="M0 34h1v1.2H0z" fill="#c8afda"/><path d="M0 35h1v1.2H0z" fill="#c7e0b9"/><path d="M0 36h1v1.2H0z" fill="#8a56b1"/><path d="M0 37h1v1.2H0z" fill="#ceb8de"/><path d="M0 38h1v1.2H0z" fill="#bfa2d4"/><path d="M0 39h1v1.2H0z" fill="#8a56b1"/><path d="M0 40h1v1.2H0z" fill="#e6daee"/><path d="M0 41h1v1.2H0z" fill="#d6e8cc"/><path d="M0 42h1v1.2H0z" fill="#cbb3dc"/><path d="M0 43h1v1.2H0z" fill="#9b6ebc"/><path d="M0 44h1v1.2H0z" fill="#f4f9f1"/><path d="M0 45h1v1.2H0z" fill="#fdfcfe"/><path d="M0 46h1v1.2H0z" fill="#c1dcb2"/><path d="M0 47h1v1.2H0z" fill="#c5dfb7"/><path d="M0 48h1v1.2H0z" fill="#b594ce"/><path d="M0 49h1v1.2H0z" fill="#d4c1e2"/><path d="M0 50h1v1.2H0z" fill="#94c47b"/><path d="M0 51h1v1.2H0z" fill="#85bb67"/><path d="M0 52h1v1.2H0z" fill="#c0a3d5"/><path d="M0 53h1v1.2H0z" fill="#7cb65d"/><path d="M0 54h1v1.2H0z" fill="#a7ce92"/><path d="M0 55h1v1.2H0z" fill="#a37ac2"/><path d="M0 56h1v1.2H0z" fill="#a982c6"/><path d="M0 57h1v1.2H0z" fill="#f8f5fa"/><path d="M0 58h1v1.2H0z" fill="#9666b9"/><path d="M0 59h1v1.2H0z" fill="#8f5cb4"/><path d="M0 60h1v1.2H0z" fill="#6aac46"/><path d="M0 61h1v1.2H0z" fill="#8abe6d"/><path d="M0 62h1v1.2H0z" fill="#d3e7c9"/><path d="M0 63h1v1.2H0z" fill="#6aac46"/><path d="M0 64h1v1.2H0z" fill="#8751af"/><path d="M0 65h1v1.2H0z" fill="#ccb5dd"/><path d="M0 66h1v1.2H0z" fill="#8d5ab3"/><path d="M0 67h1v1.2H0z" fill="#fbf9fc"/><path d="M0 68h1v1.2H0z" fill="#ab85c7"/><path d="M0 69h1v1.2H0z" fill="#854eae"/><path d="M0 70h1v1.2H0z" fill="#d9c8e6"/><path d="M0 71h1v1.2H0z" fill="#d6c3e4"/><path d="M0 72h1v1.2H0z" fill="#b493cd"/><path d="M0 73h1v1.2H0z" fill="#ba9bd1"/><path d="M0 74h1v1.2H0z" fill="#cbb4dd"/><path d="M0 75h1v1.2H0z" fill="#7537a3"/><path d="M0 76h1v1.2H0z" fill="#84ba66"/><path d="M0 77h1v1.2H0z" fill="#dcebd3"/><path d="M0 78h1v1.2H0z" fill="#cbe2be"/><path d="M0 79h1v1.2H0z" fill="#77b356"/><path d="M0 80h1v1.2H0z" fill="#e9dff0"/><path d="M0 81h1v1.2H0z" fill="#a57cc3"/><path d="M0 82h1v1.2H0z" fill="#78b458"/><path d="M0 83h1v1.2H0z" fill="#8ec073"/><path d="M0 84h1v1.2H0z" fill="#a6ce91"/><path d="M0 85h1v1.2H0z" fill="#bad9aa"/><path d="M0 86h1v1.2H0z" fill="#91c277"/><path d="M0 87h1v1.2H0z" fill="#e4d8ed"/><path d="M0 88h1v1.2H0z" fill="#8b57b2"/><path d="M0 89h1v1.2H0z" fill="#7335a2"/><path d="M0 90h1v1.2H0z" fill="#7030a0"/><path d="M0 91h1v1.2H0z" fill="#7030a0"/><path d="M0 92h1v1.2H0z" fill="#7030a0"/><path d="M0 93h1v1.2H0z" fill="#b6d6a4"/><path d="M0 94h1v1.2H0z" fill="#6aac46"/><path d="M0 95h1v1.2H0z" fill="#9667b9"/><path d="M0 96h1v1.2H0z" fill="#bfa3d5"/><path d="M0 97h1v1.2H0z" fill="#8d5ab3"/><path d="M0 98h1v1.2H0z" fill="#8d5ab3"/><path d="M0 99h1v1.2H0z" fill="#7030a0"/><path d="M0 100h1v1.2H0z" fill="#7b3fa7"/><path d="M0 101h1v1.2H0z" fill="#88bd6c"/><path d="M0 102h1v1.2H0z" fill="#7db75e"/><path d="M0 103h1v1.2H0z" fill="#e9e0f1"/><path d="M0 104h1v1.2H0z" fill="#7030a0"/><path d="M0 105h1v1.2H0z" fill="#7e44a9"/><path d="M0 106h1v1.2H0z" fill="#f5f1f9"/><path d="M0 107h1v1.2H0z" fill="#8a56b1"/><path d="M0 108h1v1.2H0z" fill="#b390cc"/><path d="M0 109h1v1.2H0z" fill="#d1bce0"/><path d="M0 110h1v1.2H0z" fill="#c1dcb2"/><path d="M0 111h1v1.2H0z" fill="#c3deb5"/><path d="M0 112h1v1.2H0z" fill="#6aac46"/><path d="M0 113h1v1.2H0z" fill="#7030a0"/><path d="M0 114h1v1.2H0z" fill="#eae1f1"/><path d="M0 115h1v1.2H0z" fill="#9ac782"/><path d="M0 116h1v1.2H0z" fill="#a075c0"/><path d="M0 117h1v1.2H0z" fill="#6aac46"/><path d="M0 118h1v1.2H0z" fill="#f4eff8"/><path d="M0 119h1v1.2H0z" fill="#86bc69"/><path d="M0 120h1v1.2H0z" fill="#e4d8ed"/><path d="M0 121h1v1.2H0z" fill="#d7c5e4"/><path d="M0 122h1v1.2H0z" fill="#d0bbe0"/><path d="M0 123h1v1.2H0z" fill="#c3ddb4"/><path d="M0 124h1v1.2H0z" fill="#b9d8a8"/><path d="M0 125h1v1.2H0z" fill="#b18ecb"/><path d="M0 126h1v1.2H0z" fill="#bb9dd2"/><path d="M0 127h1v1.2H0z" fill="#ac87c8"/><path d="M0 128h1v1.2H0z" fill="#8047aa"/><path d="M0 129h1v1.2H0z" fill="#b594ce"/><path d="M0 130h1v1.2H0z" fill="#aad095"/><path d="M0 131h1v1.2H0z" fill="#6aac46"/><path d="M0 132h1v1.2H0z" fill="#6aac46"/><path d="M0 133h1v1.2H0z" fill="#a1cb8a"/><path d="M0 134h1v1.2H0z" fill="#92c277"/><path d="M0 135h1v1.2H0z" fill="#7eb75e"/><path d="M0 136h1v1.2H0z" fill="#915fb6"/><path d="M0 137h1v1.2H0z" fill="#add199"/><path d="M0 138h1v1.2H0z" fill="#add19a"/><path d="M0 139h1v1.2H0z" fill="#b8d7a6"/><path d="M0 140h1v1.2H0z" fill="#a5cd90"/><path d="M0 141h1v1.2H0z" fill="#cde3c1"/><path d="M0 142h1v1.2H0z" fill="#bfdbb0"/><path d="M0 143h1v1.2H0z" fill="#a780c5"/><path d="M0 144h1v1.2H0z" fill="#d7e9cd"/><path d="M0 145h1v1.2H0z" fill="#f2f8ef"/><path d="M0 146h1v1.2H0z" fill="#996cbc"/><path d="M0 147h1v1.2H0z" fill="#aa84c7"/><path d="M0 148h1v1.2H0z" fill="#c3a8d7"/><path d="M0 149h1v1.2H0z" fill="#7eb75f"/><path d="M0 150h1v1.2H0z" fill="#74b253"/><path d="M0 151h1v1.2H0z" fill="#9666b9"/><path d="M0 152h1v1.2H0z" fill="#8954b0"/><path d="M0 153h1v1.2H0z" fill="#fbfdf9"/><path d="M0 154h1v1.2H0z" fill="#b1d49e"/><path d="M0 155h1v1.2H0z" fill="#c5dfb7"/><path d="M0 156h1v1.2H0z" fill="#fefefe"/><path d="M0 157h1v1.2H0z" fill="#e4f0dd"/><path d="M0 158h1v1.2H0z" fill="#dfedd7"/><path d="M0 159h1v1.2H0z" fill="#a5cd8f"/><path d="M0 160h1v1.2H0z" fill="#6eae4b"/><path d="M0 161h1v1.2H0z" fill="#a177c1"/></svg><svg x="916.71" y="65.80" width="30.96" height="334.20" viewBox="0 0 1 162" preserveAspectRatio="none" shape-rendering="crispEdges"><path d="M0 0h1v1.2H0z" fill="#7030a0"/><path d="M0 1h1v1.2H0z" fill="#7b3fa7"/><path d="M0 2h1v1.2H0z" fill="#7030a0"/><path d="M0 3h1v1.2H0z" fill="#c1a5d6"/><path d="M0 4h1v1.2H0z" fill="#7639a4"/><path d="M0 5h1v1.2H0z" fill="#b899d0"/><path d="M0 6h1v1.2H0z" fill="#ae8ac9"/><path d="M0 7h1v1.2H0z" fill="#a982c6"/><path d="M0 8h1v1.2H0z" fill="#d5c2e3"/><path d="M0 9h1v1.2H0z" fill="#834cad"/><path d="M0 10h1v1.2H0z" fill="#7030a0"/><path d="M0 11h1v1.2H0z" fill="#cfb9df"/><path d="M0 12h1v1.2H0z" fill="#824aac"/><path d="M0 13h1v1.2H0z" fill="#ab86c7"/><path d="M0 14h1v1.2H0z" fill="#a67ec4"/><path d="M0 15h1v1.2H0z" fill="#8e5cb4"/><path d="M0 16h1v1.2H0z" fill="#8650af"/><path d="M0 17h1v1.2H0z" fill="#9f75c0"/><path d="M0 18h1v1.2H0z" fill="#b08dcb"/><path d="M0 19h1v1.2H0z" fill="#a881c5"/><path d="M0 20h1v1.2H0z" fill="#8954b1"/><path d="M0 21h1v1.2H0z" fill="#8b58b2"/><path d="M0 22h1v1.2H0z" fill="#f2ecf6"/><path d="M0 23h1v1.2H0z" fill="#fdfcfe"/><path d="M0 24h1v1.2H0z" fill="#ffffff"/><path d="M0 25h1v1.2H0z" fill="#c6dfb8"/><path d="M0 26h1v1.2H0z" fill="#d6c4e4"/><path d="M0 27h1v1.2H0z" fill="#7030a0"/><path d="M0 28h1v1.2H0z" fill="#9c6fbd"/><path d="M0 29h1v1.2H0z" fill="#9c6fbd"/><path d="M0 30h1v1.2H0z" fill="#9667b9"/><path d="M0 31h1v1.2H0z" fill="#a37ac2"/><path d="M0 32h1v1.2H0z" fill="#7030a0"/><path d="M0 33h1v1.2H0z" fill="#844dad"/><path d="M0 34h1v1.2H0z" fill="#83ba65"/><path d="M0 35h1v1.2H0z" fill="#9e72be"/><path d="M0 36h1v1.2H0z" fill="#8e5cb4"/><path d="M0 37h1v1.2H0z" fill="#b28fcc"/><path d="M0 38h1v1.2H0z" fill="#c1a5d6"/><path d="M0 39h1v1.2H0z" fill="#9768ba"/><path d="M0 40h1v1.2H0z" fill="#9b6ebc"/><path d="M0 41h1v1.2H0z" fill="#e0d2ea"/><path d="M0 42h1v1.2H0z" fill="#e1d3eb"/><path d="M0 43h1v1.2H0z" fill="#af8cca"/><path d="M0 44h1v1.2H0z" fill="#ad88c8"/><path d="M0 45h1v1.2H0z" fill="#6aac46"/><path d="M0 46h1v1.2H0z" fill="#b8d8a7"/><path d="M0 47h1v1.2H0z" fill="#c7e0ba"/><path d="M0 48h1v1.2H0z" fill="#b99ad1"/><path d="M0 49h1v1.2H0z" fill="#bd9fd3"/><path d="M0 50h1v1.2H0z" fill="#a67ec4"/><path d="M0 51h1v1.2H0z" fill="#9f74bf"/><path d="M0 52h1v1.2H0z" fill="#d0bbe0"/><path d="M0 53h1v1.2H0z" fill="#b797cf"/><path d="M0 54h1v1.2H0z" fill="#b493cd"/><path d="M0 55h1v1.2H0z" fill="#a982c6"/><path d="M0 56h1v1.2H0z" fill="#9d72be"/><path d="M0 57h1v1.2H0z" fill="#d1bce0"/><path d="M0 58h1v1.2H0z" fill="#9e72be"/><path d="M0 59h1v1.2H0z" fill="#d9ead0"/><path d="M0 60h1v1.2H0z" fill="#7030a0"/><path d="M0 61h1v1.2H0z" fill="#7233a1"/><path d="M0 62h1v1.2H0z" fill="#7eb75f"/><path d="M0 63h1v1.2H0z" fill="#bd9fd3"/><path d="M0 64h1v1.2H0z" fill="#c9b1db"/><path d="M0 65h1v1.2H0z" fill="#d4e7c9"/><path d="M0 66h1v1.2H0z" fill="#a177c1"/><path d="M0 67h1v1.2H0z" fill="#88bd6c"/><path d="M0 68h1v1.2H0z" fill="#d0e5c5"/><path d="M0 69h1v1.2H0z" fill="#add199"/><path d="M0 70h1v1.2H0z" fill="#7030a0"/><path d="M0 71h1v1.2H0z" fill="#a881c5"/><path d="M0 72h1v1.2H0z" fill="#aa85c7"/><path d="M0 73h1v1.2H0z" fill="#cab2dc"/><path d="M0 74h1v1.2H0z" fill="#d1e5c6"/><path d="M0 75h1v1.2H0z" fill="#9667b9"/><path d="M0 76h1v1.2H0z" fill="#9b6fbd"/><path d="M0 77h1v1.2H0z" fill="#8b57b2"/><path d="M0 78h1v1.2H0z" fill="#8953b0"/><path d="M0 79h1v1.2H0z" fill="#e8f2e2"/><path d="M0 80h1v1.2H0z" fill="#dbebd3"/><path d="M0 81h1v1.2H0z" fill="#7a3fa7"/><path d="M0 82h1v1.2H0z" fill="#6aac46"/><path d="M0 83h1v1.2H0z" fill="#e0d3eb"/><path d="M0 84h1v1.2H0z" fill="#834bac"/><path d="M0 85h1v1.2H0z" fill="#c4aad8"/><path d="M0 86h1v1.2H0z" fill="#bc9ed3"/><path d="M0 87h1v1.2H0z" fill="#6aac46"/><path d="M0 88h1v1.2H0z" fill="#f3f8f0"/><path d="M0 89h1v1.2H0z" fill="#a075c0"/><path d="M0 90h1v1.2H0z" fill="#d4e7ca"/><path d="M0 91h1v1.2H0z" fill="#8853b0"/><path d="M0 92h1v1.2H0z" fill="#9e73bf"/><path d="M0 93h1v1.2H0z" fill="#88bd6b"/><path d="M0 94h1v1.2H0z" fill="#f1f7ed"/><path d="M0 95h1v1.2H0z" fill="#f1f7ee"/><path d="M0 96h1v1.2H0z" fill="#a67ec4"/><path d="M0 97h1v1.2H0z" fill="#9cc884"/><path d="M0 98h1v1.2H0z" fill="#c8e0ba"/><path d="M0 99h1v1.2H0z" fill="#b3d5a1"/><path d="M0 100h1v1.2H0z" fill="#9cc885"/><path d="M0 101h1v1.2H0z" fill="#fbf9fc"/><path d="M0 102h1v1.2H0z" fill="#89be6d"/><path d="M0 103h1v1.2H0z" fill="#a9cf94"/><path d="M0 104h1v1.2H0z" fill="#abd097"/><path d="M0 105h1v1.2H0z" fill="#aad095"/><path d="M0 106h1v1.2H0z" fill="#6dae4a"/><path d="M0 107h1v1.2H0z" fill="#7bb55b"/><path d="M0 108h1v1.2H0z" fill="#8f5cb4"/><path d="M0 109h1v1.2H0z" fill="#b391cd"/><path d="M0 110h1v1.2H0z" fill="#b5d6a3"/><path d="M0 111h1v1.2H0z" fill="#d6c4e4"/><path d="M0 112h1v1.2H0z" fill="#a379c2"/><path d="M0 113h1v1.2H0z" fill="#9769ba"/><path d="M0 114h1v1.2H0z" fill="#dbebd2"/><path d="M0 115h1v1.2H0z" fill="#c2ddb4"/><path d="M0 116h1v1.2H0z" fill="#ac87c8"/><path d="M0 117h1v1.2H0z" fill="#7538a4"/><path d="M0 118h1v1.2H0z" fill="#905eb5"/><path d="M0 119h1v1.2H0z" fill="#b2d4a0"/><path d="M0 120h1v1.2H0z" fill="#cfe4c3"/><path d="M0 121h1v1.2H0z" fill="#d9ead0"/><path d="M0 122h1v1.2H0z" fill="#e9f3e4"/><path d="M0 123h1v1.2H0z" fill="#c8e0bb"/><path d="M0 124h1v1.2H0z" fill="#80b861"/><path d="M0 125h1v1.2H0z" fill="#e5f1df"/><path d="M0 126h1v1.2H0z" fill="#ebf4e6"/><path d="M0 127h1v1.2H0z" fill="#9565b8"/><path d="M0 128h1v1.2H0z" fill="#7030a0"/><path d="M0 129h1v1.2H0z" fill="#6aac46"/><path d="M0 130h1v1.2H0z" fill="#aed29a"/><path d="M0 131h1v1.2H0z" fill="#9fca88"/><path d="M0 132h1v1.2H0z" fill="#d0e5c5"/><path d="M0 133h1v1.2H0z" fill="#b8d7a6"/><path d="M0 134h1v1.2H0z" fill="#6aac46"/><path d="M0 135h1v1.2H0z" fill="#6aac46"/><path d="M0 136h1v1.2H0z" fill="#a6cd90"/><path d="M0 137h1v1.2H0z" fill="#b2d49f"/><path d="M0 138h1v1.2H0z" fill="#9dc885"/><path d="M0 139h1v1.2H0z" fill="#9ec986"/><path d="M0 140h1v1.2H0z" fill="#74b252"/><path d="M0 141h1v1.2H0z" fill="#e1eeda"/><path d="M0 142h1v1.2H0z" fill="#bedbae"/><path d="M0 143h1v1.2H0z" fill="#87bc6a"/><path d="M0 144h1v1.2H0z" fill="#bfdbaf"/><path d="M0 145h1v1.2H0z" fill="#a278c1"/><path d="M0 146h1v1.2H0z" fill="#b9d8a8"/><path d="M0 147h1v1.2H0z" fill="#bfdcb0"/><path d="M0 148h1v1.2H0z" fill="#d2e6c7"/><path d="M0 149h1v1.2H0z" fill="#a2cb8c"/><path d="M0 150h1v1.2H0z" fill="#6aac46"/><path d="M0 151h1v1.2H0z" fill="#83ba65"/><path d="M0 152h1v1.2H0z" fill="#f4f9f2"/><path d="M0 153h1v1.2H0z" fill="#7db75d"/><path d="M0 154h1v1.2H0z" fill="#d7e9ce"/><path d="M0 155h1v1.2H0z" fill="#6aac46"/><path d="M0 156h1v1.2H0z" fill="#97c57e"/><path d="M0 157h1v1.2H0z" fill="#b9d8a8"/><path d="M0 158h1v1.2H0z" fill="#91c277"/><path d="M0 159h1v1.2H0z" fill="#bbd9ab"/><path d="M0 160h1v1.2H0z" fill="#acd198"/><path d="M0 161h1v1.2H0z" fill="#b7d7a6"/></svg><svg x="947.43" y="65.80" width="30.96" height="334.20" viewBox="0 0 1 162" preserveAspectRatio="none" shape-rendering="crispEdges"><path d="M0 0h1v1.2H0z" fill="#8954b1"/><path d="M0 1h1v1.2H0z" fill="#7030a0"/><path d="M0 2h1v1.2H0z" fill="#7132a1"/><path d="M0 3h1v1.2H0z" fill="#a47bc2"/><path d="M0 4h1v1.2H0z" fill="#ddcee9"/><path d="M0 5h1v1.2H0z" fill="#8d5bb4"/><path d="M0 6h1v1.2H0z" fill="#e9e0f1"/><path d="M0 7h1v1.2H0z" fill="#8f5db5"/><path d="M0 8h1v1.2H0z" fill="#a177c1"/><path d="M0 9h1v1.2H0z" fill="#a176c0"/><path d="M0 10h1v1.2H0z" fill="#95c47c"/><path d="M0 11h1v1.2H0z" fill="#a6ce91"/><path d="M0 12h1v1.2H0z" fill="#7d43a9"/><path d="M0 13h1v1.2H0z" fill="#efe8f5"/><path d="M0 14h1v1.2H0z" fill="#c6dfb8"/><path d="M0 15h1v1.2H0z" fill="#af8bca"/><path d="M0 16h1v1.2H0z" fill="#b594ce"/><path d="M0 17h1v1.2H0z" fill="#b492cd"/><path d="M0 18h1v1.2H0z" fill="#a5cd8f"/><path d="M0 19h1v1.2H0z" fill="#99c680"/><path d="M0 20h1v1.2H0z" fill="#9261b6"/><path d="M0 21h1v1.2H0z" fill="#bc9ed2"/><path d="M0 22h1v1.2H0z" fill="#a278c1"/><path d="M0 23h1v1.2H0z" fill="#97c57e"/><path d="M0 24h1v1.2H0z" fill="#eff6ec"/><path d="M0 25h1v1.2H0z" fill="#fafcf8"/><path d="M0 26h1v1.2H0z" fill="#ede5f3"/><path d="M0 27h1v1.2H0z" fill="#fcfafd"/><path d="M0 28h1v1.2H0z" fill="#a47cc3"/><path d="M0 29h1v1.2H0z" fill="#7030a0"/><path d="M0 30h1v1.2H0z" fill="#7030a0"/><path d="M0 31h1v1.2H0z" fill="#d1bde1"/><path d="M0 32h1v1.2H0z" fill="#bd9fd3"/><path d="M0 33h1v1.2H0z" fill="#f9f6fb"/><path d="M0 34h1v1.2H0z" fill="#7334a2"/><path d="M0 35h1v1.2H0z" fill="#fbf9fc"/><path d="M0 36h1v1.2H0z" fill="#fefdfe"/><path d="M0 37h1v1.2H0z" fill="#cdb6dd"/><path d="M0 38h1v1.2H0z" fill="#f9f7fb"/><path d="M0 39h1v1.2H0z" fill="#b8d8a7"/><path d="M0 40h1v1.2H0z" fill="#834cad"/><path d="M0 41h1v1.2H0z" fill="#79b458"/><path d="M0 42h1v1.2H0z" fill="#7cb65d"/><path d="M0 43h1v1.2H0z" fill="#7bb65c"/><path d="M0 44h1v1.2H0z" fill="#ddcee9"/><path d="M0 45h1v1.2H0z" fill="#9bc783"/><path d="M0 46h1v1.2H0z" fill="#b1d49f"/><path d="M0 47h1v1.2H0z" fill="#e7f2e1"/><path d="M0 48h1v1.2H0z" fill="#a8cf94"/><path d="M0 49h1v1.2H0z" fill="#b5d6a3"/><path d="M0 50h1v1.2H0z" fill="#a9cf95"/><path d="M0 51h1v1.2H0z" fill="#decfe9"/><path d="M0 52h1v1.2H0z" fill="#fafcf9"/><path d="M0 53h1v1.2H0z" fill="#bda0d3"/><path d="M0 54h1v1.2H0z" fill="#bfa3d5"/><path d="M0 55h1v1.2H0z" fill="#9363b8"/><path d="M0 56h1v1.2H0z" fill="#af8bca"/><path d="M0 57h1v1.2H0z" fill="#834bad"/><path d="M0 58h1v1.2H0z" fill="#9160b6"/><path d="M0 59h1v1.2H0z" fill="#6aac46"/><path d="M0 60h1v1.2H0z" fill="#6aac46"/><path d="M0 61h1v1.2H0z" fill="#eaf3e5"/><path d="M0 62h1v1.2H0z" fill="#b797cf"/><path d="M0 63h1v1.2H0z" fill="#c1ddb2"/><path d="M0 64h1v1.2H0z" fill="#ebf4e6"/><path d="M0 65h1v1.2H0z" fill="#7fb860"/><path d="M0 66h1v1.2H0z" fill="#c3a8d7"/><path d="M0 67h1v1.2H0z" fill="#7131a0"/><path d="M0 68h1v1.2H0z" fill="#acd198"/><path d="M0 69h1v1.2H0z" fill="#99c680"/><path d="M0 70h1v1.2H0z" fill="#7232a1"/><path d="M0 71h1v1.2H0z" fill="#af8bca"/><path d="M0 72h1v1.2H0z" fill="#96c47c"/><path d="M0 73h1v1.2H0z" fill="#9362b7"/><path d="M0 74h1v1.2H0z" fill="#783ca6"/><path d="M0 75h1v1.2H0z" fill="#7cb65c"/><path d="M0 76h1v1.2H0z" fill="#fdfcfd"/><path d="M0 77h1v1.2H0z" fill="#a982c6"/><path d="M0 78h1v1.2H0z" fill="#b898d0"/><path d="M0 79h1v1.2H0z" fill="#f3f9f1"/><path d="M0 80h1v1.2H0z" fill="#e1eeda"/><path d="M0 81h1v1.2H0z" fill="#dccce8"/><path d="M0 82h1v1.2H0z" fill="#a177c0"/><path d="M0 83h1v1.2H0z" fill="#8f5db5"/><path d="M0 84h1v1.2H0z" fill="#c1dcb2"/><path d="M0 85h1v1.2H0z" fill="#b8d8a7"/><path d="M0 86h1v1.2H0z" fill="#b2d4a0"/><path d="M0 87h1v1.2H0z" fill="#dccce7"/><path d="M0 88h1v1.2H0z" fill="#a8ce92"/><path d="M0 89h1v1.2H0z" fill="#dacae7"/><path d="M0 90h1v1.2H0z" fill="#7435a2"/><path d="M0 91h1v1.2H0z" fill="#c0a3d5"/><path d="M0 92h1v1.2H0z" fill="#6aac46"/><path d="M0 93h1v1.2H0z" fill="#9dc885"/><path d="M0 94h1v1.2H0z" fill="#7f46aa"/><path d="M0 95h1v1.2H0z" fill="#8751af"/><path d="M0 96h1v1.2H0z" fill="#d0e5c4"/><path d="M0 97h1v1.2H0z" fill="#6aac46"/><path d="M0 98h1v1.2H0z" fill="#b28fcc"/><path d="M0 99h1v1.2H0z" fill="#a47bc2"/><path d="M0 100h1v1.2H0z" fill="#eae1f1"/><path d="M0 101h1v1.2H0z" fill="#f4f9f2"/><path d="M0 102h1v1.2H0z" fill="#f4f9f1"/><path d="M0 103h1v1.2H0z" fill="#daead1"/><path d="M0 104h1v1.2H0z" fill="#d0e5c4"/><path d="M0 105h1v1.2H0z" fill="#9bc783"/><path d="M0 106h1v1.2H0z" fill="#89bd6c"/><path d="M0 107h1v1.2H0z" fill="#fbfdf9"/><path d="M0 108h1v1.2H0z" fill="#7db75e"/><path d="M0 109h1v1.2H0z" fill="#fdfcfd"/><path d="M0 110h1v1.2H0z" fill="#a6cd90"/><path d="M0 111h1v1.2H0z" fill="#70af4e"/><path d="M0 112h1v1.2H0z" fill="#a379c2"/><path d="M0 113h1v1.2H0z" fill="#a176c0"/><path d="M0 114h1v1.2H0z" fill="#986aba"/><path d="M0 115h1v1.2H0z" fill="#f1ebf6"/><path d="M0 116h1v1.2H0z" fill="#b18fcb"/><path d="M0 117h1v1.2H0z" fill="#a177c1"/><path d="M0 118h1v1.2H0z" fill="#f4f9f1"/><path d="M0 119h1v1.2H0z" fill="#fefdfe"/><path d="M0 120h1v1.2H0z" fill="#6aac46"/><path d="M0 121h1v1.2H0z" fill="#74b253"/><path d="M0 122h1v1.2H0z" fill="#85bb68"/><path d="M0 123h1v1.2H0z" fill="#8048ab"/><path d="M0 124h1v1.2H0z" fill="#8abe6e"/><path d="M0 125h1v1.2H0z" fill="#a983c6"/><path d="M0 126h1v1.2H0z" fill="#6aac46"/><path d="M0 127h1v1.2H0z" fill="#6aac46"/><path d="M0 128h1v1.2H0z" fill="#b6d6a4"/><path d="M0 129h1v1.2H0z" fill="#e2d5ec"/><path d="M0 130h1v1.2H0z" fill="#d4c0e2"/><path d="M0 131h1v1.2H0z" fill="#afd29c"/><path d="M0 132h1v1.2H0z" fill="#b9d8a8"/><path d="M0 133h1v1.2H0z" fill="#bb9dd2"/><path d="M0 134h1v1.2H0z" fill="#97c57e"/><path d="M0 135h1v1.2H0z" fill="#6cad49"/><path d="M0 136h1v1.2H0z" fill="#a1cb8a"/><path d="M0 137h1v1.2H0z" fill="#80b861"/><path d="M0 138h1v1.2H0z" fill="#ceb8df"/><path d="M0 139h1v1.2H0z" fill="#6aac46"/><path d="M0 140h1v1.2H0z" fill="#6aac46"/><path d="M0 141h1v1.2H0z" fill="#d1e5c5"/><path d="M0 142h1v1.2H0z" fill="#81b962"/><path d="M0 143h1v1.2H0z" fill="#a8cf93"/><path d="M0 144h1v1.2H0z" fill="#c5deb6"/><path d="M0 145h1v1.2H0z" fill="#76b355"/><path d="M0 146h1v1.2H0z" fill="#eef6ea"/><path d="M0 147h1v1.2H0z" fill="#e3efdc"/><path d="M0 148h1v1.2H0z" fill="#9ec986"/><path d="M0 149h1v1.2H0z" fill="#6faf4d"/><path d="M0 150h1v1.2H0z" fill="#9dc885"/><path d="M0 151h1v1.2H0z" fill="#88bd6c"/><path d="M0 152h1v1.2H0z" fill="#94c47a"/><path d="M0 153h1v1.2H0z" fill="#cce3c0"/><path d="M0 154h1v1.2H0z" fill="#6bac47"/><path d="M0 155h1v1.2H0z" fill="#9fc988"/><path d="M0 156h1v1.2H0z" fill="#8dbf71"/><path d="M0 157h1v1.2H0z" fill="#b8d7a7"/><path d="M0 158h1v1.2H0z" fill="#f8f5fb"/><path d="M0 159h1v1.2H0z" fill="#88bd6c"/><path d="M0 160h1v1.2H0z" fill="#a5cd8f"/><path d="M0 161h1v1.2H0z" fill="#94c37a"/></svg><svg x="978.14" y="65.80" width="30.96" height="334.20" viewBox="0 0 1 162" preserveAspectRatio="none" shape-rendering="crispEdges"><path d="M0 0h1v1.2H0z" fill="#cbe2bf"/><path d="M0 1h1v1.2H0z" fill="#ebf4e6"/><path d="M0 2h1v1.2H0z" fill="#7030a0"/><path d="M0 3h1v1.2H0z" fill="#7d43a9"/><path d="M0 4h1v1.2H0z" fill="#fbf9fc"/><path d="M0 5h1v1.2H0z" fill="#ad88c9"/><path d="M0 6h1v1.2H0z" fill="#8a56b2"/><path d="M0 7h1v1.2H0z" fill="#a47bc2"/><path d="M0 8h1v1.2H0z" fill="#9160b6"/><path d="M0 9h1v1.2H0z" fill="#cdb6dd"/><path d="M0 10h1v1.2H0z" fill="#a9cf94"/><path d="M0 11h1v1.2H0z" fill="#b6d6a4"/><path d="M0 12h1v1.2H0z" fill="#e8def0"/><path d="M0 13h1v1.2H0z" fill="#af8bca"/><path d="M0 14h1v1.2H0z" fill="#7030a0"/><path d="M0 15h1v1.2H0z" fill="#7a3fa7"/><path d="M0 16h1v1.2H0z" fill="#8650af"/><path d="M0 17h1v1.2H0z" fill="#8abe6e"/><path d="M0 18h1v1.2H0z" fill="#d6c4e4"/><path d="M0 19h1v1.2H0z" fill="#cab2dc"/><path d="M0 20h1v1.2H0z" fill="#b898d0"/><path d="M0 21h1v1.2H0z" fill="#f7f4fa"/><path d="M0 22h1v1.2H0z" fill="#9c70be"/><path d="M0 23h1v1.2H0z" fill="#905eb5"/><path d="M0 24h1v1.2H0z" fill="#9a6dbc"/><path d="M0 25h1v1.2H0z" fill="#8d59b3"/><path d="M0 26h1v1.2H0z" fill="#a780c5"/><path d="M0 27h1v1.2H0z" fill="#a882c5"/><path d="M0 28h1v1.2H0z" fill="#ceb9df"/><path d="M0 29h1v1.2H0z" fill="#cfb9df"/><path d="M0 30h1v1.2H0z" fill="#fafcf9"/><path d="M0 31h1v1.2H0z" fill="#b492cd"/><path d="M0 32h1v1.2H0z" fill="#af8cca"/><path d="M0 33h1v1.2H0z" fill="#9668ba"/><path d="M0 34h1v1.2H0z" fill="#a67ec4"/><path d="M0 35h1v1.2H0z" fill="#f6faf4"/><path d="M0 36h1v1.2H0z" fill="#7e44a9"/><path d="M0 37h1v1.2H0z" fill="#c5dfb7"/><path d="M0 38h1v1.2H0z" fill="#7030a0"/><path d="M0 39h1v1.2H0z" fill="#ceb7de"/><path d="M0 40h1v1.2H0z" fill="#ddcde8"/><path d="M0 41h1v1.2H0z" fill="#d4c1e3"/><path d="M0 42h1v1.2H0z" fill="#d1bde1"/><path d="M0 43h1v1.2H0z" fill="#d1bde1"/><path d="M0 44h1v1.2H0z" fill="#d4c0e2"/><path d="M0 45h1v1.2H0z" fill="#78b457"/><path d="M0 46h1v1.2H0z" fill="#c6add9"/><path d="M0 47h1v1.2H0z" fill="#7e45a9"/><path d="M0 48h1v1.2H0z" fill="#a67ec4"/><path d="M0 49h1v1.2H0z" fill="#a77fc4"/><path d="M0 50h1v1.2H0z" fill="#76b355"/><path d="M0 51h1v1.2H0z" fill="#ccb5dd"/><path d="M0 52h1v1.2H0z" fill="#a0ca89"/><path d="M0 53h1v1.2H0z" fill="#d1bde0"/><path d="M0 54h1v1.2H0z" fill="#bad9aa"/><path d="M0 55h1v1.2H0z" fill="#8a55b1"/><path d="M0 56h1v1.2H0z" fill="#c9b1db"/><path d="M0 57h1v1.2H0z" fill="#aa84c7"/><path d="M0 58h1v1.2H0z" fill="#e5d9ee"/><path d="M0 59h1v1.2H0z" fill="#9ac681"/><path d="M0 60h1v1.2H0z" fill="#ceb8de"/><path d="M0 61h1v1.2H0z" fill="#bcdaac"/><path d="M0 62h1v1.2H0z" fill="#96c47c"/><path d="M0 63h1v1.2H0z" fill="#d1e5c6"/><path d="M0 64h1v1.2H0z" fill="#d8e9ce"/><path d="M0 65h1v1.2H0z" fill="#dfedd7"/><path d="M0 66h1v1.2H0z" fill="#d1e5c6"/><path d="M0 67h1v1.2H0z" fill="#ac86c8"/><path d="M0 68h1v1.2H0z" fill="#7a3ea6"/><path d="M0 69h1v1.2H0z" fill="#7030a0"/><path d="M0 70h1v1.2H0z" fill="#afd29b"/><path d="M0 71h1v1.2H0z" fill="#a6ce91"/><path d="M0 72h1v1.2H0z" fill="#c3deb4"/><path d="M0 73h1v1.2H0z" fill="#7030a0"/><path d="M0 74h1v1.2H0z" fill="#7030a0"/><path d="M0 75h1v1.2H0z" fill="#a983c6"/><path d="M0 76h1v1.2H0z" fill="#cee4c2"/><path d="M0 77h1v1.2H0z" fill="#6aac46"/><path d="M0 78h1v1.2H0z" fill="#a0ca89"/><path d="M0 79h1v1.2H0z" fill="#a0ca89"/><path d="M0 80h1v1.2H0z" fill="#834bad"/><path d="M0 81h1v1.2H0z" fill="#7030a0"/><path d="M0 82h1v1.2H0z" fill="#96c47c"/><path d="M0 83h1v1.2H0z" fill="#c1a5d6"/><path d="M0 84h1v1.2H0z" fill="#c7aeda"/><path d="M0 85h1v1.2H0z" fill="#dbcbe7"/><path d="M0 86h1v1.2H0z" fill="#84bb66"/><path d="M0 87h1v1.2H0z" fill="#905fb5"/><path d="M0 88h1v1.2H0z" fill="#9b6ebc"/><path d="M0 89h1v1.2H0z" fill="#add199"/><path d="M0 90h1v1.2H0z" fill="#e1d3eb"/><path d="M0 91h1v1.2H0z" fill="#cbb4dd"/><path d="M0 92h1v1.2H0z" fill="#c4aad8"/><path d="M0 93h1v1.2H0z" fill="#fbfdf9"/><path d="M0 94h1v1.2H0z" fill="#abd097"/><path d="M0 95h1v1.2H0z" fill="#add19a"/><path d="M0 96h1v1.2H0z" fill="#7030a0"/><path d="M0 97h1v1.2H0z" fill="#b18ecb"/><path d="M0 98h1v1.2H0z" fill="#7030a0"/><path d="M0 99h1v1.2H0z" fill="#6aac46"/><path d="M0 100h1v1.2H0z" fill="#f5faf3"/><path d="M0 101h1v1.2H0z" fill="#bd9fd3"/><path d="M0 102h1v1.2H0z" fill="#d5c2e3"/><path d="M0 103h1v1.2H0z" fill="#a9cf94"/><path d="M0 104h1v1.2H0z" fill="#9c70bd"/><path d="M0 105h1v1.2H0z" fill="#b899d0"/><path d="M0 106h1v1.2H0z" fill="#a77fc4"/><path d="M0 107h1v1.2H0z" fill="#98c67f"/><path d="M0 108h1v1.2H0z" fill="#acd198"/><path d="M0 109h1v1.2H0z" fill="#9dc885"/><path d="M0 110h1v1.2H0z" fill="#e7f2e2"/><path d="M0 111h1v1.2H0z" fill="#cae1bd"/><path d="M0 112h1v1.2H0z" fill="#c9e1bc"/><path d="M0 113h1v1.2H0z" fill="#6aac46"/><path d="M0 114h1v1.2H0z" fill="#6faf4d"/><path d="M0 115h1v1.2H0z" fill="#b899d0"/><path d="M0 116h1v1.2H0z" fill="#d7e9cd"/><path d="M0 117h1v1.2H0z" fill="#f6f1f9"/><path d="M0 118h1v1.2H0z" fill="#87bc6a"/><path d="M0 119h1v1.2H0z" fill="#a2cb8c"/><path d="M0 120h1v1.2H0z" fill="#fbfdf9"/><path d="M0 121h1v1.2H0z" fill="#d4e7ca"/><path d="M0 122h1v1.2H0z" fill="#95c47c"/><path d="M0 123h1v1.2H0z" fill="#afd39c"/><path d="M0 124h1v1.2H0z" fill="#d5e8cb"/><path d="M0 125h1v1.2H0z" fill="#7030a0"/><path d="M0 126h1v1.2H0z" fill="#7f45aa"/><path d="M0 127h1v1.2H0z" fill="#fefdfe"/><path d="M0 128h1v1.2H0z" fill="#9fc987"/><path d="M0 129h1v1.2H0z" fill="#afd29b"/><path d="M0 130h1v1.2H0z" fill="#99c681"/><path d="M0 131h1v1.2H0z" fill="#9bc783"/><path d="M0 132h1v1.2H0z" fill="#7a3fa7"/><path d="M0 133h1v1.2H0z" fill="#d6e8cc"/><path d="M0 134h1v1.2H0z" fill="#d2e6c7"/><path d="M0 135h1v1.2H0z" fill="#bddaad"/><path d="M0 136h1v1.2H0z" fill="#cee4c2"/><path d="M0 137h1v1.2H0z" fill="#d0e5c4"/><path d="M0 138h1v1.2H0z" fill="#8fc074"/><path d="M0 139h1v1.2H0z" fill="#d1bce0"/><path d="M0 140h1v1.2H0z" fill="#8f5db5"/><path d="M0 141h1v1.2H0z" fill="#a47bc2"/><path d="M0 142h1v1.2H0z" fill="#ddecd5"/><path d="M0 143h1v1.2H0z" fill="#c1ddb3"/><path d="M0 144h1v1.2H0z" fill="#b7d7a6"/><path d="M0 145h1v1.2H0z" fill="#afd39c"/><path d="M0 146h1v1.2H0z" fill="#b8d7a7"/><path d="M0 147h1v1.2H0z" fill="#bddaad"/><path d="M0 148h1v1.2H0z" fill="#fbfdf9"/><path d="M0 149h1v1.2H0z" fill="#c8e0bb"/><path d="M0 150h1v1.2H0z" fill="#90c175"/><path d="M0 151h1v1.2H0z" fill="#7cb65d"/><path d="M0 152h1v1.2H0z" fill="#94c47b"/><path d="M0 153h1v1.2H0z" fill="#deedd6"/><path d="M0 154h1v1.2H0z" fill="#d0e5c4"/><path d="M0 155h1v1.2H0z" fill="#cfe4c4"/><path d="M0 156h1v1.2H0z" fill="#a4cc8e"/><path d="M0 157h1v1.2H0z" fill="#bda0d3"/><path d="M0 158h1v1.2H0z" fill="#6aac46"/><path d="M0 159h1v1.2H0z" fill="#8abe6d"/><path d="M0 160h1v1.2H0z" fill="#a2cb8c"/><path d="M0 161h1v1.2H0z" fill="#b797cf"/></svg><svg x="1008.86" y="65.80" width="30.96" height="334.20" viewBox="0 0 1 162" preserveAspectRatio="none" shape-rendering="crispEdges"><path d="M0 0h1v1.2H0z" fill="#793da6"/><path d="M0 1h1v1.2H0z" fill="#986bbb"/><path d="M0 2h1v1.2H0z" fill="#6cad48"/><path d="M0 3h1v1.2H0z" fill="#f0f7ec"/><path d="M0 4h1v1.2H0z" fill="#c8afda"/><path d="M0 5h1v1.2H0z" fill="#ceb8de"/><path d="M0 6h1v1.2H0z" fill="#7435a2"/><path d="M0 7h1v1.2H0z" fill="#ae8ac9"/><path d="M0 8h1v1.2H0z" fill="#8752af"/><path d="M0 9h1v1.2H0z" fill="#cbb4dc"/><path d="M0 10h1v1.2H0z" fill="#854eae"/><path d="M0 11h1v1.2H0z" fill="#7c42a8"/><path d="M0 12h1v1.2H0z" fill="#7f46aa"/><path d="M0 13h1v1.2H0z" fill="#915fb6"/><path d="M0 14h1v1.2H0z" fill="#a983c6"/><path d="M0 15h1v1.2H0z" fill="#a076c0"/><path d="M0 16h1v1.2H0z" fill="#7030a0"/><path d="M0 17h1v1.2H0z" fill="#7030a0"/><path d="M0 18h1v1.2H0z" fill="#f7fbf5"/><path d="M0 19h1v1.2H0z" fill="#ede5f3"/><path d="M0 20h1v1.2H0z" fill="#a47bc2"/><path d="M0 21h1v1.2H0z" fill="#7030a0"/><path d="M0 22h1v1.2H0z" fill="#7a3fa7"/><path d="M0 23h1v1.2H0z" fill="#c1a6d6"/><path d="M0 24h1v1.2H0z" fill="#ba9bd1"/><path d="M0 25h1v1.2H0z" fill="#7030a0"/><path d="M0 26h1v1.2H0z" fill="#bea1d4"/><path d="M0 27h1v1.2H0z" fill="#793ea6"/><path d="M0 28h1v1.2H0z" fill="#d4c1e2"/><path d="M0 29h1v1.2H0z" fill="#9667b9"/><path d="M0 30h1v1.2H0z" fill="#7030a0"/><path d="M0 31h1v1.2H0z" fill="#cfbadf"/><path d="M0 32h1v1.2H0z" fill="#783ca6"/><path d="M0 33h1v1.2H0z" fill="#8650af"/><path d="M0 34h1v1.2H0z" fill="#8853b0"/><path d="M0 35h1v1.2H0z" fill="#8149ac"/><path d="M0 36h1v1.2H0z" fill="#b2d49f"/><path d="M0 37h1v1.2H0z" fill="#e3d7ed"/><path d="M0 38h1v1.2H0z" fill="#d3c0e2"/><path d="M0 39h1v1.2H0z" fill="#a37ac2"/><path d="M0 40h1v1.2H0z" fill="#d5e7ca"/><path d="M0 41h1v1.2H0z" fill="#dcebd3"/><path d="M0 42h1v1.2H0z" fill="#a67ec4"/><path d="M0 43h1v1.2H0z" fill="#7030a0"/><path d="M0 44h1v1.2H0z" fill="#bd9fd3"/><path d="M0 45h1v1.2H0z" fill="#8853b0"/><path d="M0 46h1v1.2H0z" fill="#9464b8"/><path d="M0 47h1v1.2H0z" fill="#ba9bd1"/><path d="M0 48h1v1.2H0z" fill="#7030a0"/><path d="M0 49h1v1.2H0z" fill="#e7f2e2"/><path d="M0 50h1v1.2H0z" fill="#7131a1"/><path d="M0 51h1v1.2H0z" fill="#abd097"/><path d="M0 52h1v1.2H0z" fill="#7131a1"/><path d="M0 53h1v1.2H0z" fill="#e5f1df"/><path d="M0 54h1v1.2H0z" fill="#e9f3e3"/><path d="M0 55h1v1.2H0z" fill="#bb9dd2"/><path d="M0 56h1v1.2H0z" fill="#cbb3dc"/><path d="M0 57h1v1.2H0z" fill="#ebf4e6"/><path d="M0 58h1v1.2H0z" fill="#ab85c7"/><path d="M0 59h1v1.2H0z" fill="#b5d6a3"/><path d="M0 60h1v1.2H0z" fill="#e4d7ed"/><path d="M0 61h1v1.2H0z" fill="#c4a9d8"/><path d="M0 62h1v1.2H0z" fill="#ba9bd1"/><path d="M0 63h1v1.2H0z" fill="#c6dfb8"/><path d="M0 64h1v1.2H0z" fill="#9160b6"/><path d="M0 65h1v1.2H0z" fill="#c2ddb3"/><path d="M0 66h1v1.2H0z" fill="#8249ac"/><path d="M0 67h1v1.2H0z" fill="#e6f1e0"/><path d="M0 68h1v1.2H0z" fill="#7030a0"/><path d="M0 69h1v1.2H0z" fill="#824bac"/><path d="M0 70h1v1.2H0z" fill="#9f75c0"/><path d="M0 71h1v1.2H0z" fill="#cab2dc"/><path d="M0 72h1v1.2H0z" fill="#d9c8e6"/><path d="M0 73h1v1.2H0z" fill="#95c47c"/><path d="M0 74h1v1.2H0z" fill="#92c277"/><path d="M0 75h1v1.2H0z" fill="#6aac46"/><path d="M0 76h1v1.2H0z" fill="#6aac46"/><path d="M0 77h1v1.2H0z" fill="#6aac46"/><path d="M0 78h1v1.2H0z" fill="#add199"/><path d="M0 79h1v1.2H0z" fill="#f5f1f9"/><path d="M0 80h1v1.2H0z" fill="#a67ec4"/><path d="M0 81h1v1.2H0z" fill="#8fc074"/><path d="M0 82h1v1.2H0z" fill="#fefefe"/><path d="M0 83h1v1.2H0z" fill="#91c276"/><path d="M0 84h1v1.2H0z" fill="#c0a3d5"/><path d="M0 85h1v1.2H0z" fill="#bad8a9"/><path d="M0 86h1v1.2H0z" fill="#fcfdfb"/><path d="M0 87h1v1.2H0z" fill="#7d43a9"/><path d="M0 88h1v1.2H0z" fill="#ebe3f2"/><path d="M0 89h1v1.2H0z" fill="#d4c0e2"/><path d="M0 90h1v1.2H0z" fill="#90c175"/><path d="M0 91h1v1.2H0z" fill="#a0ca89"/><path d="M0 92h1v1.2H0z" fill="#fbf9fc"/><path d="M0 93h1v1.2H0z" fill="#fbfdf9"/><path d="M0 94h1v1.2H0z" fill="#b18ecb"/><path d="M0 95h1v1.2H0z" fill="#fbfdf9"/><path d="M0 96h1v1.2H0z" fill="#b9d8a8"/><path d="M0 97h1v1.2H0z" fill="#c1dcb2"/><path d="M0 98h1v1.2H0z" fill="#844cad"/><path d="M0 99h1v1.2H0z" fill="#986abb"/><path d="M0 100h1v1.2H0z" fill="#8a56b1"/><path d="M0 101h1v1.2H0z" fill="#cbb3dc"/><path d="M0 102h1v1.2H0z" fill="#af8cca"/><path d="M0 103h1v1.2H0z" fill="#b8d8a7"/><path d="M0 104h1v1.2H0z" fill="#6aac46"/><path d="M0 105h1v1.2H0z" fill="#6aac46"/><path d="M0 106h1v1.2H0z" fill="#9ec987"/><path d="M0 107h1v1.2H0z" fill="#c6dfb8"/><path d="M0 108h1v1.2H0z" fill="#92c278"/><path d="M0 109h1v1.2H0z" fill="#6aac46"/><path d="M0 110h1v1.2H0z" fill="#86bb68"/><path d="M0 111h1v1.2H0z" fill="#a1cb8a"/><path d="M0 112h1v1.2H0z" fill="#e9dff0"/><path d="M0 113h1v1.2H0z" fill="#b18ecb"/><path d="M0 114h1v1.2H0z" fill="#8e5bb4"/><path d="M0 115h1v1.2H0z" fill="#96c57d"/><path d="M0 116h1v1.2H0z" fill="#c3a9d7"/><path d="M0 117h1v1.2H0z" fill="#edf5e8"/><path d="M0 118h1v1.2H0z" fill="#86bc69"/><path d="M0 119h1v1.2H0z" fill="#8cbf70"/><path d="M0 120h1v1.2H0z" fill="#d7e9cd"/><path d="M0 121h1v1.2H0z" fill="#dbebd2"/><path d="M0 122h1v1.2H0z" fill="#e7f2e1"/><path d="M0 123h1v1.2H0z" fill="#eee7f4"/><path d="M0 124h1v1.2H0z" fill="#b8d8a7"/><path d="M0 125h1v1.2H0z" fill="#cee4c2"/><path d="M0 126h1v1.2H0z" fill="#c8e0ba"/><path d="M0 127h1v1.2H0z" fill="#d9ead0"/><path d="M0 128h1v1.2H0z" fill="#a7ce91"/><path d="M0 129h1v1.2H0z" fill="#b1d39e"/><path d="M0 130h1v1.2H0z" fill="#b5d6a3"/><path d="M0 131h1v1.2H0z" fill="#d3e7c9"/><path d="M0 132h1v1.2H0z" fill="#9cc884"/><path d="M0 133h1v1.2H0z" fill="#e2efdc"/><path d="M0 134h1v1.2H0z" fill="#7fb861"/><path d="M0 135h1v1.2H0z" fill="#7cb65c"/><path d="M0 136h1v1.2H0z" fill="#89bd6c"/><path d="M0 137h1v1.2H0z" fill="#b2d4a0"/><path d="M0 138h1v1.2H0z" fill="#90c175"/><path d="M0 139h1v1.2H0z" fill="#6aac46"/><path d="M0 140h1v1.2H0z" fill="#996bbb"/><path d="M0 141h1v1.2H0z" fill="#9ac781"/><path d="M0 142h1v1.2H0z" fill="#c4deb6"/><path d="M0 143h1v1.2H0z" fill="#fbfdf9"/><path d="M0 144h1v1.2H0z" fill="#b0d39c"/><path d="M0 145h1v1.2H0z" fill="#dfedd8"/><path d="M0 146h1v1.2H0z" fill="#fbfdfa"/><path d="M0 147h1v1.2H0z" fill="#d7e9cd"/><path d="M0 148h1v1.2H0z" fill="#dbebd2"/><path d="M0 149h1v1.2H0z" fill="#ab85c7"/><path d="M0 150h1v1.2H0z" fill="#b3d5a1"/><path d="M0 151h1v1.2H0z" fill="#b4d5a1"/><path d="M0 152h1v1.2H0z" fill="#9fca88"/><path d="M0 153h1v1.2H0z" fill="#f9fcf8"/><path d="M0 154h1v1.2H0z" fill="#a7ce92"/><path d="M0 155h1v1.2H0z" fill="#e7f2e1"/><path d="M0 156h1v1.2H0z" fill="#daead1"/><path d="M0 157h1v1.2H0z" fill="#93c379"/><path d="M0 158h1v1.2H0z" fill="#6aac46"/><path d="M0 159h1v1.2H0z" fill="#add199"/><path d="M0 160h1v1.2H0z" fill="#b0d39c"/><path d="M0 161h1v1.2H0z" fill="#add199"/></svg><svg x="1039.57" y="65.80" width="30.96" height="334.20" viewBox="0 0 1 162" preserveAspectRatio="none" shape-rendering="crispEdges"><path d="M0 0h1v1.2H0z" fill="#decfe9"/><path d="M0 1h1v1.2H0z" fill="#9d72be"/><path d="M0 2h1v1.2H0z" fill="#7030a0"/><path d="M0 3h1v1.2H0z" fill="#cfbadf"/><path d="M0 4h1v1.2H0z" fill="#a37ac2"/><path d="M0 5h1v1.2H0z" fill="#e5d9ee"/><path d="M0 6h1v1.2H0z" fill="#6faf4c"/><path d="M0 7h1v1.2H0z" fill="#8752af"/><path d="M0 8h1v1.2H0z" fill="#cab2dc"/><path d="M0 9h1v1.2H0z" fill="#9c70bd"/><path d="M0 10h1v1.2H0z" fill="#7233a1"/><path d="M0 11h1v1.2H0z" fill="#f1ebf6"/><path d="M0 12h1v1.2H0z" fill="#c2a7d7"/><path d="M0 13h1v1.2H0z" fill="#d8e9cf"/><path d="M0 14h1v1.2H0z" fill="#e0d2eb"/><path d="M0 15h1v1.2H0z" fill="#ede5f3"/><path d="M0 16h1v1.2H0z" fill="#d7c6e5"/><path d="M0 17h1v1.2H0z" fill="#773aa5"/><path d="M0 18h1v1.2H0z" fill="#8650af"/><path d="M0 19h1v1.2H0z" fill="#c1a6d6"/><path d="M0 20h1v1.2H0z" fill="#7030a0"/><path d="M0 21h1v1.2H0z" fill="#fefefe"/><path d="M0 22h1v1.2H0z" fill="#e7ddef"/><path d="M0 23h1v1.2H0z" fill="#cdb6de"/><path d="M0 24h1v1.2H0z" fill="#e2d5ec"/><path d="M0 25h1v1.2H0z" fill="#8853b0"/><path d="M0 26h1v1.2H0z" fill="#d3c0e2"/><path d="M0 27h1v1.2H0z" fill="#f5f1f9"/><path d="M0 28h1v1.2H0z" fill="#e4d8ed"/><path d="M0 29h1v1.2H0z" fill="#9c6fbd"/><path d="M0 30h1v1.2H0z" fill="#9d71be"/><path d="M0 31h1v1.2H0z" fill="#7233a1"/><path d="M0 32h1v1.2H0z" fill="#7c42a8"/><path d="M0 33h1v1.2H0z" fill="#7030a0"/><path d="M0 34h1v1.2H0z" fill="#d5e8cb"/><path d="M0 35h1v1.2H0z" fill="#fbf9fc"/><path d="M0 36h1v1.2H0z" fill="#7030a0"/><path d="M0 37h1v1.2H0z" fill="#70af4d"/><path d="M0 38h1v1.2H0z" fill="#f9f6fb"/><path d="M0 39h1v1.2H0z" fill="#7436a3"/><path d="M0 40h1v1.2H0z" fill="#9160b6"/><path d="M0 41h1v1.2H0z" fill="#a982c6"/><path d="M0 42h1v1.2H0z" fill="#ebe2f2"/><path d="M0 43h1v1.2H0z" fill="#8650af"/><path d="M0 44h1v1.2H0z" fill="#7e45a9"/><path d="M0 45h1v1.2H0z" fill="#7d43a9"/><path d="M0 46h1v1.2H0z" fill="#d6c4e4"/><path d="M0 47h1v1.2H0z" fill="#c8afda"/><path d="M0 48h1v1.2H0z" fill="#fbf9fc"/><path d="M0 49h1v1.2H0z" fill="#cdb7de"/><path d="M0 50h1v1.2H0z" fill="#9160b6"/><path d="M0 51h1v1.2H0z" fill="#ba9cd1"/><path d="M0 52h1v1.2H0z" fill="#af8bca"/><path d="M0 53h1v1.2H0z" fill="#84ba66"/><path d="M0 54h1v1.2H0z" fill="#8dbf71"/><path d="M0 55h1v1.2H0z" fill="#e4f0dd"/><path d="M0 56h1v1.2H0z" fill="#e3efdc"/><path d="M0 57h1v1.2H0z" fill="#fbf9fc"/><path d="M0 58h1v1.2H0z" fill="#c4aad8"/><path d="M0 59h1v1.2H0z" fill="#b4d5a2"/><path d="M0 60h1v1.2H0z" fill="#93c379"/><path d="M0 61h1v1.2H0z" fill="#7030a0"/><path d="M0 62h1v1.2H0z" fill="#eee6f4"/><path d="M0 63h1v1.2H0z" fill="#7030a0"/><path d="M0 64h1v1.2H0z" fill="#905eb5"/><path d="M0 65h1v1.2H0z" fill="#cce2bf"/><path d="M0 66h1v1.2H0z" fill="#7030a0"/><path d="M0 67h1v1.2H0z" fill="#8149ab"/><path d="M0 68h1v1.2H0z" fill="#ab86c7"/><path d="M0 69h1v1.2H0z" fill="#8047ab"/><path d="M0 70h1v1.2H0z" fill="#9362b7"/><path d="M0 71h1v1.2H0z" fill="#8a55b1"/><path d="M0 72h1v1.2H0z" fill="#dccce8"/><path d="M0 73h1v1.2H0z" fill="#e2efda"/><path d="M0 74h1v1.2H0z" fill="#f6faf4"/><path d="M0 75h1v1.2H0z" fill="#9cc885"/><path d="M0 76h1v1.2H0z" fill="#b898d0"/><path d="M0 77h1v1.2H0z" fill="#f2f8ef"/><path d="M0 78h1v1.2H0z" fill="#a77fc4"/><path d="M0 79h1v1.2H0z" fill="#a075c0"/><path d="M0 80h1v1.2H0z" fill="#6aac46"/><path d="M0 81h1v1.2H0z" fill="#7030a0"/><path d="M0 82h1v1.2H0z" fill="#6aac46"/><path d="M0 83h1v1.2H0z" fill="#6aac46"/><path d="M0 84h1v1.2H0z" fill="#6cad49"/><path d="M0 85h1v1.2H0z" fill="#8dbf71"/><path d="M0 86h1v1.2H0z" fill="#ad89c9"/><path d="M0 87h1v1.2H0z" fill="#d0e5c5"/><path d="M0 88h1v1.2H0z" fill="#6aac46"/><path d="M0 89h1v1.2H0z" fill="#7f46aa"/><path d="M0 90h1v1.2H0z" fill="#9f74bf"/><path d="M0 91h1v1.2H0z" fill="#a57dc4"/><path d="M0 92h1v1.2H0z" fill="#e0d2ea"/><path d="M0 93h1v1.2H0z" fill="#73b151"/><path d="M0 94h1v1.2H0z" fill="#6aac46"/><path d="M0 95h1v1.2H0z" fill="#79b458"/><path d="M0 96h1v1.2H0z" fill="#ece4f3"/><path d="M0 97h1v1.2H0z" fill="#e6daee"/><path d="M0 98h1v1.2H0z" fill="#d4c0e2"/><path d="M0 99h1v1.2H0z" fill="#f9f7fb"/><path d="M0 100h1v1.2H0z" fill="#7030a0"/><path d="M0 101h1v1.2H0z" fill="#e6dbef"/><path d="M0 102h1v1.2H0z" fill="#fbf9fc"/><path d="M0 103h1v1.2H0z" fill="#bfa3d5"/><path d="M0 104h1v1.2H0z" fill="#a780c5"/><path d="M0 105h1v1.2H0z" fill="#bb9cd2"/><path d="M0 106h1v1.2H0z" fill="#fefdfe"/><path d="M0 107h1v1.2H0z" fill="#d0bbe0"/><path d="M0 108h1v1.2H0z" fill="#854fae"/><path d="M0 109h1v1.2H0z" fill="#9f73bf"/><path d="M0 110h1v1.2H0z" fill="#f4f0f8"/><path d="M0 111h1v1.2H0z" fill="#86bc69"/><path d="M0 112h1v1.2H0z" fill="#71b04f"/><path d="M0 113h1v1.2H0z" fill="#996cbb"/><path d="M0 114h1v1.2H0z" fill="#8d5bb4"/><path d="M0 115h1v1.2H0z" fill="#fbf9fc"/><path d="M0 116h1v1.2H0z" fill="#7f46aa"/><path d="M0 117h1v1.2H0z" fill="#b392cd"/><path d="M0 118h1v1.2H0z" fill="#a7ce92"/><path d="M0 119h1v1.2H0z" fill="#f3f8f0"/><path d="M0 120h1v1.2H0z" fill="#b7d7a6"/><path d="M0 121h1v1.2H0z" fill="#8d5ab3"/><path d="M0 122h1v1.2H0z" fill="#aed29a"/><path d="M0 123h1v1.2H0z" fill="#c5acd9"/><path d="M0 124h1v1.2H0z" fill="#a9cf95"/><path d="M0 125h1v1.2H0z" fill="#fbfdf9"/><path d="M0 126h1v1.2H0z" fill="#8bbe6e"/><path d="M0 127h1v1.2H0z" fill="#9e73bf"/><path d="M0 128h1v1.2H0z" fill="#b6d6a4"/><path d="M0 129h1v1.2H0z" fill="#8dc072"/><path d="M0 130h1v1.2H0z" fill="#96c57d"/><path d="M0 131h1v1.2H0z" fill="#c6dfb8"/><path d="M0 132h1v1.2H0z" fill="#e2efda"/><path d="M0 133h1v1.2H0z" fill="#c4aad8"/><path d="M0 134h1v1.2H0z" fill="#cee4c2"/><path d="M0 135h1v1.2H0z" fill="#9362b7"/><path d="M0 136h1v1.2H0z" fill="#8751af"/><path d="M0 137h1v1.2H0z" fill="#8e5bb4"/><path d="M0 138h1v1.2H0z" fill="#6aac46"/><path d="M0 139h1v1.2H0z" fill="#80b862"/><path d="M0 140h1v1.2H0z" fill="#7030a0"/><path d="M0 141h1v1.2H0z" fill="#7436a3"/><path d="M0 142h1v1.2H0z" fill="#cde3c1"/><path d="M0 143h1v1.2H0z" fill="#cce3c0"/><path d="M0 144h1v1.2H0z" fill="#9ac781"/><path d="M0 145h1v1.2H0z" fill="#b6d6a5"/><path d="M0 146h1v1.2H0z" fill="#83ba65"/><path d="M0 147h1v1.2H0z" fill="#b6d6a4"/><path d="M0 148h1v1.2H0z" fill="#a2cb8c"/><path d="M0 149h1v1.2H0z" fill="#8cbf70"/><path d="M0 150h1v1.2H0z" fill="#abd096"/><path d="M0 151h1v1.2H0z" fill="#a0ca89"/><path d="M0 152h1v1.2H0z" fill="#a6cd90"/><path d="M0 153h1v1.2H0z" fill="#ddecd5"/><path d="M0 154h1v1.2H0z" fill="#aad096"/><path d="M0 155h1v1.2H0z" fill="#6aac46"/><path d="M0 156h1v1.2H0z" fill="#6aac46"/><path d="M0 157h1v1.2H0z" fill="#b5d6a3"/><path d="M0 158h1v1.2H0z" fill="#78b458"/><path d="M0 159h1v1.2H0z" fill="#eaf3e5"/><path d="M0 160h1v1.2H0z" fill="#afd29c"/><path d="M0 161h1v1.2H0z" fill="#9cc884"/></svg><svg x="1070.29" y="65.80" width="30.96" height="334.20" viewBox="0 0 1 162" preserveAspectRatio="none" shape-rendering="crispEdges"><path d="M0 0h1v1.2H0z" fill="#7030a0"/><path d="M0 1h1v1.2H0z" fill="#ebe3f2"/><path d="M0 2h1v1.2H0z" fill="#bb9cd2"/><path d="M0 3h1v1.2H0z" fill="#7b40a7"/><path d="M0 4h1v1.2H0z" fill="#aa84c6"/><path d="M0 5h1v1.2H0z" fill="#996cbb"/><path d="M0 6h1v1.2H0z" fill="#7030a0"/><path d="M0 7h1v1.2H0z" fill="#c8afda"/><path d="M0 8h1v1.2H0z" fill="#cfbadf"/><path d="M0 9h1v1.2H0z" fill="#b695ce"/><path d="M0 10h1v1.2H0z" fill="#9261b6"/><path d="M0 11h1v1.2H0z" fill="#7030a0"/><path d="M0 12h1v1.2H0z" fill="#af8cca"/><path d="M0 13h1v1.2H0z" fill="#b999d0"/><path d="M0 14h1v1.2H0z" fill="#b899d0"/><path d="M0 15h1v1.2H0z" fill="#b999d0"/><path d="M0 16h1v1.2H0z" fill="#b18ecb"/><path d="M0 17h1v1.2H0z" fill="#c9b0db"/><path d="M0 18h1v1.2H0z" fill="#c2a7d7"/><path d="M0 19h1v1.2H0z" fill="#7b40a8"/><path d="M0 20h1v1.2H0z" fill="#ae89c9"/><path d="M0 21h1v1.2H0z" fill="#a881c5"/><path d="M0 22h1v1.2H0z" fill="#b28fcc"/><path d="M0 23h1v1.2H0z" fill="#b8d7a7"/><path d="M0 24h1v1.2H0z" fill="#f0e9f5"/><path d="M0 25h1v1.2H0z" fill="#9e72be"/><path d="M0 26h1v1.2H0z" fill="#7030a0"/><path d="M0 27h1v1.2H0z" fill="#bb9dd2"/><path d="M0 28h1v1.2H0z" fill="#c2a7d7"/><path d="M0 29h1v1.2H0z" fill="#9465b8"/><path d="M0 30h1v1.2H0z" fill="#a57cc3"/><path d="M0 31h1v1.2H0z" fill="#ab85c7"/><path d="M0 32h1v1.2H0z" fill="#7030a0"/><path d="M0 33h1v1.2H0z" fill="#7030a0"/><path d="M0 34h1v1.2H0z" fill="#7a3ea7"/><path d="M0 35h1v1.2H0z" fill="#e3d6ec"/><path d="M0 36h1v1.2H0z" fill="#c8afda"/><path d="M0 37h1v1.2H0z" fill="#8ec072"/><path d="M0 38h1v1.2H0z" fill="#91c277"/><path d="M0 39h1v1.2H0z" fill="#e8f2e2"/><path d="M0 40h1v1.2H0z" fill="#a780c5"/><path d="M0 41h1v1.2H0z" fill="#9a6cbc"/><path d="M0 42h1v1.2H0z" fill="#7436a3"/><path d="M0 43h1v1.2H0z" fill="#7030a0"/><path d="M0 44h1v1.2H0z" fill="#7030a0"/><path d="M0 45h1v1.2H0z" fill="#9e73bf"/><path d="M0 46h1v1.2H0z" fill="#f6f2f9"/><path d="M0 47h1v1.2H0z" fill="#e7ddef"/><path d="M0 48h1v1.2H0z" fill="#854eae"/><path d="M0 49h1v1.2H0z" fill="#d0e5c5"/><path d="M0 50h1v1.2H0z" fill="#b7d7a5"/><path d="M0 51h1v1.2H0z" fill="#c0a3d5"/><path d="M0 52h1v1.2H0z" fill="#7030a0"/><path d="M0 53h1v1.2H0z" fill="#c1a6d6"/><path d="M0 54h1v1.2H0z" fill="#bfa3d5"/><path d="M0 55h1v1.2H0z" fill="#c6dfb9"/><path d="M0 56h1v1.2H0z" fill="#7131a1"/><path d="M0 57h1v1.2H0z" fill="#f3f8f0"/><path d="M0 58h1v1.2H0z" fill="#7f46aa"/><path d="M0 59h1v1.2H0z" fill="#996cbb"/><path d="M0 60h1v1.2H0z" fill="#8752af"/><path d="M0 61h1v1.2H0z" fill="#dbebd2"/><path d="M0 62h1v1.2H0z" fill="#a076c0"/><path d="M0 63h1v1.2H0z" fill="#8650af"/><path d="M0 64h1v1.2H0z" fill="#773aa4"/><path d="M0 65h1v1.2H0z" fill="#ab85c7"/><path d="M0 66h1v1.2H0z" fill="#8048ab"/><path d="M0 67h1v1.2H0z" fill="#b3d5a1"/><path d="M0 68h1v1.2H0z" fill="#b8d7a7"/><path d="M0 69h1v1.2H0z" fill="#7030a0"/><path d="M0 70h1v1.2H0z" fill="#a279c1"/><path d="M0 71h1v1.2H0z" fill="#9464b8"/><path d="M0 72h1v1.2H0z" fill="#9c70bd"/><path d="M0 73h1v1.2H0z" fill="#7030a0"/><path d="M0 74h1v1.2H0z" fill="#7030a0"/><path d="M0 75h1v1.2H0z" fill="#d3bfe2"/><path d="M0 76h1v1.2H0z" fill="#c3a8d7"/><path d="M0 77h1v1.2H0z" fill="#b5d6a3"/><path d="M0 78h1v1.2H0z" fill="#d7e9ce"/><path d="M0 79h1v1.2H0z" fill="#b2d49f"/><path d="M0 80h1v1.2H0z" fill="#8954b0"/><path d="M0 81h1v1.2H0z" fill="#f0f7ec"/><path d="M0 82h1v1.2H0z" fill="#bda0d3"/><path d="M0 83h1v1.2H0z" fill="#a37ac2"/><path d="M0 84h1v1.2H0z" fill="#acd197"/><path d="M0 85h1v1.2H0z" fill="#a2cb8b"/><path d="M0 86h1v1.2H0z" fill="#b1d49e"/><path d="M0 87h1v1.2H0z" fill="#c7afda"/><path d="M0 88h1v1.2H0z" fill="#cce3c0"/><path d="M0 89h1v1.2H0z" fill="#9ec987"/><path d="M0 90h1v1.2H0z" fill="#cfbadf"/><path d="M0 91h1v1.2H0z" fill="#c9b1db"/><path d="M0 92h1v1.2H0z" fill="#e0d2ea"/><path d="M0 93h1v1.2H0z" fill="#dcecd4"/><path d="M0 94h1v1.2H0z" fill="#9b6ebc"/><path d="M0 95h1v1.2H0z" fill="#9768ba"/><path d="M0 96h1v1.2H0z" fill="#f6faf3"/><path d="M0 97h1v1.2H0z" fill="#e6f1e0"/><path d="M0 98h1v1.2H0z" fill="#84bb67"/><path d="M0 99h1v1.2H0z" fill="#a1cb8b"/><path d="M0 100h1v1.2H0z" fill="#b8d7a7"/><path d="M0 101h1v1.2H0z" fill="#83ba65"/><path d="M0 102h1v1.2H0z" fill="#6aac46"/><path d="M0 103h1v1.2H0z" fill="#f4f9f1"/><path d="M0 104h1v1.2H0z" fill="#ecf4e7"/><path d="M0 105h1v1.2H0z" fill="#eaf3e4"/><path d="M0 106h1v1.2H0z" fill="#bc9ed2"/><path d="M0 107h1v1.2H0z" fill="#ab85c7"/><path d="M0 108h1v1.2H0z" fill="#9c6fbd"/><path d="M0 109h1v1.2H0z" fill="#f9fcf7"/><path d="M0 110h1v1.2H0z" fill="#9dc986"/><path d="M0 111h1v1.2H0z" fill="#b2d49f"/><path d="M0 112h1v1.2H0z" fill="#efe8f4"/><path d="M0 113h1v1.2H0z" fill="#c9e1bc"/><path d="M0 114h1v1.2H0z" fill="#9565b8"/><path d="M0 115h1v1.2H0z" fill="#c6e0b9"/><path d="M0 116h1v1.2H0z" fill="#6aac46"/><path d="M0 117h1v1.2H0z" fill="#fbf9fc"/><path d="M0 118h1v1.2H0z" fill="#6aac46"/><path d="M0 119h1v1.2H0z" fill="#c8e1bb"/><path d="M0 120h1v1.2H0z" fill="#c4deb5"/><path d="M0 121h1v1.2H0z" fill="#6aac46"/><path d="M0 122h1v1.2H0z" fill="#d6e8cd"/><path d="M0 123h1v1.2H0z" fill="#a1cb8b"/><path d="M0 124h1v1.2H0z" fill="#d0e5c5"/><path d="M0 125h1v1.2H0z" fill="#d0e5c5"/><path d="M0 126h1v1.2H0z" fill="#cfe4c4"/><path d="M0 127h1v1.2H0z" fill="#e8f2e3"/><path d="M0 128h1v1.2H0z" fill="#eaf3e5"/><path d="M0 129h1v1.2H0z" fill="#89bd6c"/><path d="M0 130h1v1.2H0z" fill="#aed29a"/><path d="M0 131h1v1.2H0z" fill="#6aac46"/><path d="M0 132h1v1.2H0z" fill="#6aac46"/><path d="M0 133h1v1.2H0z" fill="#73b151"/><path d="M0 134h1v1.2H0z" fill="#9ec986"/><path d="M0 135h1v1.2H0z" fill="#fbfdf9"/><path d="M0 136h1v1.2H0z" fill="#cae1bd"/><path d="M0 137h1v1.2H0z" fill="#6aac46"/><path d="M0 138h1v1.2H0z" fill="#7ab55a"/><path d="M0 139h1v1.2H0z" fill="#cfe4c3"/><path d="M0 140h1v1.2H0z" fill="#b9d8a8"/><path d="M0 141h1v1.2H0z" fill="#bfdbb0"/><path d="M0 142h1v1.2H0z" fill="#f5f9f3"/><path d="M0 143h1v1.2H0z" fill="#f1ebf6"/><path d="M0 144h1v1.2H0z" fill="#c8e0bb"/><path d="M0 145h1v1.2H0z" fill="#6faf4c"/><path d="M0 146h1v1.2H0z" fill="#e9f2e3"/><path d="M0 147h1v1.2H0z" fill="#a3cc8d"/><path d="M0 148h1v1.2H0z" fill="#6faf4d"/><path d="M0 149h1v1.2H0z" fill="#6aac46"/><path d="M0 150h1v1.2H0z" fill="#7cb65c"/><path d="M0 151h1v1.2H0z" fill="#e3efdc"/><path d="M0 152h1v1.2H0z" fill="#85bb68"/><path d="M0 153h1v1.2H0z" fill="#89bd6c"/><path d="M0 154h1v1.2H0z" fill="#c6dfb8"/><path d="M0 155h1v1.2H0z" fill="#cde3c0"/><path d="M0 156h1v1.2H0z" fill="#c9e1bc"/><path d="M0 157h1v1.2H0z" fill="#6aac46"/><path d="M0 158h1v1.2H0z" fill="#b5d6a3"/><path d="M0 159h1v1.2H0z" fill="#add29a"/><path d="M0 160h1v1.2H0z" fill="#96c47c"/><path d="M0 161h1v1.2H0z" fill="#fbfdf9"/></svg>
<text x="8.0" y="21.7" font-size="12.90">a.</text>
<text x="27.0" y="21.7" font-size="12.90">Enhancing Tumor vs. Brain</text>
<text x="27.0" y="36.7" font-size="12.90">Catheter X/Z</text>
<text x="395.3" y="20.2" font-size="12.90">b.</text>
<text x="412.5" y="20.2" font-size="12.90">Enhancing vs. Non-Enhancing Tumor</text>
<text x="412.5" y="35.0" font-size="12.90">Catheter X/Y</text>
<text x="810.8" y="21.7" font-size="12.90">c.</text>
<text x="828.7" y="21.7" font-size="12.90">Non-Enhancing Tumor vs. Brain</text>
<text x="828.7" y="36.7" font-size="12.90">Catheter Y/Z</text>
<text x="5.8" y="59.3" font-size="12.50">(i)</text>
<text x="394.2" y="57.6" font-size="12.50">(i)</text>
<text x="810.8" y="57.6" font-size="12.50">(i)</text>
<text x="31.7" y="53.3" font-size="7.90">Rank</text>
<text x="42.0" y="65.7" font-size="8.20" style="font-weight:normal" stroke="#000" stroke-width="0.12" text-anchor="middle">1</text>
<text x="40.8" y="83.5" font-size="8.20" style="font-weight:normal" stroke="#000" stroke-width="0.12" text-anchor="middle" textLength="8.0" lengthAdjust="spacingAndGlyphs">10</text>
<text x="40.8" y="103.1" font-size="8.20" style="font-weight:normal" stroke="#000" stroke-width="0.12" text-anchor="middle" textLength="8.0" lengthAdjust="spacingAndGlyphs">20</text>
<text x="40.8" y="122.8" font-size="8.20" style="font-weight:normal" stroke="#000" stroke-width="0.12" text-anchor="middle" textLength="8.0" lengthAdjust="spacingAndGlyphs">30</text>
<text x="40.8" y="142.5" font-size="8.20" style="font-weight:normal" stroke="#000" stroke-width="0.12" text-anchor="middle" textLength="8.0" lengthAdjust="spacingAndGlyphs">40</text>
<text x="40.8" y="162.2" font-size="8.20" style="font-weight:normal" stroke="#000" stroke-width="0.12" text-anchor="middle" textLength="8.0" lengthAdjust="spacingAndGlyphs">50</text>
<text x="40.8" y="181.8" font-size="8.20" style="font-weight:normal" stroke="#000" stroke-width="0.12" text-anchor="middle" textLength="8.0" lengthAdjust="spacingAndGlyphs">60</text>
<text x="40.8" y="201.5" font-size="8.20" style="font-weight:normal" stroke="#000" stroke-width="0.12" text-anchor="middle" textLength="8.0" lengthAdjust="spacingAndGlyphs">70</text>
<text x="40.8" y="221.2" font-size="8.20" style="font-weight:normal" stroke="#000" stroke-width="0.12" text-anchor="middle" textLength="8.0" lengthAdjust="spacingAndGlyphs">80</text>
<text x="40.8" y="240.9" font-size="8.20" style="font-weight:normal" stroke="#000" stroke-width="0.12" text-anchor="middle" textLength="8.0" lengthAdjust="spacingAndGlyphs">90</text>
<text x="40.8" y="260.6" font-size="8.20" style="font-weight:normal" stroke="#000" stroke-width="0.12" text-anchor="middle" textLength="12.7" lengthAdjust="spacingAndGlyphs">100</text>
<text x="40.8" y="280.2" font-size="8.20" style="font-weight:normal" stroke="#000" stroke-width="0.12" text-anchor="middle" textLength="12.7" lengthAdjust="spacingAndGlyphs">110</text>
<text x="40.8" y="299.9" font-size="8.20" style="font-weight:normal" stroke="#000" stroke-width="0.12" text-anchor="middle" textLength="12.7" lengthAdjust="spacingAndGlyphs">120</text>
<text x="40.8" y="319.6" font-size="8.20" style="font-weight:normal" stroke="#000" stroke-width="0.12" text-anchor="middle" textLength="12.7" lengthAdjust="spacingAndGlyphs">130</text>
<text x="40.8" y="339.3" font-size="8.20" style="font-weight:normal" stroke="#000" stroke-width="0.12" text-anchor="middle" textLength="12.7" lengthAdjust="spacingAndGlyphs">140</text>
<text x="40.8" y="359.0" font-size="8.20" style="font-weight:normal" stroke="#000" stroke-width="0.12" text-anchor="middle" textLength="12.7" lengthAdjust="spacingAndGlyphs">150</text>
<text x="40.8" y="378.2" font-size="8.20" style="font-weight:normal" stroke="#000" stroke-width="0.12" text-anchor="middle" textLength="12.7" lengthAdjust="spacingAndGlyphs">162</text>
<text x="430.7" y="57.4" font-size="8.30">Rank</text>
<text x="441.6" y="67.7" font-size="8.20" style="font-weight:normal" stroke="#000" stroke-width="0.12" text-anchor="middle">1</text>
<text x="440.4" y="86.5" font-size="8.20" style="font-weight:normal" stroke="#000" stroke-width="0.12" text-anchor="middle" textLength="8.0" lengthAdjust="spacingAndGlyphs">10</text>
<text x="440.4" y="107.6" font-size="8.20" style="font-weight:normal" stroke="#000" stroke-width="0.12" text-anchor="middle" textLength="8.0" lengthAdjust="spacingAndGlyphs">20</text>
<text x="440.4" y="128.7" font-size="8.20" style="font-weight:normal" stroke="#000" stroke-width="0.12" text-anchor="middle" textLength="8.0" lengthAdjust="spacingAndGlyphs">30</text>
<text x="440.4" y="149.8" font-size="8.20" style="font-weight:normal" stroke="#000" stroke-width="0.12" text-anchor="middle" textLength="8.0" lengthAdjust="spacingAndGlyphs">40</text>
<text x="440.4" y="170.9" font-size="8.20" style="font-weight:normal" stroke="#000" stroke-width="0.12" text-anchor="middle" textLength="8.0" lengthAdjust="spacingAndGlyphs">50</text>
<text x="440.4" y="192.0" font-size="8.20" style="font-weight:normal" stroke="#000" stroke-width="0.12" text-anchor="middle" textLength="8.0" lengthAdjust="spacingAndGlyphs">60</text>
<text x="440.4" y="213.1" font-size="8.20" style="font-weight:normal" stroke="#000" stroke-width="0.12" text-anchor="middle" textLength="8.0" lengthAdjust="spacingAndGlyphs">70</text>
<text x="440.4" y="234.2" font-size="8.20" style="font-weight:normal" stroke="#000" stroke-width="0.12" text-anchor="middle" textLength="8.0" lengthAdjust="spacingAndGlyphs">80</text>
<text x="440.4" y="255.3" font-size="8.20" style="font-weight:normal" stroke="#000" stroke-width="0.12" text-anchor="middle" textLength="8.0" lengthAdjust="spacingAndGlyphs">90</text>
<text x="440.4" y="276.4" font-size="8.20" style="font-weight:normal" stroke="#000" stroke-width="0.12" text-anchor="middle" textLength="12.7" lengthAdjust="spacingAndGlyphs">100</text>
<text x="440.4" y="297.4" font-size="8.20" style="font-weight:normal" stroke="#000" stroke-width="0.12" text-anchor="middle" textLength="12.7" lengthAdjust="spacingAndGlyphs">110</text>
<text x="440.4" y="318.5" font-size="8.20" style="font-weight:normal" stroke="#000" stroke-width="0.12" text-anchor="middle" textLength="12.7" lengthAdjust="spacingAndGlyphs">120</text>
<text x="440.4" y="339.6" font-size="8.20" style="font-weight:normal" stroke="#000" stroke-width="0.12" text-anchor="middle" textLength="12.7" lengthAdjust="spacingAndGlyphs">130</text>
<text x="440.4" y="360.7" font-size="8.20" style="font-weight:normal" stroke="#000" stroke-width="0.12" text-anchor="middle" textLength="12.7" lengthAdjust="spacingAndGlyphs">140</text>
<text x="440.4" y="381.8" font-size="8.20" style="font-weight:normal" stroke="#000" stroke-width="0.12" text-anchor="middle" textLength="12.7" lengthAdjust="spacingAndGlyphs">150</text>
<text x="440.4" y="403.8" font-size="8.20" style="font-weight:normal" stroke="#000" stroke-width="0.12" text-anchor="middle" textLength="12.7" lengthAdjust="spacingAndGlyphs">162</text>
<text x="833.5" y="61.6" font-size="8.50">Rank</text>
<text x="844.2" y="70.5" font-size="8.20" style="font-weight:normal" stroke="#000" stroke-width="0.12" text-anchor="middle">1</text>
<text x="843.0" y="90.2" font-size="8.20" style="font-weight:normal" stroke="#000" stroke-width="0.12" text-anchor="middle" textLength="8.0" lengthAdjust="spacingAndGlyphs">10</text>
<text x="843.0" y="111.0" font-size="8.20" style="font-weight:normal" stroke="#000" stroke-width="0.12" text-anchor="middle" textLength="8.0" lengthAdjust="spacingAndGlyphs">20</text>
<text x="843.0" y="131.9" font-size="8.20" style="font-weight:normal" stroke="#000" stroke-width="0.12" text-anchor="middle" textLength="8.0" lengthAdjust="spacingAndGlyphs">30</text>
<text x="843.0" y="152.8" font-size="8.20" style="font-weight:normal" stroke="#000" stroke-width="0.12" text-anchor="middle" textLength="8.0" lengthAdjust="spacingAndGlyphs">40</text>
<text x="843.0" y="173.8" font-size="8.20" style="font-weight:normal" stroke="#000" stroke-width="0.12" text-anchor="middle" textLength="8.0" lengthAdjust="spacingAndGlyphs">50</text>
<text x="843.0" y="194.6" font-size="8.20" style="font-weight:normal" stroke="#000" stroke-width="0.12" text-anchor="middle" textLength="8.0" lengthAdjust="spacingAndGlyphs">60</text>
<text x="843.0" y="215.5" font-size="8.20" style="font-weight:normal" stroke="#000" stroke-width="0.12" text-anchor="middle" textLength="8.0" lengthAdjust="spacingAndGlyphs">70</text>
<text x="843.0" y="236.4" font-size="8.20" style="font-weight:normal" stroke="#000" stroke-width="0.12" text-anchor="middle" textLength="8.0" lengthAdjust="spacingAndGlyphs">80</text>
<text x="843.0" y="257.3" font-size="8.20" style="font-weight:normal" stroke="#000" stroke-width="0.12" text-anchor="middle" textLength="8.0" lengthAdjust="spacingAndGlyphs">90</text>
<text x="843.0" y="278.2" font-size="8.20" style="font-weight:normal" stroke="#000" stroke-width="0.12" text-anchor="middle" textLength="12.7" lengthAdjust="spacingAndGlyphs">100</text>
<text x="843.0" y="299.1" font-size="8.20" style="font-weight:normal" stroke="#000" stroke-width="0.12" text-anchor="middle" textLength="12.7" lengthAdjust="spacingAndGlyphs">110</text>
<text x="843.0" y="320.0" font-size="8.20" style="font-weight:normal" stroke="#000" stroke-width="0.12" text-anchor="middle" textLength="12.7" lengthAdjust="spacingAndGlyphs">120</text>
<text x="843.0" y="340.9" font-size="8.20" style="font-weight:normal" stroke="#000" stroke-width="0.12" text-anchor="middle" textLength="12.7" lengthAdjust="spacingAndGlyphs">130</text>
<text x="843.0" y="361.8" font-size="8.20" style="font-weight:normal" stroke="#000" stroke-width="0.12" text-anchor="middle" textLength="12.7" lengthAdjust="spacingAndGlyphs">140</text>
<text x="843.0" y="382.7" font-size="8.20" style="font-weight:normal" stroke="#000" stroke-width="0.12" text-anchor="middle" textLength="12.7" lengthAdjust="spacingAndGlyphs">150</text>
<text x="843.0" y="402.8" font-size="8.20" style="font-weight:normal" stroke="#000" stroke-width="0.12" text-anchor="middle" textLength="12.7" lengthAdjust="spacingAndGlyphs">162</text>
<rect x="828" y="401" width="30" height="8" fill="#fff"/>
<defs><linearGradient id="ta1" x1="0" y1="56.8" x2="0" y2="216.0" gradientUnits="userSpaceOnUse"><stop offset="0" stop-color="#fd9608"/><stop offset="1" stop-color="#ffffff"/></linearGradient></defs><polygon points="51.1,56.8 72.4,56.8 72.4,216.0" fill="url(#ta1)"/>
<defs><linearGradient id="ta2" x1="0" y1="215.0" x2="0" y2="376.3" gradientUnits="userSpaceOnUse"><stop offset="0" stop-color="#ffffff"/><stop offset="1" stop-color="#6aac46"/></linearGradient></defs><polygon points="72.4,215.0 72.4,376.3 51.7,376.3" fill="url(#ta2)"/>
<defs><linearGradient id="tb1" x1="0" y1="63.0" x2="0" y2="228.0" gradientUnits="userSpaceOnUse"><stop offset="0" stop-color="#fd9608"/><stop offset="1" stop-color="#ffffff"/></linearGradient></defs><polygon points="453.7,63.0 477.0,63.0 477.0,228.0" fill="url(#tb1)"/>
<defs><linearGradient id="tb2" x1="0" y1="228.0" x2="0" y2="402.7" gradientUnits="userSpaceOnUse"><stop offset="0" stop-color="#ffffff"/><stop offset="1" stop-color="#7030a0"/></linearGradient></defs><polygon points="477.0,228.0 477.0,402.7 454.3,402.7" fill="url(#tb2)"/>
<defs><linearGradient id="tc1" x1="0" y1="65.9" x2="0" y2="230.0" gradientUnits="userSpaceOnUse"><stop offset="0" stop-color="#7030a0"/><stop offset="1" stop-color="#ffffff"/></linearGradient></defs><polygon points="857.1,65.9 879.9,65.9 879.9,230.0" fill="url(#tc1)"/>
<defs><linearGradient id="tc2" x1="0" y1="230.0" x2="0" y2="400.7" gradientUnits="userSpaceOnUse"><stop offset="0" stop-color="#ffffff"/><stop offset="1" stop-color="#6aac46"/></linearGradient></defs><polygon points="879.8,230.0 879.8,400.7 858.4,400.7" fill="url(#tc2)"/>
<text x="65.00" y="88.61" font-size="9.60" fill="#000" text-anchor="middle" transform="rotate(-90 65.00 85.25)" textLength="49.9" lengthAdjust="spacingAndGlyphs">Enh. Tumor</text>
<text x="63.50" y="363.72" font-size="9.20" fill="#000" text-anchor="middle" transform="rotate(-90 63.50 360.50)" textLength="21.0" lengthAdjust="spacingAndGlyphs">Brain</text>
<text x="469.00" y="96.06" font-size="9.60" fill="#000" text-anchor="middle" transform="rotate(-90 469.00 92.70)" textLength="52.0" lengthAdjust="spacingAndGlyphs">Enh. Tumor</text>
<text x="468.50" y="379.63" font-size="10.80" fill="#fff" text-anchor="middle" transform="rotate(-90 468.50 375.85)" textLength="44.7" lengthAdjust="spacingAndGlyphs">NE Tumor</text>
<text x="872.50" y="95.78" font-size="10.80" fill="#fff" text-anchor="middle" transform="rotate(-90 872.50 92.00)" textLength="45.0" lengthAdjust="spacingAndGlyphs">NE Tumor</text>
<text x="870.00" y="387.81" font-size="9.60" fill="#000" text-anchor="middle" transform="rotate(-90 870.00 384.45)" textLength="22.5" lengthAdjust="spacingAndGlyphs">Brain</text>
<text x="95.00" y="55.50" font-size="8.60" fill="#ff0000" transform="rotate(-42.0 95.00 55.50)">GBM<tspan font-size="5.16" dy="-3.27">WT</tspan><tspan font-size="8.60" dy="3.27">1</tspan></text>
<text x="119.42" y="55.50" font-size="8.60" fill="#ff0000" transform="rotate(-42.0 119.42 55.50)">GBM<tspan font-size="5.16" dy="-3.27">WT</tspan><tspan font-size="8.60" dy="3.27">2</tspan></text>
<text x="143.84" y="55.50" font-size="8.60" fill="#ff0000" transform="rotate(-42.0 143.84 55.50)">GBM<tspan font-size="5.16" dy="-3.27">WT</tspan><tspan font-size="8.60" dy="3.27">2B</tspan></text>
<text x="168.27" y="55.50" font-size="8.60" fill="#ff0000" transform="rotate(-42.0 168.27 55.50)">GBM<tspan font-size="5.16" dy="-3.27">WT</tspan><tspan font-size="8.60" dy="3.27">3</tspan></text>
<text x="192.69" y="55.50" font-size="8.60" fill="#ff0000" transform="rotate(-42.0 192.69 55.50)">GBM<tspan font-size="5.16" dy="-3.27">WT</tspan><tspan font-size="8.60" dy="3.27">4</tspan></text>
<text x="217.11" y="55.50" font-size="8.60" fill="#ff0000" transform="rotate(-42.0 217.11 55.50)">H3K27M-Astro<tspan font-size="5.16" dy="-3.27">4-WT</tspan></text>
<text x="241.53" y="55.50" font-size="8.60" fill="#2a3cff" transform="rotate(-42.0 241.53 55.50)">Astro<tspan font-size="5.16" dy="-3.27">4-mut</tspan><tspan font-size="8.60" dy="3.27">1</tspan></text>
<text x="265.96" y="55.50" font-size="8.60" fill="#2a3cff" transform="rotate(-42.0 265.96 55.50)">Astro<tspan font-size="5.16" dy="-3.27">4-mut</tspan><tspan font-size="8.60" dy="3.27">2</tspan></text>
<text x="290.38" y="55.50" font-size="8.60" fill="#2a3cff" transform="rotate(-42.0 290.38 55.50)">Astro<tspan font-size="5.16" dy="-3.27">4-mut</tspan><tspan font-size="8.60" dy="3.27">3</tspan></text>
<text x="499.60" y="63.00" font-size="9.00" fill="#ff0000" transform="rotate(-42.0 499.60 63.00)">GBM<tspan font-size="5.40" dy="-3.42">WT</tspan><tspan font-size="9.00" dy="3.42">1</tspan></text>
<text x="530.83" y="63.00" font-size="9.00" fill="#ff0000" transform="rotate(-42.0 530.83 63.00)">GBM<tspan font-size="5.40" dy="-3.42">WT</tspan><tspan font-size="9.00" dy="3.42">2</tspan></text>
<text x="562.06" y="63.00" font-size="9.00" fill="#ff0000" transform="rotate(-42.0 562.06 63.00)">GBM<tspan font-size="5.40" dy="-3.42">WT</tspan><tspan font-size="9.00" dy="3.42">3</tspan></text>
<text x="593.29" y="63.00" font-size="9.00" fill="#ff0000" transform="rotate(-42.0 593.29 63.00)">GBM<tspan font-size="5.40" dy="-3.42">WT</tspan><tspan font-size="9.00" dy="3.42">4</tspan></text>
<text x="624.51" y="63.00" font-size="9.00" fill="#ff0000" transform="rotate(-42.0 624.51 63.00)">H3K27M-Astro<tspan font-size="5.40" dy="-3.42">4-WT</tspan></text>
<text x="655.74" y="63.00" font-size="9.00" fill="#2a3cff" transform="rotate(-42.0 655.74 63.00)">Astro<tspan font-size="5.40" dy="-3.42">4-mut</tspan><tspan font-size="9.00" dy="3.42">1</tspan></text>
<text x="686.97" y="63.00" font-size="9.00" fill="#2a3cff" transform="rotate(-42.0 686.97 63.00)">Astro<tspan font-size="5.40" dy="-3.42">4-mut</tspan><tspan font-size="9.00" dy="3.42">2</tspan></text>
<text x="901.30" y="64.50" font-size="9.00" fill="#ff0000" transform="rotate(-42.0 901.30 64.50)">GBM<tspan font-size="5.40" dy="-3.42">WT</tspan><tspan font-size="9.00" dy="3.42">1</tspan></text>
<text x="932.01" y="64.50" font-size="9.00" fill="#ff0000" transform="rotate(-42.0 932.01 64.50)">GBM<tspan font-size="5.40" dy="-3.42">WT</tspan><tspan font-size="9.00" dy="3.42">2</tspan></text>
<text x="962.73" y="64.50" font-size="9.00" fill="#ff0000" transform="rotate(-42.0 962.73 64.50)">GBM<tspan font-size="5.40" dy="-3.42">WT</tspan><tspan font-size="9.00" dy="3.42">3</tspan></text>
<text x="993.44" y="64.50" font-size="9.00" fill="#ff0000" transform="rotate(-42.0 993.44 64.50)">GBM<tspan font-size="5.40" dy="-3.42">WT</tspan><tspan font-size="9.00" dy="3.42">4</tspan></text>
<text x="1024.16" y="64.50" font-size="9.00" fill="#ff0000" transform="rotate(-42.0 1024.16 64.50)">H3K27M-Astro<tspan font-size="5.40" dy="-3.42">4-WT</tspan></text>
<text x="1054.87" y="64.50" font-size="9.00" fill="#2a3cff" transform="rotate(-42.0 1054.87 64.50)">Astro<tspan font-size="5.40" dy="-3.42">4-mut</tspan><tspan font-size="9.00" dy="3.42">1</tspan></text>
<text x="1085.59" y="64.50" font-size="9.00" fill="#2a3cff" transform="rotate(-42.0 1085.59 64.50)">Astro<tspan font-size="5.40" dy="-3.42">4-mut</tspan><tspan font-size="9.00" dy="3.42">2</tspan></text>
<g shape-rendering="crispEdges"><rect x="41.20" y="435.30" width="22.90" height="13.15" fill="#fd970a"/><rect x="64.00" y="435.30" width="22.90" height="13.15" fill="#feddae"/><rect x="86.80" y="435.30" width="22.90" height="13.15" fill="#fedfb3"/><rect x="109.60" y="435.30" width="22.90" height="13.15" fill="#fed7a1"/><rect x="132.40" y="435.30" width="22.90" height="13.15" fill="#fed294"/><rect x="155.20" y="435.30" width="22.90" height="13.15" fill="#febc61"/><rect x="178.00" y="435.30" width="22.90" height="13.15" fill="#fed9a6"/><rect x="200.80" y="435.30" width="22.90" height="13.15" fill="#fec77a"/><rect x="223.60" y="435.30" width="22.90" height="13.15" fill="#fed399"/><rect x="41.20" y="448.35" width="22.90" height="13.15" fill="#fed399"/><rect x="64.00" y="448.35" width="22.90" height="13.15" fill="#fd990e"/><rect x="86.80" y="448.35" width="22.90" height="13.15" fill="#febc61"/><rect x="109.60" y="448.35" width="22.90" height="13.15" fill="#febd65"/><rect x="132.40" y="448.35" width="22.90" height="13.15" fill="#fece8c"/><rect x="155.20" y="448.35" width="22.90" height="13.15" fill="#fec16d"/><rect x="178.00" y="448.35" width="22.90" height="13.15" fill="#fed090"/><rect x="200.80" y="448.35" width="22.90" height="13.15" fill="#feca83"/><rect x="223.60" y="448.35" width="22.90" height="13.15" fill="#feb24b"/><rect x="41.20" y="461.40" width="22.90" height="13.15" fill="#fec372"/><rect x="64.00" y="461.40" width="22.90" height="13.15" fill="#feca83"/><rect x="86.80" y="461.40" width="22.90" height="13.15" fill="#fd9b13"/><rect x="109.60" y="461.40" width="22.90" height="13.15" fill="#fec87f"/><rect x="132.40" y="461.40" width="22.90" height="13.15" fill="#fed7a1"/><rect x="155.20" y="461.40" width="22.90" height="13.15" fill="#fec16d"/><rect x="178.00" y="461.40" width="22.90" height="13.15" fill="#fec16d"/><rect x="200.80" y="461.40" width="22.90" height="13.15" fill="#febf69"/><rect x="223.60" y="461.40" width="22.90" height="13.15" fill="#febc61"/><rect x="41.20" y="474.45" width="22.90" height="13.15" fill="#fed090"/><rect x="64.00" y="474.45" width="22.90" height="13.15" fill="#febc61"/><rect x="86.80" y="474.45" width="22.90" height="13.15" fill="#fec16d"/><rect x="109.60" y="474.45" width="22.90" height="13.15" fill="#fd9608"/><rect x="132.40" y="474.45" width="22.90" height="13.15" fill="#feca83"/><rect x="155.20" y="474.45" width="22.90" height="13.15" fill="#feb654"/><rect x="178.00" y="474.45" width="22.90" height="13.15" fill="#fece8c"/><rect x="200.80" y="474.45" width="22.90" height="13.15" fill="#fece8c"/><rect x="223.60" y="474.45" width="22.90" height="13.15" fill="#fdaf42"/><rect x="41.20" y="487.50" width="22.90" height="13.15" fill="#feddae"/><rect x="64.00" y="487.50" width="22.90" height="13.15" fill="#ffebd1"/><rect x="86.80" y="487.50" width="22.90" height="13.15" fill="#fee4c0"/><rect x="109.60" y="487.50" width="22.90" height="13.15" fill="#fee2bb"/><rect x="132.40" y="487.50" width="22.90" height="13.15" fill="#fd990e"/><rect x="155.20" y="487.50" width="22.90" height="13.15" fill="#fed9a6"/><rect x="178.00" y="487.50" width="22.90" height="13.15" fill="#ffedd5"/><rect x="200.80" y="487.50" width="22.90" height="13.15" fill="#fed7a1"/><rect x="223.60" y="487.50" width="22.90" height="13.15" fill="#ffe8c8"/><rect x="41.20" y="500.55" width="22.90" height="13.15" fill="#fec372"/><rect x="64.00" y="500.55" width="22.90" height="13.15" fill="#fed090"/><rect x="86.80" y="500.55" width="22.90" height="13.15" fill="#fed090"/><rect x="109.60" y="500.55" width="22.90" height="13.15" fill="#fed59d"/><rect x="132.40" y="500.55" width="22.90" height="13.15" fill="#fed399"/><rect x="155.20" y="500.55" width="22.90" height="13.15" fill="#fd9c17"/><rect x="178.00" y="500.55" width="22.90" height="13.15" fill="#fed9a6"/><rect x="200.80" y="500.55" width="22.90" height="13.15" fill="#fed399"/><rect x="223.60" y="500.55" width="22.90" height="13.15" fill="#feca83"/><rect x="41.20" y="513.60" width="22.90" height="13.15" fill="#fecc87"/><rect x="64.00" y="513.60" width="22.90" height="13.15" fill="#fed090"/><rect x="86.80" y="513.60" width="22.90" height="13.15" fill="#feb858"/><rect x="109.60" y="513.60" width="22.90" height="13.15" fill="#feca83"/><rect x="132.40" y="513.60" width="22.90" height="13.15" fill="#fecc87"/><rect x="155.20" y="513.60" width="22.90" height="13.15" fill="#fec372"/><rect x="178.00" y="513.60" width="22.90" height="13.15" fill="#fd9b13"/><rect x="200.80" y="513.60" width="22.90" height="13.15" fill="#fec372"/><rect x="223.60" y="513.60" width="22.90" height="13.15" fill="#feb858"/><rect x="41.20" y="526.65" width="22.90" height="13.15" fill="#febd65"/><rect x="64.00" y="526.65" width="22.90" height="13.15" fill="#fed090"/><rect x="86.80" y="526.65" width="22.90" height="13.15" fill="#febf69"/><rect x="109.60" y="526.65" width="22.90" height="13.15" fill="#fed7a1"/><rect x="132.40" y="526.65" width="22.90" height="13.15" fill="#fec87f"/><rect x="155.20" y="526.65" width="22.90" height="13.15" fill="#fec77a"/><rect x="178.00" y="526.65" width="22.90" height="13.15" fill="#fec576"/><rect x="200.80" y="526.65" width="22.90" height="13.15" fill="#fd970a"/><rect x="223.60" y="526.65" width="22.90" height="13.15" fill="#febd65"/><rect x="41.20" y="539.70" width="22.90" height="13.15" fill="#feca83"/><rect x="64.00" y="539.70" width="22.90" height="13.15" fill="#feb44f"/><rect x="86.80" y="539.70" width="22.90" height="13.15" fill="#feb147"/><rect x="109.60" y="539.70" width="22.90" height="13.15" fill="#fec16d"/><rect x="132.40" y="539.70" width="22.90" height="13.15" fill="#febf69"/><rect x="155.20" y="539.70" width="22.90" height="13.15" fill="#febd65"/><rect x="178.00" y="539.70" width="22.90" height="13.15" fill="#febc61"/><rect x="200.80" y="539.70" width="22.90" height="13.15" fill="#feba5c"/><rect x="223.60" y="539.70" width="22.90" height="13.15" fill="#fd9b13"/><rect x="41.20" y="552.75" width="22.90" height="13.15" fill="#6dae4a"/><rect x="64.00" y="552.75" width="22.90" height="13.15" fill="#b5d6a3"/><rect x="86.80" y="552.75" width="22.90" height="13.15" fill="#bedbaf"/><rect x="109.60" y="552.75" width="22.90" height="13.15" fill="#bad8a9"/><rect x="132.40" y="552.75" width="22.90" height="13.15" fill="#c5dfb7"/><rect x="155.20" y="552.75" width="22.90" height="13.15" fill="#a5cd8f"/><rect x="178.00" y="552.75" width="22.90" height="13.15" fill="#b7d7a6"/><rect x="200.80" y="552.75" width="22.90" height="13.15" fill="#aed29b"/><rect x="223.60" y="552.75" width="22.90" height="13.15" fill="#b3d5a0"/><rect x="41.20" y="565.80" width="22.90" height="13.15" fill="#acd198"/><rect x="64.00" y="565.80" width="22.90" height="13.15" fill="#6dae4a"/><rect x="86.80" y="565.80" width="22.90" height="13.15" fill="#aed29b"/><rect x="109.60" y="565.80" width="22.90" height="13.15" fill="#acd198"/><rect x="132.40" y="565.80" width="22.90" height="13.15" fill="#cae1bd"/><rect x="155.20" y="565.80" width="22.90" height="13.15" fill="#b3d5a0"/><rect x="178.00" y="565.80" width="22.90" height="13.15" fill="#aacf95"/><rect x="200.80" y="565.80" width="22.90" height="13.15" fill="#acd198"/><rect x="223.60" y="565.80" width="22.90" height="13.15" fill="#acd198"/><rect x="41.20" y="578.85" width="22.90" height="13.15" fill="#acd198"/><rect x="64.00" y="578.85" width="22.90" height="13.15" fill="#b0d39d"/><rect x="86.80" y="578.85" width="22.90" height="13.15" fill="#6dae4a"/><rect x="109.60" y="578.85" width="22.90" height="13.15" fill="#a5cd8f"/><rect x="132.40" y="578.85" width="22.90" height="13.15" fill="#bad8a9"/><rect x="155.20" y="578.85" width="22.90" height="13.15" fill="#b5d6a3"/><rect x="178.00" y="578.85" width="22.90" height="13.15" fill="#aacf95"/><rect x="200.80" y="578.85" width="22.90" height="13.15" fill="#9ec987"/><rect x="223.60" y="578.85" width="22.90" height="13.15" fill="#9ec987"/><rect x="41.20" y="591.90" width="22.90" height="13.15" fill="#c1dcb2"/><rect x="64.00" y="591.90" width="22.90" height="13.15" fill="#b0d39d"/><rect x="86.80" y="591.90" width="22.90" height="13.15" fill="#bad8a9"/><rect x="109.60" y="591.90" width="22.90" height="13.15" fill="#70af4d"/><rect x="132.40" y="591.90" width="22.90" height="13.15" fill="#cce3c0"/><rect x="155.20" y="591.90" width="22.90" height="13.15" fill="#bedbaf"/><rect x="178.00" y="591.90" width="22.90" height="13.15" fill="#aed29b"/><rect x="200.80" y="591.90" width="22.90" height="13.15" fill="#bcdaac"/><rect x="223.60" y="591.90" width="22.90" height="13.15" fill="#a3cc8c"/><rect x="41.20" y="604.95" width="22.90" height="13.15" fill="#b0d39d"/><rect x="64.00" y="604.95" width="22.90" height="13.15" fill="#b0d39d"/><rect x="86.80" y="604.95" width="22.90" height="13.15" fill="#b5d6a3"/><rect x="109.60" y="604.95" width="22.90" height="13.15" fill="#aed29b"/><rect x="132.40" y="604.95" width="22.90" height="13.15" fill="#70af4d"/><rect x="155.20" y="604.95" width="22.90" height="13.15" fill="#a0ca89"/><rect x="178.00" y="604.95" width="22.90" height="13.15" fill="#c5dfb7"/><rect x="200.80" y="604.95" width="22.90" height="13.15" fill="#9cc884"/><rect x="223.60" y="604.95" width="22.90" height="13.15" fill="#bad8a9"/><rect x="41.20" y="618.00" width="22.90" height="13.15" fill="#a7ce92"/><rect x="64.00" y="618.00" width="22.90" height="13.15" fill="#b5d6a3"/><rect x="86.80" y="618.00" width="22.90" height="13.15" fill="#aacf95"/><rect x="109.60" y="618.00" width="22.90" height="13.15" fill="#aacf95"/><rect x="132.40" y="618.00" width="22.90" height="13.15" fill="#a0ca89"/><rect x="155.20" y="618.00" width="22.90" height="13.15" fill="#6dae4a"/><rect x="178.00" y="618.00" width="22.90" height="13.15" fill="#bad8a9"/><rect x="200.80" y="618.00" width="22.90" height="13.15" fill="#a5cd8f"/><rect x="223.60" y="618.00" width="22.90" height="13.15" fill="#aed29b"/><rect x="41.20" y="631.05" width="22.90" height="13.15" fill="#bcdaac"/><rect x="64.00" y="631.05" width="22.90" height="13.15" fill="#acd198"/><rect x="86.80" y="631.05" width="22.90" height="13.15" fill="#95c47b"/><rect x="109.60" y="631.05" width="22.90" height="13.15" fill="#b0d39d"/><rect x="132.40" y="631.05" width="22.90" height="13.15" fill="#d8e9ce"/><rect x="155.20" y="631.05" width="22.90" height="13.15" fill="#bcdaac"/><rect x="178.00" y="631.05" width="22.90" height="13.15" fill="#6aac46"/><rect x="200.80" y="631.05" width="22.90" height="13.15" fill="#b3d5a0"/><rect x="223.60" y="631.05" width="22.90" height="13.15" fill="#92c378"/><rect x="41.20" y="644.10" width="22.90" height="13.15" fill="#b3d5a0"/><rect x="64.00" y="644.10" width="22.90" height="13.15" fill="#aacf95"/><rect x="86.80" y="644.10" width="22.90" height="13.15" fill="#a0ca89"/><rect x="109.60" y="644.10" width="22.90" height="13.15" fill="#aacf95"/><rect x="132.40" y="644.10" width="22.90" height="13.15" fill="#a0ca89"/><rect x="155.20" y="644.10" width="22.90" height="13.15" fill="#a3cc8c"/><rect x="178.00" y="644.10" width="22.90" height="13.15" fill="#aed29b"/><rect x="200.80" y="644.10" width="22.90" height="13.15" fill="#70af4d"/><rect x="223.60" y="644.10" width="22.90" height="13.15" fill="#acd198"/><rect x="41.20" y="657.15" width="22.90" height="13.15" fill="#b3d5a0"/><rect x="64.00" y="657.15" width="22.90" height="13.15" fill="#a7ce92"/><rect x="86.80" y="657.15" width="22.90" height="13.15" fill="#99c681"/><rect x="109.60" y="657.15" width="22.90" height="13.15" fill="#9cc884"/><rect x="132.40" y="657.15" width="22.90" height="13.15" fill="#d5e8cb"/><rect x="155.20" y="657.15" width="22.90" height="13.15" fill="#bad8a9"/><rect x="178.00" y="657.15" width="22.90" height="13.15" fill="#97c57e"/><rect x="200.80" y="657.15" width="22.90" height="13.15" fill="#b5d6a3"/><rect x="223.60" y="657.15" width="22.90" height="13.15" fill="#6bad47"/></g><text x="52.6" y="444.2" font-size="6.60" text-anchor="middle">6.4</text><text x="75.4" y="444.2" font-size="6.60" text-anchor="middle">2.6</text><text x="98.2" y="444.2" font-size="6.60" text-anchor="middle">2.5</text><text x="121.0" y="444.2" font-size="6.60" text-anchor="middle">2.9</text><text x="143.8" y="444.2" font-size="6.60" text-anchor="middle">3.2</text><text x="166.6" y="444.2" font-size="6.60" text-anchor="middle">4.4</text><text x="189.4" y="444.2" font-size="6.60" text-anchor="middle">2.8</text><text x="212.2" y="444.2" font-size="6.60" text-anchor="middle">3.8</text><text x="235.0" y="444.2" font-size="6.60" text-anchor="middle">3.1</text><text x="52.6" y="457.3" font-size="6.60" text-anchor="middle">3.1</text><text x="75.4" y="457.3" font-size="6.60" text-anchor="middle">6.3</text><text x="98.2" y="457.3" font-size="6.60" text-anchor="middle">4.4</text><text x="121.0" y="457.3" font-size="6.60" text-anchor="middle">4.3</text><text x="143.8" y="457.3" font-size="6.60" text-anchor="middle">3.4</text><text x="166.6" y="457.3" font-size="6.60" text-anchor="middle">4.1</text><text x="189.4" y="457.3" font-size="6.60" text-anchor="middle">3.3</text><text x="212.2" y="457.3" font-size="6.60" text-anchor="middle">3.6</text><text x="235.0" y="457.3" font-size="6.60" text-anchor="middle">4.9</text><text x="52.6" y="470.3" font-size="6.60" text-anchor="middle">4.0</text><text x="75.4" y="470.3" font-size="6.60" text-anchor="middle">3.6</text><text x="98.2" y="470.3" font-size="6.60" text-anchor="middle">6.2</text><text x="121.0" y="470.3" font-size="6.60" text-anchor="middle">3.7</text><text x="143.8" y="470.3" font-size="6.60" text-anchor="middle">2.9</text><text x="166.6" y="470.3" font-size="6.60" text-anchor="middle">4.1</text><text x="189.4" y="470.3" font-size="6.60" text-anchor="middle">4.1</text><text x="212.2" y="470.3" font-size="6.60" text-anchor="middle">4.2</text><text x="235.0" y="470.3" font-size="6.60" text-anchor="middle">4.4</text><text x="52.6" y="483.4" font-size="6.60" text-anchor="middle">3.3</text><text x="75.4" y="483.4" font-size="6.60" text-anchor="middle">4.4</text><text x="98.2" y="483.4" font-size="6.60" text-anchor="middle">4.1</text><text x="121.0" y="483.4" font-size="6.60" text-anchor="middle">6.5</text><text x="143.8" y="483.4" font-size="6.60" text-anchor="middle">3.6</text><text x="166.6" y="483.4" font-size="6.60" text-anchor="middle">4.7</text><text x="189.4" y="483.4" font-size="6.60" text-anchor="middle">3.4</text><text x="212.2" y="483.4" font-size="6.60" text-anchor="middle">3.4</text><text x="235.0" y="483.4" font-size="6.60" text-anchor="middle">5.1</text><text x="52.6" y="496.4" font-size="6.60" text-anchor="middle">2.6</text><text x="75.4" y="496.4" font-size="6.60" text-anchor="middle">1.8</text><text x="98.2" y="496.4" font-size="6.60" text-anchor="middle">2.2</text><text x="121.0" y="496.4" font-size="6.60" text-anchor="middle">2.3</text><text x="143.8" y="496.4" font-size="6.60" text-anchor="middle">6.3</text><text x="166.6" y="496.4" font-size="6.60" text-anchor="middle">2.8</text><text x="189.4" y="496.4" font-size="6.60" text-anchor="middle">1.7</text><text x="212.2" y="496.4" font-size="6.60" text-anchor="middle">2.9</text><text x="235.0" y="496.4" font-size="6.60" text-anchor="middle">2.0</text><text x="52.6" y="509.5" font-size="6.60" text-anchor="middle">4.0</text><text x="75.4" y="509.5" font-size="6.60" text-anchor="middle">3.3</text><text x="98.2" y="509.5" font-size="6.60" text-anchor="middle">3.3</text><text x="121.0" y="509.5" font-size="6.60" text-anchor="middle">3.0</text><text x="143.8" y="509.5" font-size="6.60" text-anchor="middle">3.1</text><text x="166.6" y="509.5" font-size="6.60" text-anchor="middle">6.1</text><text x="189.4" y="509.5" font-size="6.60" text-anchor="middle">2.8</text><text x="212.2" y="509.5" font-size="6.60" text-anchor="middle">3.1</text><text x="235.0" y="509.5" font-size="6.60" text-anchor="middle">3.6</text><text x="52.6" y="522.5" font-size="6.60" text-anchor="middle">3.5</text><text x="75.4" y="522.5" font-size="6.60" text-anchor="middle">3.3</text><text x="98.2" y="522.5" font-size="6.60" text-anchor="middle">4.6</text><text x="121.0" y="522.5" font-size="6.60" text-anchor="middle">3.6</text><text x="143.8" y="522.5" font-size="6.60" text-anchor="middle">3.5</text><text x="166.6" y="522.5" font-size="6.60" text-anchor="middle">4.0</text><text x="189.4" y="522.5" font-size="6.60" text-anchor="middle">6.2</text><text x="212.2" y="522.5" font-size="6.60" text-anchor="middle">4.0</text><text x="235.0" y="522.5" font-size="6.60" text-anchor="middle">4.6</text><text x="52.6" y="535.6" font-size="6.60" text-anchor="middle">4.3</text><text x="75.4" y="535.6" font-size="6.60" text-anchor="middle">3.3</text><text x="98.2" y="535.6" font-size="6.60" text-anchor="middle">4.2</text><text x="121.0" y="535.6" font-size="6.60" text-anchor="middle">2.9</text><text x="143.8" y="535.6" font-size="6.60" text-anchor="middle">3.7</text><text x="166.6" y="535.6" font-size="6.60" text-anchor="middle">3.8</text><text x="189.4" y="535.6" font-size="6.60" text-anchor="middle">3.9</text><text x="212.2" y="535.6" font-size="6.60" text-anchor="middle">6.4</text><text x="235.0" y="535.6" font-size="6.60" text-anchor="middle">4.3</text><text x="52.6" y="548.6" font-size="6.60" text-anchor="middle">3.6</text><text x="75.4" y="548.6" font-size="6.60" text-anchor="middle">4.8</text><text x="98.2" y="548.6" font-size="6.60" text-anchor="middle">5.0</text><text x="121.0" y="548.6" font-size="6.60" text-anchor="middle">4.1</text><text x="143.8" y="548.6" font-size="6.60" text-anchor="middle">4.2</text><text x="166.6" y="548.6" font-size="6.60" text-anchor="middle">4.3</text><text x="189.4" y="548.6" font-size="6.60" text-anchor="middle">4.4</text><text x="212.2" y="548.6" font-size="6.60" text-anchor="middle">4.5</text><text x="235.0" y="548.6" font-size="6.60" text-anchor="middle">6.2</text><text x="52.6" y="561.7" font-size="6.60" text-anchor="middle">-6.3</text><text x="75.4" y="561.7" font-size="6.60" text-anchor="middle">-3.2</text><text x="98.2" y="561.7" font-size="6.60" text-anchor="middle">-2.8</text><text x="121.0" y="561.7" font-size="6.60" text-anchor="middle">-3.0</text><text x="143.8" y="561.7" font-size="6.60" text-anchor="middle">-2.5</text><text x="166.6" y="561.7" font-size="6.60" text-anchor="middle">-3.9</text><text x="189.4" y="561.7" font-size="6.60" text-anchor="middle">-3.1</text><text x="212.2" y="561.7" font-size="6.60" text-anchor="middle">-3.5</text><text x="235.0" y="561.7" font-size="6.60" text-anchor="middle">-3.3</text><text x="52.6" y="574.7" font-size="6.60" text-anchor="middle">-3.6</text><text x="75.4" y="574.7" font-size="6.60" text-anchor="middle">-6.3</text><text x="98.2" y="574.7" font-size="6.60" text-anchor="middle">-3.5</text><text x="121.0" y="574.7" font-size="6.60" text-anchor="middle">-3.6</text><text x="143.8" y="574.7" font-size="6.60" text-anchor="middle">-2.3</text><text x="166.6" y="574.7" font-size="6.60" text-anchor="middle">-3.3</text><text x="189.4" y="574.7" font-size="6.60" text-anchor="middle">-3.7</text><text x="212.2" y="574.7" font-size="6.60" text-anchor="middle">-3.6</text><text x="235.0" y="574.7" font-size="6.60" text-anchor="middle">-3.6</text><text x="52.6" y="587.8" font-size="6.60" text-anchor="middle">-3.6</text><text x="75.4" y="587.8" font-size="6.60" text-anchor="middle">-3.4</text><text x="98.2" y="587.8" font-size="6.60" text-anchor="middle">-6.3</text><text x="121.0" y="587.8" font-size="6.60" text-anchor="middle">-3.9</text><text x="143.8" y="587.8" font-size="6.60" text-anchor="middle">-3.0</text><text x="166.6" y="587.8" font-size="6.60" text-anchor="middle">-3.2</text><text x="189.4" y="587.8" font-size="6.60" text-anchor="middle">-3.7</text><text x="212.2" y="587.8" font-size="6.60" text-anchor="middle">-4.2</text><text x="235.0" y="587.8" font-size="6.60" text-anchor="middle">-4.2</text><text x="52.6" y="600.8" font-size="6.60" text-anchor="middle">-2.7</text><text x="75.4" y="600.8" font-size="6.60" text-anchor="middle">-3.4</text><text x="98.2" y="600.8" font-size="6.60" text-anchor="middle">-3.0</text><text x="121.0" y="600.8" font-size="6.60" text-anchor="middle">-6.2</text><text x="143.8" y="600.8" font-size="6.60" text-anchor="middle">-2.2</text><text x="166.6" y="600.8" font-size="6.60" text-anchor="middle">-2.8</text><text x="189.4" y="600.8" font-size="6.60" text-anchor="middle">-3.5</text><text x="212.2" y="600.8" font-size="6.60" text-anchor="middle">-2.9</text><text x="235.0" y="600.8" font-size="6.60" text-anchor="middle">-4.0</text><text x="52.6" y="613.9" font-size="6.60" text-anchor="middle">-3.4</text><text x="75.4" y="613.9" font-size="6.60" text-anchor="middle">-3.4</text><text x="98.2" y="613.9" font-size="6.60" text-anchor="middle">-3.2</text><text x="121.0" y="613.9" font-size="6.60" text-anchor="middle">-3.5</text><text x="143.8" y="613.9" font-size="6.60" text-anchor="middle">-6.2</text><text x="166.6" y="613.9" font-size="6.60" text-anchor="middle">-4.1</text><text x="189.4" y="613.9" font-size="6.60" text-anchor="middle">-2.5</text><text x="212.2" y="613.9" font-size="6.60" text-anchor="middle">-4.3</text><text x="235.0" y="613.9" font-size="6.60" text-anchor="middle">-3.0</text><text x="52.6" y="626.9" font-size="6.60" text-anchor="middle">-3.8</text><text x="75.4" y="626.9" font-size="6.60" text-anchor="middle">-3.2</text><text x="98.2" y="626.9" font-size="6.60" text-anchor="middle">-3.7</text><text x="121.0" y="626.9" font-size="6.60" text-anchor="middle">-3.7</text><text x="143.8" y="626.9" font-size="6.60" text-anchor="middle">-4.1</text><text x="166.6" y="626.9" font-size="6.60" text-anchor="middle">-6.3</text><text x="189.4" y="626.9" font-size="6.60" text-anchor="middle">-3.0</text><text x="212.2" y="626.9" font-size="6.60" text-anchor="middle">-3.9</text><text x="235.0" y="626.9" font-size="6.60" text-anchor="middle">-3.5</text><text x="52.6" y="640.0" font-size="6.60" text-anchor="middle">-2.9</text><text x="75.4" y="640.0" font-size="6.60" text-anchor="middle">-3.6</text><text x="98.2" y="640.0" font-size="6.60" text-anchor="middle">-4.6</text><text x="121.0" y="640.0" font-size="6.60" text-anchor="middle">-3.4</text><text x="143.8" y="640.0" font-size="6.60" text-anchor="middle">-1.7</text><text x="166.6" y="640.0" font-size="6.60" text-anchor="middle">-2.9</text><text x="189.4" y="640.0" font-size="6.60" text-anchor="middle">-6.5</text><text x="212.2" y="640.0" font-size="6.60" text-anchor="middle">-3.3</text><text x="235.0" y="640.0" font-size="6.60" text-anchor="middle">-4.7</text><text x="52.6" y="653.0" font-size="6.60" text-anchor="middle">-3.3</text><text x="75.4" y="653.0" font-size="6.60" text-anchor="middle">-3.7</text><text x="98.2" y="653.0" font-size="6.60" text-anchor="middle">-4.1</text><text x="121.0" y="653.0" font-size="6.60" text-anchor="middle">-3.7</text><text x="143.8" y="653.0" font-size="6.60" text-anchor="middle">-4.1</text><text x="166.6" y="653.0" font-size="6.60" text-anchor="middle">-4.0</text><text x="189.4" y="653.0" font-size="6.60" text-anchor="middle">-3.5</text><text x="212.2" y="653.0" font-size="6.60" text-anchor="middle">-6.2</text><text x="235.0" y="653.0" font-size="6.60" text-anchor="middle">-3.6</text><text x="52.6" y="666.1" font-size="6.60" text-anchor="middle">-3.3</text><text x="75.4" y="666.1" font-size="6.60" text-anchor="middle">-3.8</text><text x="98.2" y="666.1" font-size="6.60" text-anchor="middle">-4.4</text><text x="121.0" y="666.1" font-size="6.60" text-anchor="middle">-4.3</text><text x="143.8" y="666.1" font-size="6.60" text-anchor="middle">-1.8</text><text x="166.6" y="666.1" font-size="6.60" text-anchor="middle">-3.0</text><text x="189.4" y="666.1" font-size="6.60" text-anchor="middle">-4.5</text><text x="212.2" y="666.1" font-size="6.60" text-anchor="middle">-3.2</text><text x="235.0" y="666.1" font-size="6.60" text-anchor="middle">-6.4</text><path d="M41.20 435.30H246.40M41.20 448.35H246.40M41.20 461.40H246.40M41.20 474.45H246.40M41.20 487.50H246.40M41.20 500.55H246.40M41.20 513.60H246.40M41.20 526.65H246.40M41.20 539.70H246.40M41.20 552.75H246.40M41.20 565.80H246.40M41.20 578.85H246.40M41.20 591.90H246.40M41.20 604.95H246.40M41.20 618.00H246.40M41.20 631.05H246.40M41.20 644.10H246.40M41.20 657.15H246.40M41.20 670.20H246.40M41.20 435.30V670.20M64.00 435.30V670.20M86.80 435.30V670.20M109.60 435.30V670.20M132.40 435.30V670.20M155.20 435.30V670.20M178.00 435.30V670.20M200.80 435.30V670.20M223.60 435.30V670.20" stroke="#333" stroke-width="0.9" fill="none"/><path d="M246.40 435.30H322.50M246.40 448.35H322.50M246.40 461.40H322.50M246.40 474.45H322.50M246.40 487.50H322.50M246.40 500.55H322.50M246.40 513.60H322.50M246.40 526.65H322.50M246.40 539.70H322.50M246.40 552.75H322.50M246.40 565.80H322.50M246.40 578.85H322.50M246.40 591.90H322.50M246.40 604.95H322.50M246.40 618.00H322.50M246.40 631.05H322.50M246.40 644.10H322.50M246.40 657.15H322.50M246.40 670.20H322.50M322.50 435.30V670.20" stroke="#444" stroke-width="0.9" fill="none"/><path d="M246.40 435.30V670.20" stroke="#111" stroke-width="1.40"/><path d="M41.20 552.75H322.50" stroke="#000" stroke-width="1.70"/>
<text x="284.55" y="445.04" font-size="7.00" fill="#ff0000" text-anchor="middle">GBM<tspan font-size="4.20" dy="-2.94">WT</tspan><tspan font-size="7.00" dy="2.94">1: E/B</tspan></text>
<text x="284.55" y="458.09" font-size="7.00" fill="#ff0000" text-anchor="middle">GBM<tspan font-size="4.20" dy="-2.94">WT</tspan><tspan font-size="7.00" dy="2.94">2: E/B</tspan></text>
<text x="284.55" y="471.14" font-size="7.00" fill="#ff0000" text-anchor="middle">GBM<tspan font-size="4.20" dy="-2.94">WT</tspan><tspan font-size="7.00" dy="2.94">2B: E/B</tspan></text>
<text x="284.55" y="484.19" font-size="7.00" fill="#ff0000" text-anchor="middle">GBM<tspan font-size="4.20" dy="-2.94">WT</tspan><tspan font-size="7.00" dy="2.94">3: E/B</tspan></text>
<text x="284.55" y="497.25" font-size="7.00" fill="#ff0000" text-anchor="middle">GBM<tspan font-size="4.20" dy="-2.94">WT</tspan><tspan font-size="7.00" dy="2.94">4 : E/B</tspan></text>
<text x="284.55" y="510.29" font-size="7.00" fill="#ff0000" text-anchor="middle">H3K27M-Astro<tspan font-size="4.20" dy="-2.94">4-WT</tspan><tspan font-size="7.00" dy="2.94">: E/B</tspan></text>
<text x="284.55" y="523.35" font-size="7.00" fill="#2a3cff" text-anchor="middle">Astro<tspan font-size="4.20" dy="-2.94">4-mut</tspan><tspan font-size="7.00" dy="2.94">1: E/B</tspan></text>
<text x="284.55" y="536.39" font-size="7.00" fill="#2a3cff" text-anchor="middle">Astro<tspan font-size="4.20" dy="-2.94">4-mut</tspan><tspan font-size="7.00" dy="2.94">2: E/B</tspan></text>
<text x="284.55" y="549.44" font-size="7.00" fill="#2a3cff" text-anchor="middle">Astro<tspan font-size="4.20" dy="-2.94">4-mut</tspan><tspan font-size="7.00" dy="2.94">3: E/B</tspan></text>
<text x="284.55" y="562.50" font-size="7.00" fill="#ff0000" text-anchor="middle">GBM<tspan font-size="4.20" dy="-2.94">WT</tspan><tspan font-size="7.00" dy="2.94">1: B/E</tspan></text>
<text x="284.55" y="575.54" font-size="7.00" fill="#ff0000" text-anchor="middle">GBM<tspan font-size="4.20" dy="-2.94">WT</tspan><tspan font-size="7.00" dy="2.94">2: B/E</tspan></text>
<text x="284.55" y="588.60" font-size="7.00" fill="#ff0000" text-anchor="middle">GBM<tspan font-size="4.20" dy="-2.94">WT</tspan><tspan font-size="7.00" dy="2.94">2B: B/E</tspan></text>
<text x="284.55" y="601.64" font-size="7.00" fill="#ff0000" text-anchor="middle">GBM<tspan font-size="4.20" dy="-2.94">WT</tspan><tspan font-size="7.00" dy="2.94">3: B/E</tspan></text>
<text x="284.55" y="614.69" font-size="7.00" fill="#ff0000" text-anchor="middle">GBM<tspan font-size="4.20" dy="-2.94">WT</tspan><tspan font-size="7.00" dy="2.94">4 : B/E</tspan></text>
<text x="284.55" y="627.75" font-size="7.00" fill="#ff0000" text-anchor="middle">H3K27M-Astro<tspan font-size="4.20" dy="-2.94">4-WT</tspan><tspan font-size="7.00" dy="2.94">: B/E</tspan></text>
<text x="284.55" y="640.79" font-size="7.00" fill="#2a3cff" text-anchor="middle">Astro<tspan font-size="4.20" dy="-2.94">4-mut</tspan><tspan font-size="7.00" dy="2.94">1: B/E</tspan></text>
<text x="284.55" y="653.85" font-size="7.00" fill="#2a3cff" text-anchor="middle">Astro<tspan font-size="4.20" dy="-2.94">4-mut</tspan><tspan font-size="7.00" dy="2.94">2: B/E</tspan></text>
<text x="284.55" y="666.89" font-size="7.00" fill="#2a3cff" text-anchor="middle">Astro<tspan font-size="4.20" dy="-2.94">4-mut</tspan><tspan font-size="7.00" dy="2.94">3: B/E</tspan></text>
<g shape-rendering="crispEdges"><rect x="384.30" y="456.60" width="41.94" height="14.86" fill="#fd970a"/><rect x="426.14" y="456.60" width="41.94" height="14.86" fill="#ffecd2"/><rect x="467.98" y="456.60" width="41.94" height="14.86" fill="#fee2bb"/><rect x="509.82" y="456.60" width="41.94" height="14.86" fill="#fed8a4"/><rect x="551.66" y="456.60" width="41.94" height="14.86" fill="#fee0b6"/><rect x="593.50" y="456.60" width="41.94" height="14.86" fill="#dccde8"/><rect x="635.34" y="456.60" width="41.94" height="14.86" fill="#fee0b6"/><rect x="384.30" y="471.36" width="41.94" height="14.86" fill="#ffeacd"/><rect x="426.14" y="471.36" width="41.94" height="14.86" fill="#fd9f1c"/><rect x="467.98" y="471.36" width="41.94" height="14.86" fill="#fed59b"/><rect x="509.82" y="471.36" width="41.94" height="14.86" fill="#fed8a4"/><rect x="551.66" y="471.36" width="41.94" height="14.86" fill="#fed192"/><rect x="593.50" y="471.36" width="41.94" height="14.86" fill="#fee0b6"/><rect x="635.34" y="471.36" width="41.94" height="14.86" fill="#fee4c0"/><rect x="384.30" y="486.12" width="41.94" height="14.86" fill="#fedaa9"/><rect x="426.14" y="486.12" width="41.94" height="14.86" fill="#fed192"/><rect x="467.98" y="486.12" width="41.94" height="14.86" fill="#fd9b13"/><rect x="509.82" y="486.12" width="41.94" height="14.86" fill="#fec16e"/><rect x="551.66" y="486.12" width="41.94" height="14.86" fill="#fdb045"/><rect x="593.50" y="486.12" width="41.94" height="14.86" fill="#fed7a0"/><rect x="635.34" y="486.12" width="41.94" height="14.86" fill="#fec16e"/><rect x="384.30" y="500.88" width="41.94" height="14.86" fill="#fedcad"/><rect x="426.14" y="500.88" width="41.94" height="14.86" fill="#fed7a0"/><rect x="467.98" y="500.88" width="41.94" height="14.86" fill="#fec16e"/><rect x="509.82" y="500.88" width="41.94" height="14.86" fill="#fd9b13"/><rect x="551.66" y="500.88" width="41.94" height="14.86" fill="#fecb85"/><rect x="593.50" y="500.88" width="41.94" height="14.86" fill="#fee0b6"/><rect x="635.34" y="500.88" width="41.94" height="14.86" fill="#fed397"/><rect x="384.30" y="515.64" width="41.94" height="14.86" fill="#fee2bb"/><rect x="426.14" y="515.64" width="41.94" height="14.86" fill="#fee2bb"/><rect x="467.98" y="515.64" width="41.94" height="14.86" fill="#febf69"/><rect x="509.82" y="515.64" width="41.94" height="14.86" fill="#fecf8e"/><rect x="551.66" y="515.64" width="41.94" height="14.86" fill="#fd970a"/><rect x="593.50" y="515.64" width="41.94" height="14.86" fill="#fed8a4"/><rect x="635.34" y="515.64" width="41.94" height="14.86" fill="#fecf8e"/><rect x="384.30" y="530.40" width="41.94" height="14.86" fill="#f9f7fb"/><rect x="426.14" y="530.40" width="41.94" height="14.86" fill="#fee2bb"/><rect x="467.98" y="530.40" width="41.94" height="14.86" fill="#fedeb2"/><rect x="509.82" y="530.40" width="41.94" height="14.86" fill="#fee0b6"/><rect x="551.66" y="530.40" width="41.94" height="14.86" fill="#fedcad"/><rect x="593.50" y="530.40" width="41.94" height="14.86" fill="#fd9b13"/><rect x="635.34" y="530.40" width="41.94" height="14.86" fill="#fedeb2"/><rect x="384.30" y="545.16" width="41.94" height="14.86" fill="#fedcad"/><rect x="426.14" y="545.16" width="41.94" height="14.86" fill="#fed8a4"/><rect x="467.98" y="545.16" width="41.94" height="14.86" fill="#febc60"/><rect x="509.82" y="545.16" width="41.94" height="14.86" fill="#fecb85"/><rect x="551.66" y="545.16" width="41.94" height="14.86" fill="#fec373"/><rect x="593.50" y="545.16" width="41.94" height="14.86" fill="#fed8a4"/><rect x="635.34" y="545.16" width="41.94" height="14.86" fill="#fd990f"/><rect x="384.30" y="559.92" width="41.94" height="14.86" fill="#7131a1"/><rect x="426.14" y="559.92" width="41.94" height="14.86" fill="#cfbadf"/><rect x="467.98" y="559.92" width="41.94" height="14.86" fill="#c9b1db"/><rect x="509.82" y="559.92" width="41.94" height="14.86" fill="#c7aeda"/><rect x="551.66" y="559.92" width="41.94" height="14.86" fill="#c0a3d5"/><rect x="593.50" y="559.92" width="41.94" height="14.86" fill="#fff5e8"/><rect x="635.34" y="559.92" width="41.94" height="14.86" fill="#c2a6d6"/><rect x="384.30" y="574.68" width="41.94" height="14.86" fill="#d9c7e5"/><rect x="426.14" y="574.68" width="41.94" height="14.86" fill="#7334a2"/><rect x="467.98" y="574.68" width="41.94" height="14.86" fill="#9f74bf"/><rect x="509.82" y="574.68" width="41.94" height="14.86" fill="#bea1d4"/><rect x="551.66" y="574.68" width="41.94" height="14.86" fill="#b290cc"/><rect x="593.50" y="574.68" width="41.94" height="14.86" fill="#ae8ac9"/><rect x="635.34" y="574.68" width="41.94" height="14.86" fill="#c0a3d5"/><rect x="384.30" y="589.44" width="41.94" height="14.86" fill="#c2a6d6"/><rect x="426.14" y="589.44" width="41.94" height="14.86" fill="#ae8ac9"/><rect x="467.98" y="589.44" width="41.94" height="14.86" fill="#7b3fa7"/><rect x="509.82" y="589.44" width="41.94" height="14.86" fill="#996cbb"/><rect x="551.66" y="589.44" width="41.94" height="14.86" fill="#9f74bf"/><rect x="593.50" y="589.44" width="41.94" height="14.86" fill="#b493cd"/><rect x="635.34" y="589.44" width="41.94" height="14.86" fill="#b08dcb"/><rect x="384.30" y="604.20" width="41.94" height="14.86" fill="#c2a6d6"/><rect x="426.14" y="604.20" width="41.94" height="14.86" fill="#b493cd"/><rect x="467.98" y="604.20" width="41.94" height="14.86" fill="#a77fc4"/><rect x="509.82" y="604.20" width="41.94" height="14.86" fill="#7b3fa7"/><rect x="551.66" y="604.20" width="41.94" height="14.86" fill="#b290cc"/><rect x="593.50" y="604.20" width="41.94" height="14.86" fill="#d3bfe2"/><rect x="635.34" y="604.20" width="41.94" height="14.86" fill="#c0a3d5"/><rect x="384.30" y="618.96" width="41.94" height="14.86" fill="#d1bce0"/><rect x="426.14" y="618.96" width="41.94" height="14.86" fill="#ae8ac9"/><rect x="467.98" y="618.96" width="41.94" height="14.86" fill="#9d71be"/><rect x="509.82" y="618.96" width="41.94" height="14.86" fill="#a982c6"/><rect x="551.66" y="618.96" width="41.94" height="14.86" fill="#773aa4"/><rect x="593.50" y="618.96" width="41.94" height="14.86" fill="#ba9bd1"/><rect x="635.34" y="618.96" width="41.94" height="14.86" fill="#b493cd"/><rect x="384.30" y="633.72" width="41.94" height="14.86" fill="#fff9f1"/><rect x="426.14" y="633.72" width="41.94" height="14.86" fill="#bc9ed2"/><rect x="467.98" y="633.72" width="41.94" height="14.86" fill="#b898d0"/><rect x="509.82" y="633.72" width="41.94" height="14.86" fill="#d7c5e4"/><rect x="551.66" y="633.72" width="41.94" height="14.86" fill="#c5acd9"/><rect x="593.50" y="633.72" width="41.94" height="14.86" fill="#773aa4"/><rect x="635.34" y="633.72" width="41.94" height="14.86" fill="#ae8ac9"/><rect x="384.30" y="648.48" width="41.94" height="14.86" fill="#d7c5e4"/><rect x="426.14" y="648.48" width="41.94" height="14.86" fill="#bc9ed2"/><rect x="467.98" y="648.48" width="41.94" height="14.86" fill="#ac88c8"/><rect x="509.82" y="648.48" width="41.94" height="14.86" fill="#b290cc"/><rect x="551.66" y="648.48" width="41.94" height="14.86" fill="#b290cc"/><rect x="593.50" y="648.48" width="41.94" height="14.86" fill="#9d71be"/><rect x="635.34" y="648.48" width="41.94" height="14.86" fill="#773aa4"/></g><text x="405.2" y="466.9" font-size="8.20" text-anchor="middle">6.4</text><text x="447.1" y="466.9" font-size="8.20" text-anchor="middle">2.0</text><text x="488.9" y="466.9" font-size="8.20" text-anchor="middle">2.5</text><text x="530.7" y="466.9" font-size="8.20" text-anchor="middle">3.0</text><text x="572.6" y="466.9" font-size="8.20" text-anchor="middle">2.6</text><text x="614.4" y="466.9" font-size="8.20" style="font-weight:normal" stroke="#000" stroke-width="0.12" text-anchor="middle">-0.8</text><text x="656.3" y="466.9" font-size="8.20" text-anchor="middle">2.6</text><text x="405.2" y="481.7" font-size="8.20" text-anchor="middle">2.1</text><text x="447.1" y="481.7" font-size="8.20" text-anchor="middle">6.0</text><text x="488.9" y="481.7" font-size="8.20" text-anchor="middle">3.2</text><text x="530.7" y="481.7" font-size="8.20" text-anchor="middle">3.0</text><text x="572.6" y="481.7" font-size="8.20" text-anchor="middle">3.4</text><text x="614.4" y="481.7" font-size="8.20" text-anchor="middle">2.6</text><text x="656.3" y="481.7" font-size="8.20" text-anchor="middle">2.4</text><text x="405.2" y="496.5" font-size="8.20" text-anchor="middle">2.9</text><text x="447.1" y="496.5" font-size="8.20" text-anchor="middle">3.4</text><text x="488.9" y="496.5" font-size="8.20" text-anchor="middle">6.2</text><text x="530.7" y="496.5" font-size="8.20" text-anchor="middle">4.2</text><text x="572.6" y="496.5" font-size="8.20" text-anchor="middle">5.1</text><text x="614.4" y="496.5" font-size="8.20" text-anchor="middle">3.1</text><text x="656.3" y="496.5" font-size="8.20" text-anchor="middle">4.2</text><text x="405.2" y="511.2" font-size="8.20" text-anchor="middle">2.8</text><text x="447.1" y="511.2" font-size="8.20" text-anchor="middle">3.1</text><text x="488.9" y="511.2" font-size="8.20" text-anchor="middle">4.2</text><text x="530.7" y="511.2" font-size="8.20" text-anchor="middle">6.2</text><text x="572.6" y="511.2" font-size="8.20" text-anchor="middle">3.7</text><text x="614.4" y="511.2" font-size="8.20" text-anchor="middle">2.6</text><text x="656.3" y="511.2" font-size="8.20" text-anchor="middle">3.3</text><text x="405.2" y="526.0" font-size="8.20" text-anchor="middle">2.5</text><text x="447.1" y="526.0" font-size="8.20" text-anchor="middle">2.5</text><text x="488.9" y="526.0" font-size="8.20" text-anchor="middle">4.3</text><text x="530.7" y="526.0" font-size="8.20" text-anchor="middle">3.5</text><text x="572.6" y="526.0" font-size="8.20" text-anchor="middle">6.4</text><text x="614.4" y="526.0" font-size="8.20" text-anchor="middle">3.0</text><text x="656.3" y="526.0" font-size="8.20" text-anchor="middle">3.5</text><text x="405.2" y="540.7" font-size="8.20" style="font-weight:normal" stroke="#000" stroke-width="0.12" text-anchor="middle">0.7</text><text x="447.1" y="540.7" font-size="8.20" text-anchor="middle">2.5</text><text x="488.9" y="540.7" font-size="8.20" text-anchor="middle">2.7</text><text x="530.7" y="540.7" font-size="8.20" text-anchor="middle">2.6</text><text x="572.6" y="540.7" font-size="8.20" text-anchor="middle">2.8</text><text x="614.4" y="540.7" font-size="8.20" text-anchor="middle">6.2</text><text x="656.3" y="540.7" font-size="8.20" text-anchor="middle">2.7</text><text x="405.2" y="555.5" font-size="8.20" text-anchor="middle">2.8</text><text x="447.1" y="555.5" font-size="8.20" text-anchor="middle">3.0</text><text x="488.9" y="555.5" font-size="8.20" text-anchor="middle">4.5</text><text x="530.7" y="555.5" font-size="8.20" text-anchor="middle">3.7</text><text x="572.6" y="555.5" font-size="8.20" text-anchor="middle">4.1</text><text x="614.4" y="555.5" font-size="8.20" text-anchor="middle">3.0</text><text x="656.3" y="555.5" font-size="8.20" text-anchor="middle">6.3</text><text x="405.2" y="570.3" font-size="8.20" fill="#fff" text-anchor="middle">-6.4</text><text x="447.1" y="570.3" font-size="8.20" style="font-weight:normal" stroke="#000" stroke-width="0.12" text-anchor="middle">-1.5</text><text x="488.9" y="570.3" font-size="8.20" text-anchor="middle">-1.8</text><text x="530.7" y="570.3" font-size="8.20" text-anchor="middle">-1.9</text><text x="572.6" y="570.3" font-size="8.20" text-anchor="middle">-2.3</text><text x="614.4" y="570.3" font-size="8.20" style="font-weight:normal" stroke="#000" stroke-width="0.12" text-anchor="middle">1.5</text><text x="656.3" y="570.3" font-size="8.20" text-anchor="middle">-2.2</text><text x="405.2" y="585.0" font-size="8.20" style="font-weight:normal" stroke="#000" stroke-width="0.12" text-anchor="middle">-1.0</text><text x="447.1" y="585.0" font-size="8.20" fill="#fff" text-anchor="middle">-6.3</text><text x="488.9" y="585.0" font-size="8.20" text-anchor="middle">-4.0</text><text x="530.7" y="585.0" font-size="8.20" text-anchor="middle">-2.4</text><text x="572.6" y="585.0" font-size="8.20" text-anchor="middle">-3.0</text><text x="614.4" y="585.0" font-size="8.20" text-anchor="middle">-3.2</text><text x="656.3" y="585.0" font-size="8.20" text-anchor="middle">-2.3</text><text x="405.2" y="599.8" font-size="8.20" text-anchor="middle">-2.2</text><text x="447.1" y="599.8" font-size="8.20" text-anchor="middle">-3.2</text><text x="488.9" y="599.8" font-size="8.20" fill="#fff" text-anchor="middle">-5.9</text><text x="530.7" y="599.8" font-size="8.20" text-anchor="middle">-4.3</text><text x="572.6" y="599.8" font-size="8.20" text-anchor="middle">-4.0</text><text x="614.4" y="599.8" font-size="8.20" text-anchor="middle">-2.9</text><text x="656.3" y="599.8" font-size="8.20" text-anchor="middle">-3.1</text><text x="405.2" y="614.5" font-size="8.20" text-anchor="middle">-2.2</text><text x="447.1" y="614.5" font-size="8.20" text-anchor="middle">-2.9</text><text x="488.9" y="614.5" font-size="8.20" text-anchor="middle">-3.6</text><text x="530.7" y="614.5" font-size="8.20" fill="#fff" text-anchor="middle">-5.9</text><text x="572.6" y="614.5" font-size="8.20" text-anchor="middle">-3.0</text><text x="614.4" y="614.5" font-size="8.20" style="font-weight:normal" stroke="#000" stroke-width="0.12" text-anchor="middle">-1.3</text><text x="656.3" y="614.5" font-size="8.20" text-anchor="middle">-2.3</text><text x="405.2" y="629.3" font-size="8.20" style="font-weight:normal" stroke="#000" stroke-width="0.12" text-anchor="middle">-1.4</text><text x="447.1" y="629.3" font-size="8.20" text-anchor="middle">-3.2</text><text x="488.9" y="629.3" font-size="8.20" text-anchor="middle">-4.1</text><text x="530.7" y="629.3" font-size="8.20" text-anchor="middle">-3.5</text><text x="572.6" y="629.3" font-size="8.20" fill="#fff" text-anchor="middle">-6.1</text><text x="614.4" y="629.3" font-size="8.20" text-anchor="middle">-2.6</text><text x="656.3" y="629.3" font-size="8.20" text-anchor="middle">-2.9</text><text x="405.2" y="644.1" font-size="8.20" style="font-weight:normal" stroke="#000" stroke-width="0.12" text-anchor="middle">1.3</text><text x="447.1" y="644.1" font-size="8.20" text-anchor="middle">-2.5</text><text x="488.9" y="644.1" font-size="8.20" text-anchor="middle">-2.7</text><text x="530.7" y="644.1" font-size="8.20" style="font-weight:normal" stroke="#000" stroke-width="0.12" text-anchor="middle">-1.1</text><text x="572.6" y="644.1" font-size="8.20" text-anchor="middle">-2.0</text><text x="614.4" y="644.1" font-size="8.20" fill="#fff" text-anchor="middle">-6.1</text><text x="656.3" y="644.1" font-size="8.20" text-anchor="middle">-3.2</text><text x="405.2" y="658.8" font-size="8.20" style="font-weight:normal" stroke="#000" stroke-width="0.12" text-anchor="middle">-1.1</text><text x="447.1" y="658.8" font-size="8.20" text-anchor="middle">-2.5</text><text x="488.9" y="658.8" font-size="8.20" text-anchor="middle">-3.3</text><text x="530.7" y="658.8" font-size="8.20" text-anchor="middle">-3.0</text><text x="572.6" y="658.8" font-size="8.20" text-anchor="middle">-3.0</text><text x="614.4" y="658.8" font-size="8.20" text-anchor="middle">-4.1</text><text x="656.3" y="658.8" font-size="8.20" fill="#fff" text-anchor="middle">-6.1</text><path d="M384.30 456.60H677.18M384.30 471.36H677.18M384.30 486.12H677.18M384.30 500.88H677.18M384.30 515.64H677.18M384.30 530.40H677.18M384.30 545.16H677.18M384.30 559.92H677.18M384.30 574.68H677.18M384.30 589.44H677.18M384.30 604.20H677.18M384.30 618.96H677.18M384.30 633.72H677.18M384.30 648.48H677.18M384.30 663.24H677.18M384.30 456.60V663.24M426.14 456.60V663.24M467.98 456.60V663.24M509.82 456.60V663.24M551.66 456.60V663.24M593.50 456.60V663.24M635.34 456.60V663.24" stroke="#333" stroke-width="0.9" fill="none"/><path d="M677.18 456.60H752.50M677.18 471.36H752.50M677.18 486.12H752.50M677.18 500.88H752.50M677.18 515.64H752.50M677.18 530.40H752.50M677.18 545.16H752.50M677.18 559.92H752.50M677.18 574.68H752.50M677.18 589.44H752.50M677.18 604.20H752.50M677.18 618.96H752.50M677.18 633.72H752.50M677.18 648.48H752.50M677.18 663.24H752.50M752.50 456.60V663.24" stroke="#888" stroke-width="0.9" fill="none"/><path d="M677.18 456.60V663.24" stroke="#111" stroke-width="1.00"/><path d="M384.30 559.92H752.50" stroke="#000" stroke-width="1.30"/>
<text x="714.85" y="466.28" font-size="6.40" fill="#ff0000" text-anchor="middle">GBM<tspan font-size="3.84" dy="-2.69">WT</tspan><tspan font-size="6.40" dy="2.69">1: E/NE</tspan></text>
<text x="714.85" y="481.04" font-size="6.40" fill="#ff0000" text-anchor="middle">GBM<tspan font-size="3.84" dy="-2.69">WT</tspan><tspan font-size="6.40" dy="2.69">2: E/NE</tspan></text>
<text x="714.85" y="495.80" font-size="6.40" fill="#ff0000" text-anchor="middle">GBM<tspan font-size="3.84" dy="-2.69">WT</tspan><tspan font-size="6.40" dy="2.69">3: E/NE</tspan></text>
<text x="714.85" y="510.56" font-size="6.40" fill="#ff0000" text-anchor="middle">GBM<tspan font-size="3.84" dy="-2.69">WT</tspan><tspan font-size="6.40" dy="2.69">4 : E/NE</tspan></text>
<text x="714.85" y="525.32" font-size="6.40" fill="#ff0000" text-anchor="middle">H3K27M-Astro<tspan font-size="3.84" dy="-2.69">4-WT</tspan><tspan font-size="6.40" dy="2.69">: E/NE</tspan></text>
<text x="714.85" y="540.08" font-size="6.40" fill="#2a3cff" text-anchor="middle">Astro<tspan font-size="3.84" dy="-2.69">4-mut</tspan><tspan font-size="6.40" dy="2.69">1: E/NE</tspan></text>
<text x="714.85" y="554.84" font-size="6.40" fill="#2a3cff" text-anchor="middle">Astro<tspan font-size="3.84" dy="-2.69">4-mut</tspan><tspan font-size="6.40" dy="2.69">2: E/NE</tspan></text>
<text x="714.85" y="569.60" font-size="6.40" fill="#ff0000" text-anchor="middle">GBM<tspan font-size="3.84" dy="-2.69">WT</tspan><tspan font-size="6.40" dy="2.69">1: NE/E</tspan></text>
<text x="714.85" y="584.36" font-size="6.40" fill="#ff0000" text-anchor="middle">GBM<tspan font-size="3.84" dy="-2.69">WT</tspan><tspan font-size="6.40" dy="2.69">2: NE/E</tspan></text>
<text x="714.85" y="599.12" font-size="6.40" fill="#ff0000" text-anchor="middle">GBM<tspan font-size="3.84" dy="-2.69">WT</tspan><tspan font-size="6.40" dy="2.69">3: NE/E</tspan></text>
<text x="714.85" y="613.88" font-size="6.40" fill="#ff0000" text-anchor="middle">GBM<tspan font-size="3.84" dy="-2.69">WT</tspan><tspan font-size="6.40" dy="2.69">4 : NE/E</tspan></text>
<text x="714.85" y="628.64" font-size="6.40" fill="#ff0000" text-anchor="middle">H3K27M-Astro<tspan font-size="3.84" dy="-2.69">4-WT</tspan><tspan font-size="6.40" dy="2.69">: NE/E</tspan></text>
<text x="714.85" y="643.40" font-size="6.40" fill="#2a3cff" text-anchor="middle">Astro<tspan font-size="3.84" dy="-2.69">4-mut</tspan><tspan font-size="6.40" dy="2.69">1: NE/E</tspan></text>
<text x="714.85" y="658.16" font-size="6.40" fill="#2a3cff" text-anchor="middle">Astro<tspan font-size="3.84" dy="-2.69">4-mut</tspan><tspan font-size="6.40" dy="2.69">2: NE/E</tspan></text>
<g shape-rendering="crispEdges"><rect x="1119.70" y="451.50" width="75.80" height="106.54" fill="#e6e6e6"/><rect x="815.20" y="451.50" width="43.60" height="15.32" fill="#7638a4"/><rect x="858.70" y="451.50" width="43.60" height="15.32" fill="#e2efdb"/><rect x="902.20" y="451.50" width="43.60" height="15.32" fill="#dccce7"/><rect x="945.70" y="451.50" width="43.60" height="15.32" fill="#d7e9ce"/><rect x="989.20" y="451.50" width="43.60" height="15.32" fill="#d1e5c5"/><rect x="1032.70" y="451.50" width="43.60" height="15.32" fill="#e5f0de"/><rect x="1076.20" y="451.50" width="43.60" height="15.32" fill="#e7dcef"/><rect x="815.20" y="466.72" width="43.60" height="15.32" fill="#d9ead0"/><rect x="858.70" y="466.72" width="43.60" height="15.32" fill="#7335a2"/><rect x="902.20" y="466.72" width="43.60" height="15.32" fill="#d9c8e6"/><rect x="945.70" y="466.72" width="43.60" height="15.32" fill="#ceb8df"/><rect x="989.20" y="466.72" width="43.60" height="15.32" fill="#c1a5d6"/><rect x="1032.70" y="466.72" width="43.60" height="15.32" fill="#ccb5dd"/><rect x="1076.20" y="466.72" width="43.60" height="15.32" fill="#c3a8d7"/><rect x="815.20" y="481.94" width="43.60" height="15.32" fill="#d1e5c5"/><rect x="858.70" y="481.94" width="43.60" height="15.32" fill="#c5acd9"/><rect x="902.20" y="481.94" width="43.60" height="15.32" fill="#7638a4"/><rect x="945.70" y="481.94" width="43.60" height="15.32" fill="#c1a5d6"/><rect x="989.20" y="481.94" width="43.60" height="15.32" fill="#d5c2e3"/><rect x="1032.70" y="481.94" width="43.60" height="15.32" fill="#e5f0de"/><rect x="1076.20" y="481.94" width="43.60" height="15.32" fill="#decfe9"/><rect x="815.20" y="497.16" width="43.60" height="15.32" fill="#d3e6c8"/><rect x="858.70" y="497.16" width="43.60" height="15.32" fill="#d0bce0"/><rect x="902.20" y="497.16" width="43.60" height="15.32" fill="#ba9cd1"/><rect x="945.70" y="497.16" width="43.60" height="15.32" fill="#7638a4"/><rect x="989.20" y="497.16" width="43.60" height="15.32" fill="#c1a5d6"/><rect x="1032.70" y="497.16" width="43.60" height="15.32" fill="#d1e5c5"/><rect x="1076.20" y="497.16" width="43.60" height="15.32" fill="#e2d5ec"/><rect x="815.20" y="512.38" width="43.60" height="15.32" fill="#c6dfb8"/><rect x="858.70" y="512.38" width="43.60" height="15.32" fill="#bfa2d4"/><rect x="902.20" y="512.38" width="43.60" height="15.32" fill="#e2d5ec"/><rect x="945.70" y="512.38" width="43.60" height="15.32" fill="#c8afda"/><rect x="989.20" y="512.38" width="43.60" height="15.32" fill="#7335a2"/><rect x="1032.70" y="512.38" width="43.60" height="15.32" fill="#e4d8ed"/><rect x="1076.20" y="512.38" width="43.60" height="15.32" fill="#e7dcef"/><rect x="815.20" y="527.60" width="43.60" height="15.32" fill="#d9ead0"/><rect x="858.70" y="527.60" width="43.60" height="15.32" fill="#d3bfe2"/><rect x="902.20" y="527.60" width="43.60" height="15.32" fill="#d5e8cb"/><rect x="945.70" y="527.60" width="43.60" height="15.32" fill="#ebe2f2"/><rect x="989.20" y="527.60" width="43.60" height="15.32" fill="#d3bfe2"/><rect x="1032.70" y="527.60" width="43.60" height="15.32" fill="#7638a4"/><rect x="1076.20" y="527.60" width="43.60" height="15.32" fill="#c5acd9"/><rect x="815.20" y="542.82" width="43.60" height="15.32" fill="#deedd6"/><rect x="858.70" y="542.82" width="43.60" height="15.32" fill="#bc9fd3"/><rect x="902.20" y="542.82" width="43.60" height="15.32" fill="#e9dff0"/><rect x="945.70" y="542.82" width="43.60" height="15.32" fill="#d0bce0"/><rect x="989.20" y="542.82" width="43.60" height="15.32" fill="#dccce7"/><rect x="1032.70" y="542.82" width="43.60" height="15.32" fill="#bfa2d4"/><rect x="1076.20" y="542.82" width="43.60" height="15.32" fill="#7030a0"/><rect x="815.20" y="558.04" width="43.60" height="15.32" fill="#70af4d"/><rect x="858.70" y="558.04" width="43.60" height="15.32" fill="#d9c8e6"/><rect x="902.20" y="558.04" width="43.60" height="15.32" fill="#d7c5e4"/><rect x="945.70" y="558.04" width="43.60" height="15.32" fill="#d5c2e3"/><rect x="989.20" y="558.04" width="43.60" height="15.32" fill="#bfa2d4"/><rect x="1032.70" y="558.04" width="43.60" height="15.32" fill="#e0d2ea"/><rect x="1076.20" y="558.04" width="43.60" height="15.32" fill="#e0d2ea"/><rect x="815.20" y="573.26" width="43.60" height="15.32" fill="#e9dff0"/><rect x="858.70" y="573.26" width="43.60" height="15.32" fill="#6dae4a"/><rect x="902.20" y="573.26" width="43.60" height="15.32" fill="#f2ecf6"/><rect x="945.70" y="573.26" width="43.60" height="15.32" fill="#deedd6"/><rect x="989.20" y="573.26" width="43.60" height="15.32" fill="#d3e6c8"/><rect x="1032.70" y="573.26" width="43.60" height="15.32" fill="#b4d5a2"/><rect x="1076.20" y="573.26" width="43.60" height="15.32" fill="#cce3c0"/><rect x="815.20" y="588.48" width="43.60" height="15.32" fill="#e2efdb"/><rect x="858.70" y="588.48" width="43.60" height="15.32" fill="#ede5f3"/><rect x="902.20" y="588.48" width="43.60" height="15.32" fill="#70af4d"/><rect x="945.70" y="588.48" width="43.60" height="15.32" fill="#e2d5ec"/><rect x="989.20" y="588.48" width="43.60" height="15.32" fill="#e2d5ec"/><rect x="1032.70" y="588.48" width="43.60" height="15.32" fill="#d5c2e3"/><rect x="1076.20" y="588.48" width="43.60" height="15.32" fill="#ebe2f2"/><rect x="815.20" y="603.70" width="43.60" height="15.32" fill="#d7c5e4"/><rect x="858.70" y="603.70" width="43.60" height="15.32" fill="#b8d8a7"/><rect x="902.20" y="603.70" width="43.60" height="15.32" fill="#d3e6c8"/><rect x="945.70" y="603.70" width="43.60" height="15.32" fill="#70af4d"/><rect x="989.20" y="603.70" width="43.60" height="15.32" fill="#b0d39c"/><rect x="1032.70" y="603.70" width="43.60" height="15.32" fill="#deedd6"/><rect x="1076.20" y="603.70" width="43.60" height="15.32" fill="#d1e5c5"/><rect x="815.20" y="618.92" width="43.60" height="15.32" fill="#ccb5dd"/><rect x="858.70" y="618.92" width="43.60" height="15.32" fill="#d1e5c5"/><rect x="902.20" y="618.92" width="43.60" height="15.32" fill="#e7f1e1"/><rect x="945.70" y="618.92" width="43.60" height="15.32" fill="#bddaad"/><rect x="989.20" y="618.92" width="43.60" height="15.32" fill="#6dae4a"/><rect x="1032.70" y="618.92" width="43.60" height="15.32" fill="#e9f3e4"/><rect x="1076.20" y="618.92" width="43.60" height="15.32" fill="#deedd6"/><rect x="815.20" y="634.14" width="43.60" height="15.32" fill="#decfe9"/><rect x="858.70" y="634.14" width="43.60" height="15.32" fill="#bfdbb0"/><rect x="902.20" y="634.14" width="43.60" height="15.32" fill="#ebe2f2"/><rect x="945.70" y="634.14" width="43.60" height="15.32" fill="#e9dff0"/><rect x="989.20" y="634.14" width="43.60" height="15.32" fill="#e7f1e1"/><rect x="1032.70" y="634.14" width="43.60" height="15.32" fill="#72b050"/><rect x="1076.20" y="634.14" width="43.60" height="15.32" fill="#c3deb5"/><rect x="815.20" y="649.36" width="43.60" height="15.32" fill="#ebe2f2"/><rect x="858.70" y="649.36" width="43.60" height="15.32" fill="#cae1bd"/><rect x="902.20" y="649.36" width="43.60" height="15.32" fill="#d9ead0"/><rect x="945.70" y="649.36" width="43.60" height="15.32" fill="#d5e8cb"/><rect x="989.20" y="649.36" width="43.60" height="15.32" fill="#deedd6"/><rect x="1032.70" y="649.36" width="43.60" height="15.32" fill="#bddaad"/><rect x="1076.20" y="649.36" width="43.60" height="15.32" fill="#70af4d"/></g><text x="837.0" y="463.3" font-size="8.80" fill="#fff" text-anchor="middle">6.2</text><text x="880.5" y="463.3" font-size="8.80" style="font-weight:normal" stroke="#000" stroke-width="0.12" text-anchor="middle">-1.0</text><text x="924.0" y="463.3" font-size="8.80" style="font-weight:normal" stroke="#000" stroke-width="0.12" text-anchor="middle">1.6</text><text x="967.5" y="463.3" font-size="8.80" style="font-weight:normal" stroke="#000" stroke-width="0.12" text-anchor="middle">-1.5</text><text x="1011.0" y="463.3" font-size="8.80" style="font-weight:normal" stroke="#000" stroke-width="0.12" text-anchor="middle">-1.8</text><text x="1054.5" y="463.3" font-size="8.80" style="font-weight:normal" stroke="#000" stroke-width="0.12" text-anchor="middle">-0.9</text><text x="1098.0" y="463.3" font-size="8.80" style="font-weight:normal" stroke="#000" stroke-width="0.12" text-anchor="middle">1.1</text><text x="837.0" y="478.5" font-size="8.80" style="font-weight:normal" stroke="#000" stroke-width="0.12" text-anchor="middle">-1.4</text><text x="880.5" y="478.5" font-size="8.80" fill="#fff" text-anchor="middle">6.3</text><text x="924.0" y="478.5" font-size="8.80" style="font-weight:normal" stroke="#000" stroke-width="0.12" text-anchor="middle">1.7</text><text x="967.5" y="478.5" font-size="8.80" text-anchor="middle">2.2</text><text x="1011.0" y="478.5" font-size="8.80" text-anchor="middle">2.8</text><text x="1054.5" y="478.5" font-size="8.80" text-anchor="middle">2.3</text><text x="1098.0" y="478.5" font-size="8.80" text-anchor="middle">2.7</text><text x="837.0" y="493.7" font-size="8.80" style="font-weight:normal" stroke="#000" stroke-width="0.12" text-anchor="middle">-1.8</text><text x="880.5" y="493.7" font-size="8.80" text-anchor="middle">2.6</text><text x="924.0" y="493.7" font-size="8.80" fill="#fff" text-anchor="middle">6.2</text><text x="967.5" y="493.7" font-size="8.80" text-anchor="middle">2.8</text><text x="1011.0" y="493.7" font-size="8.80" text-anchor="middle">1.9</text><text x="1054.5" y="493.7" font-size="8.80" style="font-weight:normal" stroke="#000" stroke-width="0.12" text-anchor="middle">-0.9</text><text x="1098.0" y="493.7" font-size="8.80" style="font-weight:normal" stroke="#000" stroke-width="0.12" text-anchor="middle">1.5</text><text x="837.0" y="508.9" font-size="8.80" style="font-weight:normal" stroke="#000" stroke-width="0.12" text-anchor="middle">-1.7</text><text x="880.5" y="508.9" font-size="8.80" text-anchor="middle">2.1</text><text x="924.0" y="508.9" font-size="8.80" text-anchor="middle">3.1</text><text x="967.5" y="508.9" font-size="8.80" fill="#fff" text-anchor="middle">6.2</text><text x="1011.0" y="508.9" font-size="8.80" text-anchor="middle">2.8</text><text x="1054.5" y="508.9" font-size="8.80" text-anchor="middle">-1.8</text><text x="1098.0" y="508.9" font-size="8.80" style="font-weight:normal" stroke="#000" stroke-width="0.12" text-anchor="middle">1.3</text><text x="837.0" y="524.2" font-size="8.80" text-anchor="middle">-2.3</text><text x="880.5" y="524.2" font-size="8.80" text-anchor="middle">2.9</text><text x="924.0" y="524.2" font-size="8.80" style="font-weight:normal" stroke="#000" stroke-width="0.12" text-anchor="middle">1.3</text><text x="967.5" y="524.2" font-size="8.80" text-anchor="middle">2.5</text><text x="1011.0" y="524.2" font-size="8.80" fill="#fff" text-anchor="middle">6.3</text><text x="1054.5" y="524.2" font-size="8.80" style="font-weight:normal" stroke="#000" stroke-width="0.12" text-anchor="middle">1.2</text><text x="1098.0" y="524.2" font-size="8.80" style="font-weight:normal" stroke="#000" stroke-width="0.12" text-anchor="middle">1.1</text><text x="837.0" y="539.4" font-size="8.80" style="font-weight:normal" stroke="#000" stroke-width="0.12" text-anchor="middle">-1.4</text><text x="880.5" y="539.4" font-size="8.80" text-anchor="middle">2.0</text><text x="924.0" y="539.4" font-size="8.80" style="font-weight:normal" stroke="#000" stroke-width="0.12" text-anchor="middle">-1.6</text><text x="967.5" y="539.4" font-size="8.80" style="font-weight:normal" stroke="#000" stroke-width="0.12" text-anchor="middle">0.9</text><text x="1011.0" y="539.4" font-size="8.80" text-anchor="middle">2.0</text><text x="1054.5" y="539.4" font-size="8.80" fill="#fff" text-anchor="middle">6.2</text><text x="1098.0" y="539.4" font-size="8.80" text-anchor="middle">2.6</text><text x="837.0" y="554.6" font-size="8.80" style="font-weight:normal" stroke="#000" stroke-width="0.12" text-anchor="middle">-1.2</text><text x="880.5" y="554.6" font-size="8.80" text-anchor="middle">3.0</text><text x="924.0" y="554.6" font-size="8.80" style="font-weight:normal" stroke="#000" stroke-width="0.12" text-anchor="middle">1.0</text><text x="967.5" y="554.6" font-size="8.80" text-anchor="middle">2.1</text><text x="1011.0" y="554.6" font-size="8.80" style="font-weight:normal" stroke="#000" stroke-width="0.12" text-anchor="middle">1.6</text><text x="1054.5" y="554.6" font-size="8.80" text-anchor="middle">2.9</text><text x="1098.0" y="554.6" font-size="8.80" fill="#fff" text-anchor="middle">6.5</text><text x="837.0" y="569.8" font-size="8.80" text-anchor="middle">-6.2</text><text x="880.5" y="569.8" font-size="8.80" text-anchor="middle">1.7</text><text x="924.0" y="569.8" font-size="8.80" style="font-weight:normal" stroke="#000" stroke-width="0.12" text-anchor="middle">1.8</text><text x="967.5" y="569.8" font-size="8.80" text-anchor="middle">1.9</text><text x="1011.0" y="569.8" font-size="8.80" text-anchor="middle">2.9</text><text x="1054.5" y="569.8" font-size="8.80" style="font-weight:normal" stroke="#000" stroke-width="0.12" text-anchor="middle">1.4</text><text x="1098.0" y="569.8" font-size="8.80" style="font-weight:normal" stroke="#000" stroke-width="0.12" text-anchor="middle">1.4</text><text x="837.0" y="585.0" font-size="8.80" style="font-weight:normal" stroke="#000" stroke-width="0.12" text-anchor="middle">1.0</text><text x="880.5" y="585.0" font-size="8.80" text-anchor="middle">-6.3</text><text x="924.0" y="585.0" font-size="8.80" style="font-weight:normal" stroke="#000" stroke-width="0.12" text-anchor="middle">0.6</text><text x="967.5" y="585.0" font-size="8.80" style="font-weight:normal" stroke="#000" stroke-width="0.12" text-anchor="middle">-1.2</text><text x="1011.0" y="585.0" font-size="8.80" style="font-weight:normal" stroke="#000" stroke-width="0.12" text-anchor="middle">-1.7</text><text x="1054.5" y="585.0" font-size="8.80" text-anchor="middle">-3.1</text><text x="1098.0" y="585.0" font-size="8.80" text-anchor="middle">-2.0</text><text x="837.0" y="600.3" font-size="8.80" style="font-weight:normal" stroke="#000" stroke-width="0.12" text-anchor="middle">-1.0</text><text x="880.5" y="600.3" font-size="8.80" style="font-weight:normal" stroke="#000" stroke-width="0.12" text-anchor="middle">0.8</text><text x="924.0" y="600.3" font-size="8.80" text-anchor="middle">-6.2</text><text x="967.5" y="600.3" font-size="8.80" style="font-weight:normal" stroke="#000" stroke-width="0.12" text-anchor="middle">1.3</text><text x="1011.0" y="600.3" font-size="8.80" style="font-weight:normal" stroke="#000" stroke-width="0.12" text-anchor="middle">1.3</text><text x="1054.5" y="600.3" font-size="8.80" text-anchor="middle">1.9</text><text x="1098.0" y="600.3" font-size="8.80" style="font-weight:normal" stroke="#000" stroke-width="0.12" text-anchor="middle">0.9</text><text x="837.0" y="615.5" font-size="8.80" style="font-weight:normal" stroke="#000" stroke-width="0.12" text-anchor="middle">1.8</text><text x="880.5" y="615.5" font-size="8.80" text-anchor="middle">-2.9</text><text x="924.0" y="615.5" font-size="8.80" style="font-weight:normal" stroke="#000" stroke-width="0.12" text-anchor="middle">-1.7</text><text x="967.5" y="615.5" font-size="8.80" text-anchor="middle">-6.2</text><text x="1011.0" y="615.5" font-size="8.80" text-anchor="middle">-3.3</text><text x="1054.5" y="615.5" font-size="8.80" style="font-weight:normal" stroke="#000" stroke-width="0.12" text-anchor="middle">-1.2</text><text x="1098.0" y="615.5" font-size="8.80" text-anchor="middle">-1.8</text><text x="837.0" y="630.7" font-size="8.80" text-anchor="middle">2.3</text><text x="880.5" y="630.7" font-size="8.80" text-anchor="middle">-1.8</text><text x="924.0" y="630.7" font-size="8.80" style="font-weight:normal" stroke="#000" stroke-width="0.12" text-anchor="middle">-0.8</text><text x="967.5" y="630.7" font-size="8.80" text-anchor="middle">-2.7</text><text x="1011.0" y="630.7" font-size="8.80" text-anchor="middle">-6.3</text><text x="1054.5" y="630.7" font-size="8.80" style="font-weight:normal" stroke="#000" stroke-width="0.12" text-anchor="middle">-0.7</text><text x="1098.0" y="630.7" font-size="8.80" style="font-weight:normal" stroke="#000" stroke-width="0.12" text-anchor="middle">-1.2</text><text x="837.0" y="645.9" font-size="8.80" style="font-weight:normal" stroke="#000" stroke-width="0.12" text-anchor="middle">1.5</text><text x="880.5" y="645.9" font-size="8.80" text-anchor="middle">-2.6</text><text x="924.0" y="645.9" font-size="8.80" style="font-weight:normal" stroke="#000" stroke-width="0.12" text-anchor="middle">0.9</text><text x="967.5" y="645.9" font-size="8.80" style="font-weight:normal" stroke="#000" stroke-width="0.12" text-anchor="middle">1.0</text><text x="1011.0" y="645.9" font-size="8.80" style="font-weight:normal" stroke="#000" stroke-width="0.12" text-anchor="middle">-0.8</text><text x="1054.5" y="645.9" font-size="8.80" text-anchor="middle">-6.1</text><text x="1098.0" y="645.9" font-size="8.80" text-anchor="middle">-2.4</text><text x="837.0" y="661.1" font-size="8.80" style="font-weight:normal" stroke="#000" stroke-width="0.12" text-anchor="middle">0.9</text><text x="880.5" y="661.1" font-size="8.80" text-anchor="middle">-2.1</text><text x="924.0" y="661.1" font-size="8.80" style="font-weight:normal" stroke="#000" stroke-width="0.12" text-anchor="middle">-1.4</text><text x="967.5" y="661.1" font-size="8.80" style="font-weight:normal" stroke="#000" stroke-width="0.12" text-anchor="middle">-1.6</text><text x="1011.0" y="661.1" font-size="8.80" style="font-weight:normal" stroke="#000" stroke-width="0.12" text-anchor="middle">-1.2</text><text x="1054.5" y="661.1" font-size="8.80" text-anchor="middle">-2.7</text><text x="1098.0" y="661.1" font-size="8.80" text-anchor="middle">-6.2</text><path d="M815.20 451.50H1119.70M815.20 466.72H1119.70M815.20 481.94H1119.70M815.20 497.16H1119.70M815.20 512.38H1119.70M815.20 527.60H1119.70M815.20 542.82H1119.70M815.20 558.04H1119.70M815.20 573.26H1119.70M815.20 588.48H1119.70M815.20 603.70H1119.70M815.20 618.92H1119.70M815.20 634.14H1119.70M815.20 649.36H1119.70M815.20 664.58H1119.70M815.20 451.50V664.58M858.70 451.50V664.58M902.20 451.50V664.58M945.70 451.50V664.58M989.20 451.50V664.58M1032.70 451.50V664.58M1076.20 451.50V664.58" stroke="#333" stroke-width="0.9" fill="none"/><path d="M1119.70 451.50H1195.50M1119.70 466.72H1195.50M1119.70 481.94H1195.50M1119.70 497.16H1195.50M1119.70 512.38H1195.50M1119.70 527.60H1195.50M1119.70 542.82H1195.50M1119.70 558.04H1195.50M1119.70 573.26H1195.50M1119.70 588.48H1195.50M1119.70 603.70H1195.50M1119.70 618.92H1195.50M1119.70 634.14H1195.50M1119.70 649.36H1195.50M1119.70 664.58H1195.50M1195.50 451.50V664.58" stroke="#333" stroke-width="0.9" fill="none"/><path d="M1119.70 451.50V664.58" stroke="#111" stroke-width="1.00"/><path d="M815.20 558.04H1195.50" stroke="#000" stroke-width="1.60"/>
<text x="1157.60" y="461.41" font-size="6.40" fill="#ff0000" text-anchor="middle">GBM<tspan font-size="3.84" dy="-2.69">WT</tspan><tspan font-size="6.40" dy="2.69">1: NE/B</tspan></text>
<text x="1157.60" y="476.63" font-size="6.40" fill="#ff0000" text-anchor="middle">GBM<tspan font-size="3.84" dy="-2.69">WT</tspan><tspan font-size="6.40" dy="2.69">2: NE/B</tspan></text>
<text x="1157.60" y="491.85" font-size="6.40" fill="#ff0000" text-anchor="middle">GBM<tspan font-size="3.84" dy="-2.69">WT</tspan><tspan font-size="6.40" dy="2.69">3: NE/B</tspan></text>
<text x="1157.60" y="507.07" font-size="6.40" fill="#ff0000" text-anchor="middle">GBM<tspan font-size="3.84" dy="-2.69">WT</tspan><tspan font-size="6.40" dy="2.69">4 : NE/B</tspan></text>
<text x="1157.60" y="522.29" font-size="6.40" fill="#ff0000" text-anchor="middle">H3K27M-Astro<tspan font-size="3.84" dy="-2.69">4-WT</tspan><tspan font-size="6.40" dy="2.69">: NE/B</tspan></text>
<text x="1157.60" y="537.51" font-size="6.40" fill="#2a3cff" text-anchor="middle">Astro<tspan font-size="3.84" dy="-2.69">4-mut</tspan><tspan font-size="6.40" dy="2.69">1: NE/B</tspan></text>
<text x="1157.60" y="552.73" font-size="6.40" fill="#2a3cff" text-anchor="middle">Astro<tspan font-size="3.84" dy="-2.69">4-mut</tspan><tspan font-size="6.40" dy="2.69">2: NE/B</tspan></text>
<text x="1157.60" y="567.95" font-size="6.40" fill="#ff0000" text-anchor="middle">GBM<tspan font-size="3.84" dy="-2.69">WT</tspan><tspan font-size="6.40" dy="2.69">1: B/NE</tspan></text>
<text x="1157.60" y="583.17" font-size="6.40" fill="#ff0000" text-anchor="middle">GBM<tspan font-size="3.84" dy="-2.69">WT</tspan><tspan font-size="6.40" dy="2.69">2: B/NE</tspan></text>
<text x="1157.60" y="598.39" font-size="6.40" fill="#ff0000" text-anchor="middle">GBM<tspan font-size="3.84" dy="-2.69">WT</tspan><tspan font-size="6.40" dy="2.69">3: B/NE</tspan></text>
<text x="1157.60" y="613.61" font-size="6.40" fill="#ff0000" text-anchor="middle">GBM<tspan font-size="3.84" dy="-2.69">WT</tspan><tspan font-size="6.40" dy="2.69">4 : B/NE</tspan></text>
<text x="1157.60" y="628.83" font-size="6.40" fill="#ff0000" text-anchor="middle">H3K27M-Astro<tspan font-size="3.84" dy="-2.69">4-WT</tspan><tspan font-size="6.40" dy="2.69">: B/NE</tspan></text>
<text x="1157.60" y="644.05" font-size="6.40" fill="#2a3cff" text-anchor="middle">Astro<tspan font-size="3.84" dy="-2.69">4-mut</tspan><tspan font-size="6.40" dy="2.69">1: B/NE</tspan></text>
<text x="1157.60" y="659.27" font-size="6.40" fill="#2a3cff" text-anchor="middle">Astro<tspan font-size="3.84" dy="-2.69">4-mut</tspan><tspan font-size="6.40" dy="2.69">2: B/NE</tspan></text>
<text x="52.20" y="434.00" font-size="9.00" transform="rotate(-36.0 52.20 434.00)">GBM<tspan font-size="4.50" dy="-2.70">WT</tspan><tspan font-size="9.00" dy="2.70">1</tspan></text>
<text x="75.00" y="434.00" font-size="9.00" transform="rotate(-36.0 75.00 434.00)">GBM<tspan font-size="4.50" dy="-2.70">WT</tspan><tspan font-size="9.00" dy="2.70">2</tspan></text>
<text x="97.80" y="434.00" font-size="9.00" transform="rotate(-36.0 97.80 434.00)">GBM<tspan font-size="4.50" dy="-2.70">WT</tspan><tspan font-size="9.00" dy="2.70">2B</tspan></text>
<text x="120.60" y="434.00" font-size="9.00" transform="rotate(-36.0 120.60 434.00)">GBM<tspan font-size="4.50" dy="-2.70">WT</tspan><tspan font-size="9.00" dy="2.70">3</tspan></text>
<text x="143.40" y="434.00" font-size="9.00" transform="rotate(-36.0 143.40 434.00)">GBM<tspan font-size="4.50" dy="-2.70">WT</tspan><tspan font-size="9.00" dy="2.70">4</tspan></text>
<text x="166.20" y="434.00" font-size="9.00" transform="rotate(-36.0 166.20 434.00)">H3K27M-Astro<tspan font-size="4.50" dy="-2.70">4-WT</tspan></text>
<text x="189.00" y="434.00" font-size="9.00" transform="rotate(-36.0 189.00 434.00)">Astro<tspan font-size="4.50" dy="-2.70">4-mut</tspan><tspan font-size="9.00" dy="2.70">1</tspan></text>
<text x="211.80" y="434.00" font-size="9.00" transform="rotate(-36.0 211.80 434.00)">Astro<tspan font-size="4.50" dy="-2.70">4-mut</tspan><tspan font-size="9.00" dy="2.70">2</tspan></text>
<text x="234.60" y="434.00" font-size="9.00" transform="rotate(-36.0 234.60 434.00)">Astro<tspan font-size="4.50" dy="-2.70">4-mut</tspan><tspan font-size="9.00" dy="2.70">3</tspan></text>
<text x="405.80" y="454.80" font-size="8.60" style="font-weight:normal" stroke="#000" stroke-width="0.3" transform="rotate(-38.0 405.80 454.80)">GBM<tspan font-size="4.30" dy="-2.58">WT</tspan><tspan font-size="8.60" dy="2.58">1</tspan></text>
<text x="447.64" y="454.80" font-size="8.60" style="font-weight:normal" stroke="#000" stroke-width="0.3" transform="rotate(-38.0 447.64 454.80)">GBM<tspan font-size="4.30" dy="-2.58">WT</tspan><tspan font-size="8.60" dy="2.58">2</tspan></text>
<text x="489.48" y="454.80" font-size="8.60" style="font-weight:normal" stroke="#000" stroke-width="0.3" transform="rotate(-38.0 489.48 454.80)">GBM<tspan font-size="4.30" dy="-2.58">WT</tspan><tspan font-size="8.60" dy="2.58">3</tspan></text>
<text x="531.32" y="454.80" font-size="8.60" style="font-weight:normal" stroke="#000" stroke-width="0.3" transform="rotate(-38.0 531.32 454.80)">GBM<tspan font-size="4.30" dy="-2.58">WT</tspan><tspan font-size="8.60" dy="2.58">4</tspan></text>
<text x="573.16" y="454.80" font-size="8.60" style="font-weight:normal" stroke="#000" stroke-width="0.3" transform="rotate(-38.0 573.16 454.80)">H3K27M-Astro<tspan font-size="4.30" dy="-2.58">4-WT</tspan></text>
<text x="615.00" y="454.80" font-size="8.60" style="font-weight:normal" stroke="#000" stroke-width="0.3" transform="rotate(-38.0 615.00 454.80)">Astro<tspan font-size="4.30" dy="-2.58">4-mut</tspan><tspan font-size="8.60" dy="2.58">1</tspan></text>
<text x="656.84" y="454.80" font-size="8.60" style="font-weight:normal" stroke="#000" stroke-width="0.3" transform="rotate(-38.0 656.84 454.80)">Astro<tspan font-size="4.30" dy="-2.58">4-mut</tspan><tspan font-size="8.60" dy="2.58">2</tspan></text>
<text x="837.20" y="449.80" font-size="8.60" style="font-weight:normal" stroke="#000" stroke-width="0.3" transform="rotate(-39.0 837.20 449.80)">GBM<tspan font-size="4.30" dy="-2.58">WT</tspan><tspan font-size="8.60" dy="2.58">1</tspan></text>
<text x="880.70" y="449.80" font-size="8.60" style="font-weight:normal" stroke="#000" stroke-width="0.3" transform="rotate(-39.0 880.70 449.80)">GBM<tspan font-size="4.30" dy="-2.58">WT</tspan><tspan font-size="8.60" dy="2.58">2</tspan></text>
<text x="924.20" y="449.80" font-size="8.60" style="font-weight:normal" stroke="#000" stroke-width="0.3" transform="rotate(-39.0 924.20 449.80)">GBM<tspan font-size="4.30" dy="-2.58">WT</tspan><tspan font-size="8.60" dy="2.58">3</tspan></text>
<text x="967.70" y="449.80" font-size="8.60" style="font-weight:normal" stroke="#000" stroke-width="0.3" transform="rotate(-39.0 967.70 449.80)">GBM<tspan font-size="4.30" dy="-2.58">WT</tspan><tspan font-size="8.60" dy="2.58">4</tspan></text>
<text x="1011.20" y="449.80" font-size="8.60" style="font-weight:normal" stroke="#000" stroke-width="0.3" transform="rotate(-39.0 1011.20 449.80)">H3K27M-Astro<tspan font-size="4.30" dy="-2.58">4-WT</tspan></text>
<text x="1054.70" y="449.80" font-size="8.60" style="font-weight:normal" stroke="#000" stroke-width="0.3" transform="rotate(-39.0 1054.70 449.80)">Astro<tspan font-size="4.30" dy="-2.58">4-mut</tspan><tspan font-size="8.60" dy="2.58">1</tspan></text>
<text x="1098.20" y="449.80" font-size="8.60" style="font-weight:normal" stroke="#000" stroke-width="0.3" transform="rotate(-39.0 1098.20 449.80)">Astro<tspan font-size="4.30" dy="-2.58">4-mut</tspan><tspan font-size="8.60" dy="2.58">2</tspan></text>
<text x="260.2" y="432.0" font-size="7.20">Metabolite set</text>
<text x="687.0" y="453.3" font-size="7.20">Metabolite set</text>
<text x="1128.5" y="447.8" font-size="7.50">Metabolite set</text>
<text x="5.3" y="427.6" font-size="12.60">(ii)</text>
<text x="365.7" y="437.5" font-size="12.90">(ii)</text>
<text x="801.0" y="433.5" font-size="12.80">(ii)</text>
<text x="363.8" y="453.5" font-size="8.30">NES</text>
<text x="792.5" y="445.6" font-size="8.40">NES</text>
<text x="6.0" y="438.8" font-size="9.00">6.5</text>
<text x="16.2" y="581.9" font-size="9.00" text-anchor="end">0</text>
<text x="2.7" y="671.0" font-size="8.80">-6.5</text>
<text x="352.8" y="462.0" font-size="7.50">6.5</text>
<text x="363.0" y="563.7" font-size="8.00" text-anchor="end">0</text>
<text x="352.0" y="663.7" font-size="7.40">-6.5</text>
<text x="780.0" y="455.0" font-size="7.80">6.5</text>
<text x="791.2" y="560.0" font-size="8.30" text-anchor="end">0</text>
<text x="778.8" y="664.7" font-size="7.80">-6.5</text>
<defs><linearGradient id="cba" x1="0" y1="435.3" x2="0" y2="669.6" gradientUnits="userSpaceOnUse"><stop offset="0" stop-color="#fd9608"/><stop offset="0.205" stop-color="#fdab39"/><stop offset="0.409" stop-color="#fed59c"/><stop offset="0.614" stop-color="#fff"/><stop offset="1" stop-color="#6aac46"/></linearGradient></defs><rect x="21.60" y="435.30" width="14.70" height="234.30" fill="url(#cba)" stroke="#000" stroke-width="1.50"/><path d="M21.60 483.00h2.5M36.30 483.00h-2.5" stroke="#000" stroke-width="1.1"/><path d="M21.60 531.00h2.5M36.30 531.00h-2.5" stroke="#000" stroke-width="1.1"/><path d="M21.60 579.20h2.5M36.30 579.20h-2.5" stroke="#000" stroke-width="1.1"/><path d="M21.60 627.00h2.5M36.30 627.00h-2.5" stroke="#000" stroke-width="1.1"/>
<defs><linearGradient id="cbb" x1="0" y1="457.7" x2="0" y2="663.5" gradientUnits="userSpaceOnUse"><stop offset="0" stop-color="#fd9608"/><stop offset="0.166" stop-color="#fdab39"/><stop offset="0.333" stop-color="#fed59c"/><stop offset="0.499" stop-color="#fff"/><stop offset="1" stop-color="#8032aa"/></linearGradient></defs><rect x="367.30" y="457.70" width="12.60" height="205.80" fill="url(#cbb)" stroke="#555" stroke-width="1.10"/><path d="M367.30 512.00h2.5M379.90 512.00h-2.5" stroke="#555" stroke-width="1.1"/><path d="M367.30 560.40h2.5M379.90 560.40h-2.5" stroke="#555" stroke-width="1.1"/><path d="M367.30 612.00h2.5M379.90 612.00h-2.5" stroke="#555" stroke-width="1.1"/>
<defs><linearGradient id="cbc" x1="0" y1="451.2" x2="0" y2="664.6" gradientUnits="userSpaceOnUse"><stop offset="0" stop-color="#8000ff"/><stop offset="0.165" stop-color="#9933ff"/><stop offset="0.331" stop-color="#cc99ff"/><stop offset="0.496" stop-color="#fff"/><stop offset="1" stop-color="#3c8228"/></linearGradient></defs><rect x="794.60" y="451.20" width="11.80" height="213.40" fill="url(#cbc)" stroke="#333" stroke-width="1.10"/><path d="M794.60 504.00h2.5M806.40 504.00h-2.5" stroke="#333" stroke-width="1.1"/><path d="M794.60 557.00h2.5M806.40 557.00h-2.5" stroke="#333" stroke-width="1.1"/><path d="M794.60 610.00h2.5M806.40 610.00h-2.5" stroke="#333" stroke-width="1.1"/>
<text x="28.40" y="483.09" font-size="9.70" fill="#000" text-anchor="middle" transform="rotate(-90 28.40 479.70)" textLength="83.4" lengthAdjust="spacingAndGlyphs">Enhancing Tumor</text>
<text x="28.60" y="657.34" font-size="9.40" fill="#000" text-anchor="middle" transform="rotate(-90 28.60 654.05)" textLength="25.1" lengthAdjust="spacingAndGlyphs">Brain</text>
<text x="373.60" y="496.64" font-size="8.40" fill="#000" text-anchor="middle" transform="rotate(-90 373.60 493.70)" textLength="71.8" lengthAdjust="spacingAndGlyphs">Enhancing Tumor</text>
<text x="373.60" y="621.44" font-size="8.40" fill="#000" text-anchor="middle" transform="rotate(-90 373.60 618.50)" textLength="87.0" lengthAdjust="spacingAndGlyphs">Non-enhancing Tumor</text>
<text x="800.50" y="501.44" font-size="8.40" fill="#000" text-anchor="middle" transform="rotate(-90 800.50 498.50)" textLength="89.0" lengthAdjust="spacingAndGlyphs">Non-enhancing Tumor</text>
<text x="801.00" y="651.81" font-size="8.60" fill="#000" text-anchor="middle" transform="rotate(-90 801.00 648.80)">Brain</text>
</svg></body></html>
